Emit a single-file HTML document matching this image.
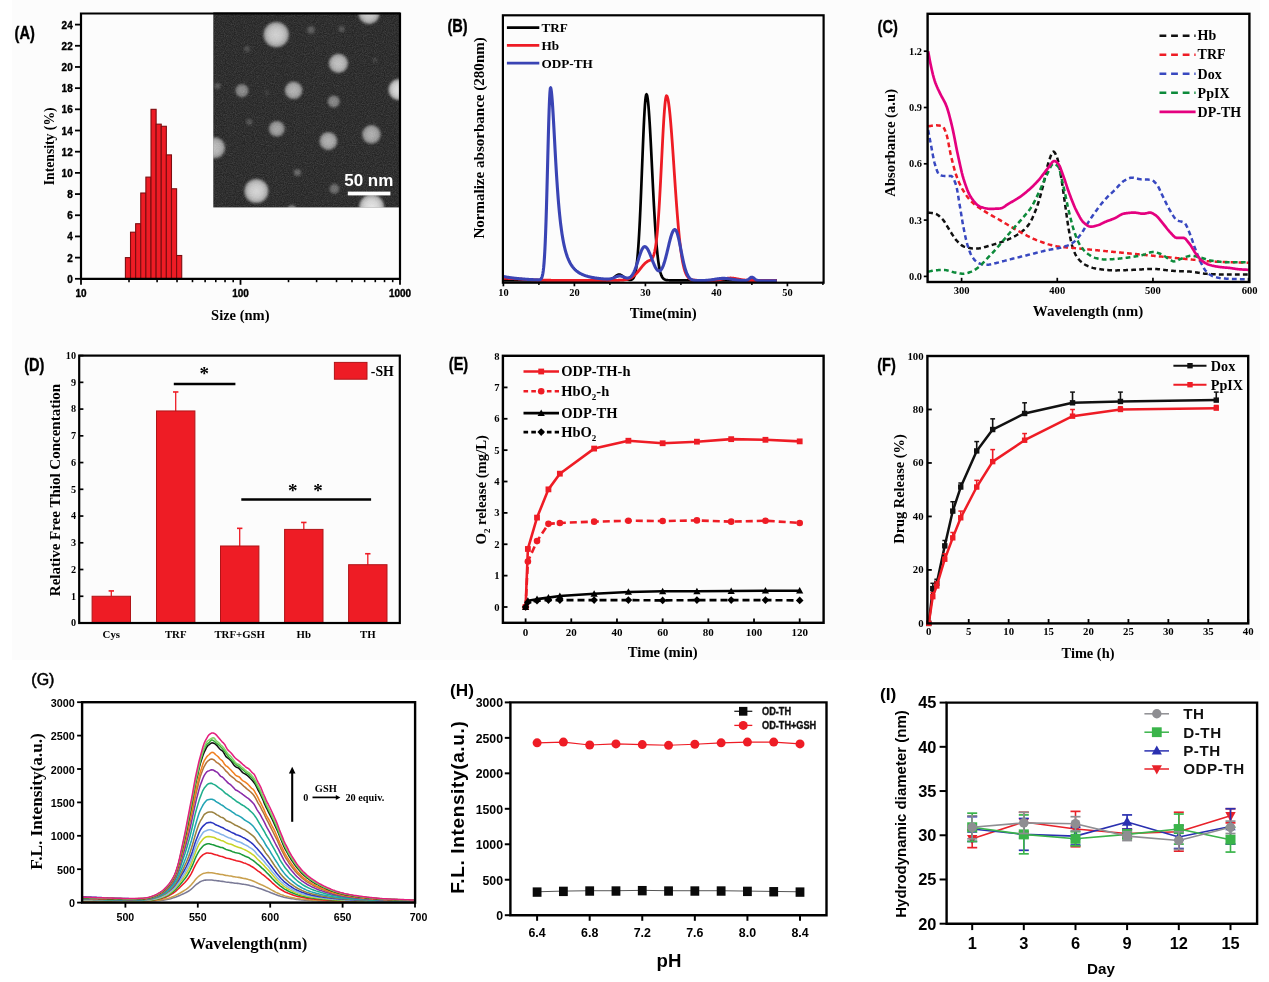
<!DOCTYPE html>
<html lang="en">
<head>
<meta charset="utf-8">
<title>Figure: characterization of ODP-TH nanoparticles</title>
<style>
html,body{margin:0;padding:0;background:#fff;}
body{width:1269px;height:982px;overflow:hidden;}
svg{display:block;}
text.se{font-family:'Liberation Serif', 'DejaVu Serif', serif;}
text.sa{font-family:'Liberation Sans', 'DejaVu Sans', sans-serif;}
</style>
</head>
<body>
<svg width="1269" height="982" viewBox="0 0 1269 982">
<rect x="0" y="0" width="1269" height="982" fill="#ffffff"/>
<rect x="12" y="0" width="1248" height="660" fill="#fcfcfc"/>
<g id="panelA">
<text class="sa" transform="translate(14.6 38.8) scale(0.79 1)" font-size="18.4" font-weight="bold" text-anchor="start" fill="#000" stroke="#000" stroke-width="0.4">(A)</text>
<line x1="75" y1="278.8" x2="81" y2="278.8" stroke="#000" stroke-width="1.8" />
<text class="sa" transform="translate(72.7 282.8) scale(0.89 1)" font-size="11.2" font-weight="bold" text-anchor="end" fill="#000" stroke="#000" stroke-width="0.4">0</text>
<line x1="75" y1="257.62" x2="81" y2="257.62" stroke="#000" stroke-width="1.8" />
<text class="sa" transform="translate(72.7 261.62) scale(0.89 1)" font-size="11.2" font-weight="bold" text-anchor="end" fill="#000" stroke="#000" stroke-width="0.4">2</text>
<line x1="75" y1="236.43" x2="81" y2="236.43" stroke="#000" stroke-width="1.8" />
<text class="sa" transform="translate(72.7 240.43) scale(0.89 1)" font-size="11.2" font-weight="bold" text-anchor="end" fill="#000" stroke="#000" stroke-width="0.4">4</text>
<line x1="75" y1="215.25" x2="81" y2="215.25" stroke="#000" stroke-width="1.8" />
<text class="sa" transform="translate(72.7 219.25) scale(0.89 1)" font-size="11.2" font-weight="bold" text-anchor="end" fill="#000" stroke="#000" stroke-width="0.4">6</text>
<line x1="75" y1="194.07" x2="81" y2="194.07" stroke="#000" stroke-width="1.8" />
<text class="sa" transform="translate(72.7 198.07) scale(0.89 1)" font-size="11.2" font-weight="bold" text-anchor="end" fill="#000" stroke="#000" stroke-width="0.4">8</text>
<line x1="75" y1="172.88" x2="81" y2="172.88" stroke="#000" stroke-width="1.8" />
<text class="sa" transform="translate(72.7 176.88) scale(0.89 1)" font-size="11.2" font-weight="bold" text-anchor="end" fill="#000" stroke="#000" stroke-width="0.4">10</text>
<line x1="75" y1="151.7" x2="81" y2="151.7" stroke="#000" stroke-width="1.8" />
<text class="sa" transform="translate(72.7 155.7) scale(0.89 1)" font-size="11.2" font-weight="bold" text-anchor="end" fill="#000" stroke="#000" stroke-width="0.4">12</text>
<line x1="75" y1="130.52" x2="81" y2="130.52" stroke="#000" stroke-width="1.8" />
<text class="sa" transform="translate(72.7 134.52) scale(0.89 1)" font-size="11.2" font-weight="bold" text-anchor="end" fill="#000" stroke="#000" stroke-width="0.4">14</text>
<line x1="75" y1="109.33" x2="81" y2="109.33" stroke="#000" stroke-width="1.8" />
<text class="sa" transform="translate(72.7 113.33) scale(0.89 1)" font-size="11.2" font-weight="bold" text-anchor="end" fill="#000" stroke="#000" stroke-width="0.4">16</text>
<line x1="75" y1="88.15" x2="81" y2="88.15" stroke="#000" stroke-width="1.8" />
<text class="sa" transform="translate(72.7 92.15) scale(0.89 1)" font-size="11.2" font-weight="bold" text-anchor="end" fill="#000" stroke="#000" stroke-width="0.4">18</text>
<line x1="75" y1="66.97" x2="81" y2="66.97" stroke="#000" stroke-width="1.8" />
<text class="sa" transform="translate(72.7 70.97) scale(0.89 1)" font-size="11.2" font-weight="bold" text-anchor="end" fill="#000" stroke="#000" stroke-width="0.4">20</text>
<line x1="75" y1="45.78" x2="81" y2="45.78" stroke="#000" stroke-width="1.8" />
<text class="sa" transform="translate(72.7 49.78) scale(0.89 1)" font-size="11.2" font-weight="bold" text-anchor="end" fill="#000" stroke="#000" stroke-width="0.4">22</text>
<line x1="75" y1="24.6" x2="81" y2="24.6" stroke="#000" stroke-width="1.8" />
<text class="sa" transform="translate(72.7 28.6) scale(0.89 1)" font-size="11.2" font-weight="bold" text-anchor="end" fill="#000" stroke="#000" stroke-width="0.4">24</text>
<line x1="129.01" y1="278.8" x2="129.01" y2="282.2" stroke="#000" stroke-width="1.6" />
<line x1="157.1" y1="278.8" x2="157.1" y2="282.2" stroke="#000" stroke-width="1.6" />
<line x1="177.03" y1="278.8" x2="177.03" y2="282.2" stroke="#000" stroke-width="1.6" />
<line x1="192.49" y1="278.8" x2="192.49" y2="282.2" stroke="#000" stroke-width="1.6" />
<line x1="205.12" y1="278.8" x2="205.12" y2="282.2" stroke="#000" stroke-width="1.6" />
<line x1="215.79" y1="278.8" x2="215.79" y2="282.2" stroke="#000" stroke-width="1.6" />
<line x1="225.04" y1="278.8" x2="225.04" y2="282.2" stroke="#000" stroke-width="1.6" />
<line x1="233.2" y1="278.8" x2="233.2" y2="282.2" stroke="#000" stroke-width="1.6" />
<line x1="288.51" y1="278.8" x2="288.51" y2="282.2" stroke="#000" stroke-width="1.6" />
<line x1="316.6" y1="278.8" x2="316.6" y2="282.2" stroke="#000" stroke-width="1.6" />
<line x1="336.53" y1="278.8" x2="336.53" y2="282.2" stroke="#000" stroke-width="1.6" />
<line x1="351.99" y1="278.8" x2="351.99" y2="282.2" stroke="#000" stroke-width="1.6" />
<line x1="364.62" y1="278.8" x2="364.62" y2="282.2" stroke="#000" stroke-width="1.6" />
<line x1="375.29" y1="278.8" x2="375.29" y2="282.2" stroke="#000" stroke-width="1.6" />
<line x1="384.54" y1="278.8" x2="384.54" y2="282.2" stroke="#000" stroke-width="1.6" />
<line x1="392.7" y1="278.8" x2="392.7" y2="282.2" stroke="#000" stroke-width="1.6" />
<line x1="81" y1="278.8" x2="81" y2="284.8" stroke="#000" stroke-width="1.8" />
<text class="sa" transform="translate(81 296.9) scale(0.89 1)" font-size="11.2" font-weight="bold" text-anchor="middle" fill="#000" stroke="#000" stroke-width="0.4">10</text>
<line x1="240.5" y1="278.8" x2="240.5" y2="284.8" stroke="#000" stroke-width="1.8" />
<text class="sa" transform="translate(240.5 296.9) scale(0.89 1)" font-size="11.2" font-weight="bold" text-anchor="middle" fill="#000" stroke="#000" stroke-width="0.4">100</text>
<line x1="400" y1="278.8" x2="400" y2="284.8" stroke="#000" stroke-width="1.8" />
<text class="sa" transform="translate(400 296.9) scale(0.89 1)" font-size="11.2" font-weight="bold" text-anchor="middle" fill="#000" stroke="#000" stroke-width="0.4">1000</text>
<rect x="125.4" y="257.62" width="5.12" height="21.18" fill="#ee1c25" stroke="#7d0d10" stroke-width="1.1" />
<rect x="130.52" y="232.2" width="5.12" height="46.6" fill="#ee1c25" stroke="#7d0d10" stroke-width="1.1" />
<rect x="135.64" y="223.72" width="5.12" height="55.08" fill="#ee1c25" stroke="#7d0d10" stroke-width="1.1" />
<rect x="140.76" y="193.01" width="5.12" height="85.79" fill="#ee1c25" stroke="#7d0d10" stroke-width="1.1" />
<rect x="145.88" y="177.12" width="5.12" height="101.68" fill="#ee1c25" stroke="#7d0d10" stroke-width="1.1" />
<rect x="151" y="109.33" width="5.12" height="169.47" fill="#ee1c25" stroke="#7d0d10" stroke-width="1.1" />
<rect x="156.12" y="124.16" width="5.12" height="154.64" fill="#ee1c25" stroke="#7d0d10" stroke-width="1.1" />
<rect x="161.24" y="126.28" width="5.12" height="152.52" fill="#ee1c25" stroke="#7d0d10" stroke-width="1.1" />
<rect x="166.36" y="154.88" width="5.12" height="123.92" fill="#ee1c25" stroke="#7d0d10" stroke-width="1.1" />
<rect x="171.48" y="188.77" width="5.12" height="90.03" fill="#ee1c25" stroke="#7d0d10" stroke-width="1.1" />
<rect x="176.6" y="255.5" width="5.12" height="23.3" fill="#ee1c25" stroke="#7d0d10" stroke-width="1.1" />
<defs><clipPath id="temclip"><rect x="213.3" y="12.4" width="186.7" height="195"/></clipPath></defs>
<defs><filter id="temblur" x="-20%" y="-20%" width="140%" height="140%"><feGaussianBlur stdDeviation="1.0"/></filter><filter id="grain" x="0%" y="0%" width="100%" height="100%"><feTurbulence type="fractalNoise" baseFrequency="0.9" numOctaves="2" seed="4" result="n"/><feColorMatrix type="matrix" values="0 0 0 0 0.5  0 0 0 0 0.5  0 0 0 0 0.5  0.55 0.55 0.55 0 -0.62" result="m"/><feComposite in="m" in2="SourceGraphic" operator="in"/></filter></defs>
<rect x="213.3" y="12.4" width="186.7" height="195" fill="#252525" stroke="none" stroke-width="1" />
<rect x="213.3" y="12.4" width="186.7" height="195" fill="#888" stroke="none" stroke-width="0" filter="url(#grain)" opacity="0.35"/>
<g clip-path="url(#temclip)"><g filter="url(#temblur)">
<defs><radialGradient id="sph"><stop offset="0" stop-color="#fff" stop-opacity="1"/><stop offset="0.55" stop-color="#fff" stop-opacity="0.9"/><stop offset="0.85" stop-color="#fff" stop-opacity="0.72"/><stop offset="1" stop-color="#fff" stop-opacity="0.45"/></radialGradient></defs>
<circle cx="276.2" cy="34.7" r="12.85" fill="url(#sph)" opacity="0.79"/>
<circle cx="369" cy="13.5" r="10.75" fill="url(#sph)" opacity="0.77"/>
<circle cx="311" cy="30" r="4.25" fill="url(#sph)" opacity="0.24"/>
<circle cx="341.6" cy="29" r="3.45" fill="url(#sph)" opacity="0.2"/>
<circle cx="247" cy="49" r="3.25" fill="url(#sph)" opacity="0.17"/>
<circle cx="338.4" cy="63.4" r="9.85" fill="url(#sph)" opacity="0.72"/>
<circle cx="375" cy="60" r="2.45" fill="url(#sph)" opacity="0.14"/>
<circle cx="217.5" cy="86" r="3.45" fill="url(#sph)" opacity="0.22"/>
<circle cx="242" cy="90.7" r="6.85" fill="url(#sph)" opacity="0.47"/>
<circle cx="293.6" cy="90.3" r="9.05" fill="url(#sph)" opacity="0.65"/>
<circle cx="267" cy="92.5" r="2.25" fill="url(#sph)" opacity="0.12"/>
<circle cx="333.7" cy="101.5" r="6.35" fill="url(#sph)" opacity="0.45"/>
<circle cx="399" cy="89.6" r="10.75" fill="url(#sph)" opacity="0.86"/>
<circle cx="249.3" cy="122" r="3.45" fill="url(#sph)" opacity="0.2"/>
<circle cx="276.8" cy="128.8" r="8.15" fill="url(#sph)" opacity="0.58"/>
<circle cx="328.4" cy="141" r="9.15" fill="url(#sph)" opacity="0.64"/>
<circle cx="371.4" cy="134.4" r="9.55" fill="url(#sph)" opacity="0.63"/>
<circle cx="214.5" cy="147.8" r="10.75" fill="url(#sph)" opacity="0.7"/>
<circle cx="297.4" cy="172.5" r="3.85" fill="url(#sph)" opacity="0.3"/>
<circle cx="334.4" cy="188.8" r="5.25" fill="url(#sph)" opacity="0.33"/>
<circle cx="256.4" cy="191" r="12.25" fill="url(#sph)" opacity="0.81"/>
<circle cx="371.6" cy="207" r="12.75" fill="url(#sph)" opacity="0.88"/>
<circle cx="292" cy="209.5" r="4.75" fill="url(#sph)" opacity="0.45"/>
</g></g>
<rect x="347.8" y="191.6" width="42.6" height="3.8" fill="#ffffff" stroke="none" stroke-width="1" />
<text class="sa" x="368.8" y="185.8" font-size="17" font-weight="bold" text-anchor="middle" fill="#ffffff" >50 nm</text>
<path d="M81 13.5 H400 V278.8 H81 Z" fill="none" stroke="#000" stroke-width="2.2"/>
<text class="se" x="54.2" y="146.3" font-size="13.7" font-weight="bold" text-anchor="middle" fill="#000" transform="rotate(-90 54.2 146.3)" >Intensity (%)</text>
<text class="se" x="240.3" y="319.6" font-size="14.5" font-weight="bold" text-anchor="middle" fill="#000" >Size (nm)</text>
</g>
<g id="panelB">
<text class="sa" transform="translate(447.4 31.8) scale(0.79 1)" font-size="18.4" font-weight="bold" text-anchor="start" fill="#000" stroke="#000" stroke-width="0.4">(B)</text>
<line x1="503.4" y1="282.7" x2="503.4" y2="286.3" stroke="#000" stroke-width="1.7" />
<text class="se" x="503.4" y="296" font-size="10.4" font-weight="bold" text-anchor="middle" fill="#000" >10</text>
<line x1="574.4" y1="282.7" x2="574.4" y2="286.3" stroke="#000" stroke-width="1.7" />
<text class="se" x="574.4" y="296" font-size="10.4" font-weight="bold" text-anchor="middle" fill="#000" >20</text>
<line x1="645.4" y1="282.7" x2="645.4" y2="286.3" stroke="#000" stroke-width="1.7" />
<text class="se" x="645.4" y="296" font-size="10.4" font-weight="bold" text-anchor="middle" fill="#000" >30</text>
<line x1="716.4" y1="282.7" x2="716.4" y2="286.3" stroke="#000" stroke-width="1.7" />
<text class="se" x="716.4" y="296" font-size="10.4" font-weight="bold" text-anchor="middle" fill="#000" >40</text>
<line x1="787.4" y1="282.7" x2="787.4" y2="286.3" stroke="#000" stroke-width="1.7" />
<text class="se" x="787.4" y="296" font-size="10.4" font-weight="bold" text-anchor="middle" fill="#000" >50</text>
<line x1="538.9" y1="282.7" x2="538.9" y2="285.1" stroke="#000" stroke-width="1.5" />
<line x1="609.9" y1="282.7" x2="609.9" y2="285.1" stroke="#000" stroke-width="1.5" />
<line x1="680.9" y1="282.7" x2="680.9" y2="285.1" stroke="#000" stroke-width="1.5" />
<line x1="751.9" y1="282.7" x2="751.9" y2="285.1" stroke="#000" stroke-width="1.5" />
<line x1="822.9" y1="282.7" x2="822.9" y2="285.1" stroke="#000" stroke-width="1.5" />
<polyline points="503.4,280.33 503.79,280.33 504.18,280.33 504.57,280.33 504.96,280.33 505.36,280.33 505.75,280.33 506.14,280.33 506.53,280.33 506.92,280.33 507.31,280.33 507.7,280.33 508.09,280.33 508.48,280.33 508.87,280.33 509.27,280.33 509.66,280.33 510.05,280.33 510.44,280.33 510.83,280.33 511.22,280.33 511.61,280.33 512,280.33 512.39,280.33 512.79,280.33 513.18,280.33 513.57,280.33 513.96,280.33 514.35,280.33 514.74,280.33 515.13,280.33 515.52,280.33 515.91,280.33 516.3,280.33 516.7,280.33 517.09,280.33 517.48,280.33 517.87,280.33 518.26,280.33 518.65,280.33 519.04,280.33 519.43,280.33 519.82,280.33 520.22,280.33 520.61,280.33 521,280.33 521.39,280.33 521.78,280.33 522.17,280.33 522.56,280.33 522.95,280.33 523.34,280.33 523.74,280.33 524.13,280.33 524.52,280.33 524.91,280.33 525.3,280.33 525.69,280.33 526.08,280.33 526.47,280.33 526.86,280.33 527.25,280.33 527.65,280.33 528.04,280.33 528.43,280.33 528.82,280.33 529.21,280.33 529.6,280.33 529.99,280.33 530.38,280.33 530.77,280.33 531.17,280.33 531.56,280.33 531.95,280.33 532.34,280.33 532.73,280.33 533.12,280.33 533.51,280.33 533.9,280.33 534.29,280.33 534.68,280.33 535.08,280.33 535.47,280.33 535.86,280.33 536.25,280.33 536.64,280.33 537.03,280.33 537.42,280.33 537.81,280.33 538.2,280.33 538.6,280.33 538.99,280.33 539.38,280.33 539.77,280.33 540.16,280.33 540.55,280.33 540.94,280.33 541.33,280.33 541.72,280.33 542.11,280.33 542.51,280.33 542.9,280.33 543.29,280.33 543.68,280.33 544.07,280.33 544.46,280.33 544.85,280.33 545.24,280.33 545.63,280.33 546.03,280.33 546.42,280.33 546.81,280.33 547.2,280.33 547.59,280.33 547.98,280.33 548.37,280.33 548.76,280.33 549.15,280.33 549.54,280.33 549.94,280.33 550.33,280.33 550.72,280.33 551.11,280.33 551.5,280.33 551.89,280.33 552.28,280.33 552.67,280.33 553.06,280.33 553.46,280.33 553.85,280.33 554.24,280.33 554.63,280.33 555.02,280.33 555.41,280.33 555.8,280.33 556.19,280.33 556.58,280.33 556.98,280.33 557.37,280.33 557.76,280.33 558.15,280.33 558.54,280.33 558.93,280.33 559.32,280.33 559.71,280.33 560.1,280.33 560.49,280.33 560.89,280.33 561.28,280.33 561.67,280.33 562.06,280.33 562.45,280.33 562.84,280.33 563.23,280.33 563.62,280.33 564.01,280.33 564.41,280.33 564.8,280.33 565.19,280.33 565.58,280.33 565.97,280.33 566.36,280.33 566.75,280.33 567.14,280.33 567.53,280.33 567.92,280.33 568.32,280.33 568.71,280.33 569.1,280.33 569.49,280.33 569.88,280.33 570.27,280.33 570.66,280.33 571.05,280.33 571.44,280.33 571.84,280.33 572.23,280.33 572.62,280.33 573.01,280.33 573.4,280.33 573.79,280.33 574.18,280.33 574.57,280.33 574.96,280.33 575.35,280.33 575.75,280.33 576.14,280.33 576.53,280.33 576.92,280.33 577.31,280.33 577.7,280.33 578.09,280.33 578.48,280.33 578.87,280.33 579.27,280.33 579.66,280.33 580.05,280.33 580.44,280.33 580.83,280.33 581.22,280.33 581.61,280.33 582,280.33 582.39,280.33 582.78,280.33 583.18,280.33 583.57,280.33 583.96,280.33 584.35,280.33 584.74,280.33 585.13,280.33 585.52,280.33 585.91,280.33 586.3,280.33 586.7,280.33 587.09,280.33 587.48,280.33 587.87,280.33 588.26,280.33 588.65,280.33 589.04,280.33 589.43,280.33 589.82,280.33 590.22,280.33 590.61,280.33 591,280.33 591.39,280.33 591.78,280.33 592.17,280.33 592.56,280.33 592.95,280.33 593.34,280.33 593.73,280.33 594.13,280.33 594.52,280.33 594.91,280.33 595.3,280.33 595.69,280.33 596.08,280.33 596.47,280.33 596.86,280.33 597.25,280.33 597.65,280.33 598.04,280.33 598.43,280.33 598.82,280.33 599.21,280.33 599.6,280.33 599.99,280.33 600.38,280.33 600.77,280.33 601.16,280.33 601.56,280.33 601.95,280.33 602.34,280.33 602.73,280.33 603.12,280.32 603.51,280.32 603.9,280.32 604.29,280.32 604.68,280.31 605.08,280.3 605.47,280.3 605.86,280.28 606.25,280.27 606.64,280.25 607.03,280.23 607.42,280.2 607.81,280.16 608.2,280.11 608.59,280.06 608.99,279.99 609.38,279.91 609.77,279.81 610.16,279.7 610.55,279.57 610.94,279.42 611.33,279.25 611.72,279.05 612.11,278.84 612.51,278.6 612.9,278.35 613.29,278.07 613.68,277.78 614.07,277.47 614.46,277.16 614.85,276.84 615.24,276.51 615.63,276.2 616.02,275.89 616.42,275.61 616.81,275.34 617.2,275.11 617.59,274.91 617.98,274.75 618.37,274.64 618.76,274.57 619.15,274.54 619.54,274.57 619.94,274.65 620.33,274.77 620.72,274.93 621.11,275.14 621.5,275.37 621.89,275.64 622.28,275.93 622.67,276.24 623.06,276.55 623.46,276.87 623.85,277.19 624.24,277.51 624.63,277.81 625.02,278.1 625.41,278.38 625.8,278.63 626.19,278.86 626.58,279.07 626.97,279.26 627.37,279.42 627.76,279.56 628.15,279.68 628.54,279.78 628.93,279.85 629.32,279.9 629.71,279.93 630.1,279.93 630.49,279.91 630.89,279.85 631.28,279.75 631.67,279.6 632.06,279.39 632.45,279.11 632.84,278.75 633.23,278.28 633.62,277.67 634.01,276.91 634.4,275.96 634.8,274.78 635.19,273.34 635.58,271.59 635.97,269.49 636.36,266.98 636.75,264.03 637.14,260.58 637.53,256.58 637.92,252 638.32,246.81 638.71,240.97 639.1,234.48 639.49,227.34 639.88,219.57 640.27,211.2 640.66,202.31 641.05,192.96 641.44,183.26 641.83,173.33 642.23,163.31 642.62,153.36 643.01,143.65 643.4,134.35 643.79,125.64 644.18,117.71 644.57,110.71 644.96,104.79 645.35,100.11 645.75,96.75 646.14,94.79 646.53,94.29 646.92,94.9 647.31,96.43 647.7,98.85 648.09,102.13 648.48,106.23 648.87,111.07 649.26,116.6 649.66,122.73 650.05,129.39 650.44,136.49 650.83,143.94 651.22,151.64 651.61,159.51 652,167.47 652.39,175.42 652.78,183.3 653.18,191.04 653.57,198.56 653.96,205.83 654.35,212.79 654.74,219.4 655.13,225.63 655.52,231.48 655.91,236.91 656.3,241.94 656.69,246.55 657.09,250.75 657.48,254.56 657.87,257.99 658.26,261.06 658.65,263.8 659.04,266.21 659.43,268.33 659.82,270.19 660.21,271.8 660.61,273.19 661,274.38 661.39,275.4 661.78,276.26 662.17,276.99 662.56,277.6 662.95,278.12 663.34,278.54 663.73,278.89 664.13,279.18 664.52,279.41 664.91,279.6 665.3,279.76 665.69,279.88 666.08,279.98 666.47,280.06 666.86,280.12 667.25,280.17 667.64,280.2 668.04,280.23 668.43,280.26 668.82,280.27 669.21,280.29 669.6,280.3 669.99,280.31 670.38,280.31 670.77,280.32 671.16,280.32 671.56,280.32 671.95,280.32 672.34,280.33 672.73,280.33 673.12,280.33 673.51,280.33 673.9,280.33 674.29,280.33 674.68,280.33 675.07,280.33 675.47,280.33 675.86,280.33 676.25,280.33 676.64,280.33 677.03,280.33 677.42,280.33 677.81,280.33 678.2,280.33 678.59,280.33 678.99,280.33 679.38,280.33 679.77,280.33 680.16,280.33 680.55,280.33 680.94,280.33 681.33,280.33 681.72,280.33 682.11,280.33 682.5,280.33 682.9,280.33 683.29,280.33 683.68,280.33 684.07,280.33 684.46,280.33 684.85,280.33 685.24,280.33 685.63,280.33 686.02,280.33 686.42,280.33 686.81,280.33 687.2,280.33 687.59,280.33 687.98,280.33 688.37,280.33 688.76,280.33 689.15,280.33 689.54,280.33 689.93,280.33 690.33,280.33 690.72,280.33 691.11,280.33 691.5,280.33 691.89,280.33 692.28,280.33 692.67,280.33 693.06,280.33 693.45,280.33 693.85,280.33 694.24,280.33 694.63,280.33 695.02,280.33 695.41,280.33 695.8,280.33 696.19,280.33 696.58,280.33 696.97,280.33 697.37,280.33 697.76,280.33 698.15,280.33 698.54,280.33 698.93,280.33 699.32,280.33 699.71,280.33 700.1,280.33 700.49,280.33 700.88,280.33 701.28,280.33 701.67,280.33 702.06,280.33 702.45,280.33 702.84,280.33 703.23,280.33 703.62,280.33 704.01,280.33 704.4,280.33 704.8,280.33 705.19,280.33 705.58,280.33 705.97,280.33 706.36,280.33 706.75,280.33 707.14,280.33 707.53,280.33 707.92,280.33 708.31,280.33 708.71,280.33 709.1,280.33 709.49,280.33 709.88,280.33 710.27,280.33 710.66,280.33 711.05,280.33 711.44,280.33 711.83,280.33 712.23,280.33 712.62,280.33 713.01,280.33 713.4,280.33 713.79,280.33 714.18,280.33 714.57,280.33 714.96,280.33 715.35,280.33 715.74,280.33 716.14,280.33 716.53,280.33 716.92,280.33 717.31,280.33 717.7,280.33 718.09,280.33 718.48,280.33 718.87,280.33 719.26,280.33 719.66,280.33 720.05,280.33 720.44,280.33 720.83,280.33 721.22,280.33 721.61,280.33 722,280.33 722.39,280.33 722.78,280.33 723.17,280.33 723.57,280.33 723.96,280.33 724.35,280.33 724.74,280.33 725.13,280.33 725.52,280.33 725.91,280.33 726.3,280.33 726.69,280.33 727.09,280.33 727.48,280.33 727.87,280.33 728.26,280.33 728.65,280.33 729.04,280.33 729.43,280.33 729.82,280.33 730.21,280.33 730.61,280.33 731,280.33 731.39,280.33 731.78,280.33 732.17,280.33 732.56,280.33 732.95,280.33 733.34,280.33 733.73,280.33 734.12,280.33 734.52,280.33 734.91,280.33 735.3,280.33 735.69,280.33 736.08,280.33 736.47,280.33 736.86,280.33 737.25,280.33 737.64,280.33 738.04,280.33 738.43,280.33 738.82,280.33 739.21,280.33 739.6,280.33 739.99,280.33 740.38,280.33 740.77,280.33 741.16,280.33 741.55,280.33 741.95,280.33 742.34,280.33 742.73,280.33 743.12,280.33 743.51,280.33 743.9,280.33 744.29,280.33 744.68,280.33 745.07,280.33 745.47,280.33 745.86,280.33 746.25,280.33 746.64,280.33 747.03,280.33 747.42,280.33 747.81,280.33 748.2,280.33 748.59,280.33 748.98,280.33 749.38,280.33 749.77,280.33 750.16,280.33 750.55,280.33 750.94,280.33 751.33,280.33 751.72,280.33 752.11,280.33 752.5,280.33 752.9,280.33 753.29,280.33 753.68,280.33 754.07,280.33 754.46,280.33 754.85,280.33 755.24,280.33 755.63,280.33 756.02,280.33 756.41,280.33 756.81,280.33 757.2,280.33 757.59,280.33 757.98,280.33 758.37,280.33 758.76,280.33 759.15,280.33 759.54,280.33 759.93,280.33 760.33,280.33 760.72,280.33 761.11,280.33 761.5,280.33 761.89,280.33 762.28,280.33 762.67,280.33 763.06,280.33 763.45,280.33 763.85,280.33 764.24,280.33 764.63,280.33 765.02,280.33 765.41,280.33 765.8,280.33 766.19,280.33 766.58,280.33 766.97,280.33 767.36,280.33 767.76,280.33 768.15,280.33 768.54,280.33 768.93,280.33 769.32,280.33 769.71,280.33 770.1,280.33 770.49,280.33 770.88,280.33 771.28,280.33 771.67,280.33 772.06,280.33 772.45,280.33 772.84,280.33 773.23,280.33 773.62,280.33 774.01,280.33 774.4,280.33 774.79,280.33 775.19,280.33 775.58,280.33 775.97,280.33 776.36,280.33 776.75,280.33" fill="none" stroke="#000000" stroke-width="2.7" stroke-linejoin="round" stroke-linecap="butt" />
<polyline points="503.4,278.4 503.79,278.4 504.18,278.4 504.57,278.41 504.96,278.41 505.36,278.41 505.75,278.42 506.14,278.42 506.53,278.43 506.92,278.44 507.31,278.45 507.7,278.46 508.09,278.47 508.48,278.48 508.87,278.49 509.27,278.5 509.66,278.52 510.05,278.53 510.44,278.55 510.83,278.56 511.22,278.58 511.61,278.6 512,278.61 512.39,278.63 512.79,278.65 513.18,278.67 513.57,278.69 513.96,278.71 514.35,278.73 514.74,278.76 515.13,278.78 515.52,278.8 515.91,278.83 516.3,278.85 516.7,278.87 517.09,278.9 517.48,278.92 517.87,278.95 518.26,278.97 518.65,279 519.04,279.02 519.43,279.05 519.82,279.07 520.22,279.1 520.61,279.12 521,279.15 521.39,279.18 521.78,279.2 522.17,279.23 522.56,279.25 522.95,279.28 523.34,279.3 523.74,279.33 524.13,279.35 524.52,279.38 524.91,279.4 525.3,279.43 525.69,279.45 526.08,279.48 526.47,279.5 526.86,279.52 527.25,279.55 527.65,279.57 528.04,279.59 528.43,279.62 528.82,279.64 529.21,279.66 529.6,279.68 529.99,279.7 530.38,279.72 530.77,279.74 531.17,279.76 531.56,279.78 531.95,279.8 532.34,279.82 532.73,279.84 533.12,279.85 533.51,279.87 533.9,279.89 534.29,279.9 534.68,279.92 535.08,279.94 535.47,279.95 535.86,279.97 536.25,279.98 536.64,279.99 537.03,280.01 537.42,280.02 537.81,280.03 538.2,280.05 538.6,280.06 538.99,280.07 539.38,280.08 539.77,280.09 540.16,280.1 540.55,280.11 540.94,280.12 541.33,280.13 541.72,280.14 542.11,280.15 542.51,280.16 542.9,280.17 543.29,280.17 543.68,280.18 544.07,280.19 544.46,280.2 544.85,280.2 545.24,280.21 545.63,280.22 546.03,280.22 546.42,280.23 546.81,280.23 547.2,280.24 547.59,280.24 547.98,280.25 548.37,280.25 548.76,280.26 549.15,280.26 549.54,280.26 549.94,280.27 550.33,280.27 550.72,280.27 551.11,280.28 551.5,280.28 551.89,280.28 552.28,280.29 552.67,280.29 553.06,280.29 553.46,280.29 553.85,280.29 554.24,280.3 554.63,280.3 555.02,280.3 555.41,280.3 555.8,280.3 556.19,280.31 556.58,280.31 556.98,280.31 557.37,280.31 557.76,280.31 558.15,280.31 558.54,280.31 558.93,280.31 559.32,280.32 559.71,280.32 560.1,280.32 560.49,280.32 560.89,280.32 561.28,280.32 561.67,280.32 562.06,280.32 562.45,280.32 562.84,280.32 563.23,280.32 563.62,280.32 564.01,280.32 564.41,280.32 564.8,280.32 565.19,280.32 565.58,280.32 565.97,280.32 566.36,280.33 566.75,280.33 567.14,280.33 567.53,280.33 567.92,280.33 568.32,280.33 568.71,280.33 569.1,280.33 569.49,280.33 569.88,280.33 570.27,280.33 570.66,280.33 571.05,280.33 571.44,280.33 571.84,280.33 572.23,280.33 572.62,280.33 573.01,280.33 573.4,280.33 573.79,280.33 574.18,280.33 574.57,280.33 574.96,280.33 575.35,280.33 575.75,280.33 576.14,280.33 576.53,280.33 576.92,280.33 577.31,280.33 577.7,280.33 578.09,280.33 578.48,280.33 578.87,280.33 579.27,280.33 579.66,280.33 580.05,280.33 580.44,280.33 580.83,280.33 581.22,280.33 581.61,280.33 582,280.33 582.39,280.33 582.78,280.33 583.18,280.33 583.57,280.33 583.96,280.33 584.35,280.33 584.74,280.33 585.13,280.33 585.52,280.33 585.91,280.33 586.3,280.33 586.7,280.33 587.09,280.33 587.48,280.33 587.87,280.33 588.26,280.33 588.65,280.33 589.04,280.33 589.43,280.33 589.82,280.33 590.22,280.33 590.61,280.33 591,280.33 591.39,280.33 591.78,280.33 592.17,280.33 592.56,280.33 592.95,280.33 593.34,280.33 593.73,280.33 594.13,280.33 594.52,280.33 594.91,280.33 595.3,280.33 595.69,280.33 596.08,280.33 596.47,280.33 596.86,280.33 597.25,280.33 597.65,280.33 598.04,280.33 598.43,280.33 598.82,280.33 599.21,280.33 599.6,280.33 599.99,280.33 600.38,280.33 600.77,280.33 601.16,280.33 601.56,280.33 601.95,280.33 602.34,280.33 602.73,280.33 603.12,280.33 603.51,280.33 603.9,280.33 604.29,280.33 604.68,280.33 605.08,280.33 605.47,280.33 605.86,280.33 606.25,280.33 606.64,280.33 607.03,280.33 607.42,280.33 607.81,280.33 608.2,280.33 608.59,280.33 608.99,280.33 609.38,280.33 609.77,280.33 610.16,280.33 610.55,280.33 610.94,280.33 611.33,280.33 611.72,280.32 612.11,280.32 612.51,280.32 612.9,280.32 613.29,280.32 613.68,280.32 614.07,280.32 614.46,280.32 614.85,280.31 615.24,280.31 615.63,280.31 616.02,280.3 616.42,280.3 616.81,280.29 617.2,280.29 617.59,280.28 617.98,280.28 618.37,280.27 618.76,280.26 619.15,280.25 619.54,280.23 619.94,280.22 620.33,280.21 620.72,280.19 621.11,280.17 621.5,280.15 621.89,280.12 622.28,280.09 622.67,280.06 623.06,280.03 623.46,279.99 623.85,279.94 624.24,279.89 624.63,279.84 625.02,279.78 625.41,279.72 625.8,279.65 626.19,279.57 626.58,279.48 626.97,279.39 627.37,279.29 627.76,279.17 628.15,279.05 628.54,278.92 628.93,278.78 629.32,278.63 629.71,278.46 630.1,278.29 630.49,278.1 630.89,277.89 631.28,277.68 631.67,277.45 632.06,277.2 632.45,276.94 632.84,276.66 633.23,276.37 633.62,276.07 634.01,275.75 634.4,275.41 634.8,275.06 635.19,274.69 635.58,274.31 635.97,273.91 636.36,273.5 636.75,273.08 637.14,272.64 637.53,272.2 637.92,271.74 638.32,271.27 638.71,270.79 639.1,270.31 639.49,269.82 639.88,269.33 640.27,268.84 640.66,268.34 641.05,267.85 641.44,267.35 641.83,266.87 642.23,266.39 642.62,265.92 643.01,265.45 643.4,265.01 643.79,264.57 644.18,264.15 644.57,263.75 644.96,263.37 645.35,263.01 645.75,262.67 646.14,262.35 646.53,262.05 646.92,261.78 647.31,261.53 647.7,261.3 648.09,261.09 648.48,260.89 648.87,260.71 649.26,260.54 649.66,260.36 650.05,260.18 650.44,259.96 650.83,259.71 651.22,259.41 651.61,259.04 652,258.6 652.39,258.05 652.78,257.38 653.18,256.56 653.57,255.58 653.96,254.4 654.35,252.99 654.74,251.33 655.13,249.39 655.52,247.12 655.91,244.51 656.3,241.53 656.69,238.14 657.09,234.33 657.48,230.08 657.87,225.38 658.26,220.22 658.65,214.61 659.04,208.56 659.43,202.09 659.82,195.24 660.21,188.06 660.61,180.59 661,172.9 661.39,165.08 661.78,157.21 662.17,149.39 662.56,141.72 662.95,134.3 663.34,127.25 663.73,120.67 664.13,114.67 664.52,109.34 664.91,104.79 665.3,101.09 665.69,98.32 666.08,96.51 666.47,95.72 666.86,95.91 667.25,96.67 667.64,97.91 668.04,99.62 668.43,101.78 668.82,104.39 669.21,107.42 669.6,110.85 669.99,114.66 670.38,118.81 670.77,123.29 671.16,128.05 671.56,133.06 671.95,138.29 672.34,143.71 672.73,149.27 673.12,154.95 673.51,160.7 673.9,166.51 674.29,172.32 674.68,178.11 675.07,183.86 675.47,189.53 675.86,195.1 676.25,200.55 676.64,205.85 677.03,210.99 677.42,215.95 677.81,220.71 678.2,225.28 678.59,229.63 678.99,233.77 679.38,237.68 679.77,241.38 680.16,244.85 680.55,248.1 680.94,251.13 681.33,253.94 681.72,256.56 682.11,258.97 682.5,261.19 682.9,263.22 683.29,265.08 683.68,266.78 684.07,268.32 684.46,269.71 684.85,270.97 685.24,272.1 685.63,273.11 686.02,274.02 686.42,274.82 686.81,275.54 687.2,276.18 687.59,276.74 687.98,277.23 688.37,277.66 688.76,278.04 689.15,278.37 689.54,278.66 689.93,278.91 690.33,279.12 690.72,279.31 691.11,279.47 691.5,279.6 691.89,279.72 692.28,279.82 692.67,279.9 693.06,279.97 693.45,280.03 693.85,280.08 694.24,280.13 694.63,280.16 695.02,280.19 695.41,280.22 695.8,280.24 696.19,280.25 696.58,280.27 696.97,280.28 697.37,280.29 697.76,280.3 698.15,280.3 698.54,280.31 698.93,280.31 699.32,280.31 699.71,280.32 700.1,280.32 700.49,280.32 700.88,280.32 701.28,280.32 701.67,280.32 702.06,280.33 702.45,280.33 702.84,280.33 703.23,280.33 703.62,280.33 704.01,280.33 704.4,280.33 704.8,280.33 705.19,280.32 705.58,280.32 705.97,280.32 706.36,280.32 706.75,280.32 707.14,280.32 707.53,280.32 707.92,280.31 708.31,280.31 708.71,280.31 709.1,280.31 709.49,280.3 709.88,280.3 710.27,280.29 710.66,280.28 711.05,280.28 711.44,280.27 711.83,280.26 712.23,280.25 712.62,280.24 713.01,280.22 713.4,280.21 713.79,280.19 714.18,280.17 714.57,280.15 714.96,280.12 715.35,280.1 715.74,280.07 716.14,280.04 716.53,280 716.92,279.97 717.31,279.93 717.7,279.88 718.09,279.84 718.48,279.79 718.87,279.74 719.26,279.68 719.66,279.62 720.05,279.56 720.44,279.5 720.83,279.43 721.22,279.36 721.61,279.29 722,279.22 722.39,279.14 722.78,279.07 723.17,278.99 723.57,278.91 723.96,278.84 724.35,278.76 724.74,278.68 725.13,278.61 725.52,278.54 725.91,278.47 726.3,278.4 726.69,278.34 727.09,278.28 727.48,278.23 727.87,278.18 728.26,278.14 728.65,278.1 729.04,278.07 729.43,278.05 729.82,278.03 730.21,278.02 730.61,278.02 731,278.02 731.39,278.03 731.78,278.05 732.17,278.07 732.56,278.1 732.95,278.14 733.34,278.18 733.73,278.23 734.12,278.28 734.52,278.34 734.91,278.4 735.3,278.47 735.69,278.54 736.08,278.61 736.47,278.69 736.86,278.76 737.25,278.84 737.64,278.91 738.04,278.99 738.43,279.07 738.82,279.14 739.21,279.22 739.6,279.29 739.99,279.36 740.38,279.43 740.77,279.5 741.16,279.56 741.55,279.63 741.95,279.68 742.34,279.74 742.73,279.79 743.12,279.84 743.51,279.89 743.9,279.93 744.29,279.97 744.68,280.01 745.07,280.04 745.47,280.07 745.86,280.1 746.25,280.12 746.64,280.15 747.03,280.17 747.42,280.19 747.81,280.21 748.2,280.22 748.59,280.24 748.98,280.25 749.38,280.26 749.77,280.27 750.16,280.28 750.55,280.28 750.94,280.29 751.33,280.3 751.72,280.3 752.11,280.31 752.5,280.31 752.9,280.31 753.29,280.31 753.68,280.32 754.07,280.32 754.46,280.32 754.85,280.32 755.24,280.32 755.63,280.32 756.02,280.32 756.41,280.33 756.81,280.33 757.2,280.33 757.59,280.33 757.98,280.33 758.37,280.33 758.76,280.33 759.15,280.33 759.54,280.33 759.93,280.33 760.33,280.33 760.72,280.33 761.11,280.33 761.5,280.33 761.89,280.33 762.28,280.33 762.67,280.33 763.06,280.33 763.45,280.33 763.85,280.33 764.24,280.33 764.63,280.33 765.02,280.33 765.41,280.33 765.8,280.33 766.19,280.33 766.58,280.33 766.97,280.33 767.36,280.33 767.76,280.33 768.15,280.33 768.54,280.33 768.93,280.33 769.32,280.33 769.71,280.33 770.1,280.33 770.49,280.33 770.88,280.33 771.28,280.33 771.67,280.33 772.06,280.33 772.45,280.33 772.84,280.33 773.23,280.33 773.62,280.33 774.01,280.33 774.4,280.33 774.79,280.33 775.19,280.33 775.58,280.33 775.97,280.33 776.36,280.33 776.75,280.33" fill="none" stroke="#ee1c25" stroke-width="2.8" stroke-linejoin="round" stroke-linecap="butt" />
<polyline points="503.4,276.47 503.79,276.55 504.18,276.63 504.57,276.7 504.96,276.77 505.36,276.84 505.75,276.92 506.14,276.98 506.53,277.05 506.92,277.12 507.31,277.18 507.7,277.25 508.09,277.31 508.48,277.37 508.87,277.43 509.27,277.49 509.66,277.55 510.05,277.61 510.44,277.67 510.83,277.72 511.22,277.78 511.61,277.83 512,277.88 512.39,277.93 512.79,277.98 513.18,278.03 513.57,278.08 513.96,278.13 514.35,278.18 514.74,278.22 515.13,278.27 515.52,278.31 515.91,278.36 516.3,278.4 516.7,278.44 517.09,278.48 517.48,278.52 517.87,278.56 518.26,278.6 518.65,278.64 519.04,278.68 519.43,278.72 519.82,278.75 520.22,278.79 520.61,278.82 521,278.86 521.39,278.89 521.78,278.92 522.17,278.96 522.56,278.99 522.95,279.02 523.34,279.05 523.74,279.08 524.13,279.11 524.52,279.14 524.91,279.17 525.3,279.2 525.69,279.22 526.08,279.25 526.47,279.28 526.86,279.3 527.25,279.33 527.65,279.36 528.04,279.38 528.43,279.4 528.82,279.43 529.21,279.45 529.6,279.47 529.99,279.5 530.38,279.52 530.77,279.54 531.17,279.56 531.56,279.58 531.95,279.6 532.34,279.62 532.73,279.64 533.12,279.66 533.51,279.68 533.9,279.7 534.29,279.72 534.68,279.74 535.08,279.76 535.47,279.77 535.86,279.79 536.25,279.81 536.64,279.82 537.03,279.83 537.42,279.84 537.81,279.85 538.2,279.85 538.6,279.84 538.99,279.82 539.38,279.77 539.77,279.69 540.16,279.55 540.55,279.32 540.94,278.99 541.33,278.48 541.72,277.75 542.11,276.71 542.51,275.26 542.9,273.28 543.29,270.64 543.68,267.18 544.07,262.74 544.46,257.17 544.85,250.31 545.24,242.06 545.63,232.34 546.03,221.16 546.42,208.6 546.81,194.83 547.2,180.15 547.59,164.94 547.98,149.68 548.37,134.92 548.76,121.23 549.15,109.23 549.54,99.45 549.94,92.37 550.33,88.34 550.72,87.75 551.11,89.6 551.5,92.56 551.89,96.54 552.28,101.42 552.67,107.07 553.06,113.33 553.46,120.05 553.85,127.08 554.24,134.28 554.63,141.54 555.02,148.76 555.41,155.84 555.8,162.72 556.19,169.36 556.58,175.72 556.98,181.77 557.37,187.51 557.76,192.93 558.15,198.03 558.54,202.83 558.93,207.32 559.32,211.52 559.71,215.46 560.1,219.13 560.49,222.56 560.89,225.77 561.28,228.76 561.67,231.55 562.06,234.16 562.45,236.6 562.84,238.88 563.23,241.01 563.62,243 564.01,244.86 564.41,246.61 564.8,248.25 565.19,249.79 565.58,251.23 565.97,252.59 566.36,253.86 566.75,255.06 567.14,256.19 567.53,257.26 567.92,258.26 568.32,259.21 568.71,260.11 569.1,260.95 569.49,261.75 569.88,262.51 570.27,263.23 570.66,263.91 571.05,264.56 571.44,265.17 571.84,265.75 572.23,266.3 572.62,266.83 573.01,267.33 573.4,267.81 573.79,268.26 574.18,268.7 574.57,269.11 574.96,269.51 575.35,269.88 575.75,270.24 576.14,270.59 576.53,270.92 576.92,271.23 577.31,271.53 577.7,271.82 578.09,272.1 578.48,272.36 578.87,272.62 579.27,272.86 579.66,273.1 580.05,273.32 580.44,273.54 580.83,273.75 581.22,273.95 581.61,274.14 582,274.33 582.39,274.51 582.78,274.68 583.18,274.85 583.57,275.01 583.96,275.16 584.35,275.31 584.74,275.45 585.13,275.59 585.52,275.73 585.91,275.86 586.3,275.98 586.7,276.1 587.09,276.22 587.48,276.33 587.87,276.44 588.26,276.55 588.65,276.65 589.04,276.75 589.43,276.84 589.82,276.94 590.22,277.03 590.61,277.11 591,277.2 591.39,277.28 591.78,277.36 592.17,277.44 592.56,277.51 592.95,277.58 593.34,277.65 593.73,277.72 594.13,277.79 594.52,277.85 594.91,277.92 595.3,277.98 595.69,278.04 596.08,278.1 596.47,278.15 596.86,278.21 597.25,278.26 597.65,278.31 598.04,278.36 598.43,278.41 598.82,278.46 599.21,278.5 599.6,278.55 599.99,278.59 600.38,278.63 600.77,278.68 601.16,278.72 601.56,278.75 601.95,278.79 602.34,278.83 602.73,278.86 603.12,278.89 603.51,278.93 603.9,278.95 604.29,278.98 604.68,279.01 605.08,279.03 605.47,279.05 605.86,279.06 606.25,279.07 606.64,279.08 607.03,279.08 607.42,279.08 607.81,279.07 608.2,279.05 608.59,279.03 608.99,279 609.38,278.96 609.77,278.91 610.16,278.85 610.55,278.78 610.94,278.69 611.33,278.6 611.72,278.5 612.11,278.38 612.51,278.26 612.9,278.12 613.29,277.98 613.68,277.83 614.07,277.67 614.46,277.5 614.85,277.34 615.24,277.17 615.63,277.01 616.02,276.85 616.42,276.69 616.81,276.55 617.2,276.42 617.59,276.3 617.98,276.2 618.37,276.12 618.76,276.06 619.15,276.01 619.54,276 619.94,276 620.33,276.03 620.72,276.07 621.11,276.14 621.5,276.23 621.89,276.34 622.28,276.46 622.67,276.59 623.06,276.74 623.46,276.89 623.85,277.05 624.24,277.2 624.63,277.35 625.02,277.49 625.41,277.63 625.8,277.74 626.19,277.85 626.58,277.93 626.97,277.98 627.37,278.01 627.76,278.01 628.15,277.97 628.54,277.9 628.93,277.79 629.32,277.64 629.71,277.44 630.1,277.2 630.49,276.91 630.89,276.57 631.28,276.18 631.67,275.73 632.06,275.22 632.45,274.66 632.84,274.04 633.23,273.35 633.62,272.61 634.01,271.81 634.4,270.95 634.8,270.03 635.19,269.05 635.58,268.02 635.97,266.95 636.36,265.83 636.75,264.67 637.14,263.48 637.53,262.26 637.92,261.03 638.32,259.78 638.71,258.54 639.1,257.3 639.49,256.09 639.88,254.91 640.27,253.76 640.66,252.67 641.05,251.64 641.44,250.69 641.83,249.81 642.23,249.03 642.62,248.34 643.01,247.77 643.4,247.31 643.79,246.96 644.18,246.74 644.57,246.64 644.96,246.66 645.35,246.77 645.75,246.98 646.14,247.27 646.53,247.65 646.92,248.12 647.31,248.66 647.7,249.28 648.09,249.97 648.48,250.73 648.87,251.54 649.26,252.4 649.66,253.31 650.05,254.26 650.44,255.24 650.83,256.24 651.22,257.26 651.61,258.28 652,259.31 652.39,260.33 652.78,261.34 653.18,262.33 653.57,263.29 653.96,264.22 654.35,265.11 654.74,265.96 655.13,266.75 655.52,267.49 655.91,268.17 656.3,268.78 656.69,269.33 657.09,269.8 657.48,270.2 657.87,270.52 658.26,270.75 658.65,270.89 659.04,270.95 659.43,270.92 659.82,270.8 660.21,270.58 660.61,270.26 661,269.85 661.39,269.34 661.78,268.74 662.17,268.04 662.56,267.24 662.95,266.35 663.34,265.36 663.73,264.29 664.13,263.13 664.52,261.9 664.91,260.58 665.3,259.19 665.69,257.74 666.08,256.23 666.47,254.67 666.86,253.08 667.25,251.45 667.64,249.8 668.04,248.14 668.43,246.48 668.82,244.83 669.21,243.21 669.6,241.63 669.99,240.09 670.38,238.62 670.77,237.22 671.16,235.91 671.56,234.69 671.95,233.58 672.34,232.59 672.73,231.72 673.12,230.98 673.51,230.39 673.9,229.94 674.29,229.64 674.68,229.5 675.07,229.52 675.47,229.74 675.86,230.18 676.25,230.82 676.64,231.66 677.03,232.68 677.42,233.88 677.81,235.25 678.2,236.75 678.59,238.39 678.99,240.13 679.38,241.96 679.77,243.87 680.16,245.83 680.55,247.82 680.94,249.83 681.33,251.83 681.72,253.82 682.11,255.77 682.5,257.68 682.9,259.53 683.29,261.32 683.68,263.02 684.07,264.65 684.46,266.18 684.85,267.62 685.24,268.97 685.63,270.22 686.02,271.38 686.42,272.44 686.81,273.41 687.2,274.29 687.59,275.09 687.98,275.81 688.37,276.45 688.76,277.02 689.15,277.53 689.54,277.98 689.93,278.37 690.33,278.71 690.72,279.01 691.11,279.27 691.5,279.49 691.89,279.68 692.28,279.84 692.67,279.98 693.06,280.09 693.45,280.19 693.85,280.27 694.24,280.34 694.63,280.39 695.02,280.44 695.41,280.48 695.8,280.51 696.19,280.53 696.58,280.55 696.97,280.56 697.37,280.58 697.76,280.58 698.15,280.59 698.54,280.59 698.93,280.59 699.32,280.59 699.71,280.59 700.1,280.59 700.49,280.58 700.88,280.58 701.28,280.57 701.67,280.56 702.06,280.55 702.45,280.54 702.84,280.53 703.23,280.52 703.62,280.5 704.01,280.49 704.4,280.47 704.8,280.45 705.19,280.43 705.58,280.41 705.97,280.38 706.36,280.35 706.75,280.33 707.14,280.29 707.53,280.26 707.92,280.23 708.31,280.19 708.71,280.15 709.1,280.11 709.49,280.07 709.88,280.02 710.27,279.97 710.66,279.92 711.05,279.87 711.44,279.82 711.83,279.76 712.23,279.7 712.62,279.64 713.01,279.58 713.4,279.52 713.79,279.46 714.18,279.4 714.57,279.33 714.96,279.27 715.35,279.21 715.74,279.14 716.14,279.08 716.53,279.02 716.92,278.96 717.31,278.9 717.7,278.84 718.09,278.78 718.48,278.73 718.87,278.68 719.26,278.63 719.66,278.59 720.05,278.54 720.44,278.51 720.83,278.47 721.22,278.44 721.61,278.42 722,278.4 722.39,278.38 722.78,278.37 723.17,278.37 723.57,278.37 723.96,278.37 724.35,278.38 724.74,278.39 725.13,278.41 725.52,278.43 725.91,278.46 726.3,278.49 726.69,278.52 727.09,278.56 727.48,278.61 727.87,278.65 728.26,278.7 728.65,278.76 729.04,278.81 729.43,278.87 729.82,278.93 730.21,278.99 730.61,279.05 731,279.11 731.39,279.18 731.78,279.24 732.17,279.31 732.56,279.37 732.95,279.44 733.34,279.5 733.73,279.56 734.12,279.62 734.52,279.68 734.91,279.74 735.3,279.8 735.69,279.86 736.08,279.91 736.47,279.96 736.86,280.01 737.25,280.06 737.64,280.11 738.04,280.15 738.43,280.19 738.82,280.23 739.21,280.27 739.6,280.3 739.99,280.33 740.38,280.37 740.77,280.39 741.16,280.42 741.55,280.45 741.95,280.47 742.34,280.49 742.73,280.51 743.12,280.52 743.51,280.53 743.9,280.54 744.29,280.54 744.68,280.54 745.07,280.52 745.47,280.49 745.86,280.44 746.25,280.37 746.64,280.27 747.03,280.13 747.42,279.97 747.81,279.76 748.2,279.51 748.59,279.23 748.98,278.92 749.38,278.6 749.77,278.27 750.16,277.96 750.55,277.69 750.94,277.46 751.33,277.3 751.72,277.22 752.11,277.23 752.5,277.32 752.9,277.49 753.29,277.72 753.68,278.01 754.07,278.32 754.46,278.65 754.85,278.98 755.24,279.29 755.63,279.57 756.02,279.82 756.41,280.03 756.81,280.2 757.2,280.34 757.59,280.44 757.98,280.52 758.37,280.58 758.76,280.62 759.15,280.65 759.54,280.67 759.93,280.68 760.33,280.69 760.72,280.69 761.11,280.7 761.5,280.7 761.89,280.7 762.28,280.7 762.67,280.7 763.06,280.7 763.45,280.7 763.85,280.7 764.24,280.7 764.63,280.7 765.02,280.7 765.41,280.7 765.8,280.7 766.19,280.7 766.58,280.7 766.97,280.7 767.36,280.7 767.76,280.7 768.15,280.7 768.54,280.7 768.93,280.7 769.32,280.7 769.71,280.7 770.1,280.7 770.49,280.7 770.88,280.7 771.28,280.7 771.67,280.7 772.06,280.7 772.45,280.7 772.84,280.7 773.23,280.7 773.62,280.7 774.01,280.7 774.4,280.7 774.79,280.7 775.19,280.7 775.58,280.7 775.97,280.7 776.36,280.7 776.75,280.7" fill="none" stroke="#3a44b4" stroke-width="3.1" stroke-linejoin="round" stroke-linecap="butt" />
<line x1="506.9" y1="27.7" x2="539.3" y2="27.7" stroke="#000000" stroke-width="2.8" />
<text class="se" x="541.5" y="32.2" font-size="13.2" font-weight="bold" text-anchor="start" fill="#000" >TRF</text>
<line x1="506.9" y1="45.4" x2="539.3" y2="45.4" stroke="#ee1c25" stroke-width="2.8" />
<text class="se" x="541.5" y="49.9" font-size="13.2" font-weight="bold" text-anchor="start" fill="#000" >Hb</text>
<line x1="506.9" y1="63.1" x2="539.3" y2="63.1" stroke="#3a44b4" stroke-width="2.8" />
<text class="se" x="541.5" y="67.6" font-size="13.2" font-weight="bold" text-anchor="start" fill="#000" >ODP-TH</text>
<rect x="502.9" y="15.3" width="320.7" height="267.4" fill="none" stroke="#000" stroke-width="2.2"/>
<text class="se" x="483.8" y="137.9" font-size="15.06" font-weight="bold" text-anchor="middle" fill="#000" transform="rotate(-90 483.8 137.9)" >Normalize absorbance (280nm)</text>
<text class="se" x="663.2" y="318" font-size="14.8" font-weight="bold" text-anchor="middle" fill="#000" >Time(min)</text>
</g>
<g id="panelC">
<text class="sa" transform="translate(877.6 32.6) scale(0.79 1)" font-size="18.4" font-weight="bold" text-anchor="start" fill="#000" stroke="#000" stroke-width="0.4">(C)</text>
<line x1="923.8" y1="276.4" x2="927.6" y2="276.4" stroke="#000" stroke-width="1.7" />
<text class="se" x="922" y="280" font-size="10.4" font-weight="bold" text-anchor="end" fill="#000" >0.0</text>
<line x1="923.8" y1="220.1" x2="927.6" y2="220.1" stroke="#000" stroke-width="1.7" />
<text class="se" x="922" y="223.7" font-size="10.4" font-weight="bold" text-anchor="end" fill="#000" >0.3</text>
<line x1="923.8" y1="163.8" x2="927.6" y2="163.8" stroke="#000" stroke-width="1.7" />
<text class="se" x="922" y="167.4" font-size="10.4" font-weight="bold" text-anchor="end" fill="#000" >0.6</text>
<line x1="923.8" y1="107.5" x2="927.6" y2="107.5" stroke="#000" stroke-width="1.7" />
<text class="se" x="922" y="111.1" font-size="10.4" font-weight="bold" text-anchor="end" fill="#000" >0.9</text>
<line x1="923.8" y1="51.2" x2="927.6" y2="51.2" stroke="#000" stroke-width="1.7" />
<text class="se" x="922" y="54.8" font-size="10.4" font-weight="bold" text-anchor="end" fill="#000" >1.2</text>
<line x1="961.6" y1="282" x2="961.6" y2="277.8" stroke="#000" stroke-width="1.7" />
<text class="se" x="961.6" y="294.2" font-size="10.6" font-weight="bold" text-anchor="middle" fill="#000" >300</text>
<line x1="1057.27" y1="282" x2="1057.27" y2="277.8" stroke="#000" stroke-width="1.7" />
<text class="se" x="1057.27" y="294.2" font-size="10.6" font-weight="bold" text-anchor="middle" fill="#000" >400</text>
<line x1="1152.94" y1="282" x2="1152.94" y2="277.8" stroke="#000" stroke-width="1.7" />
<text class="se" x="1152.94" y="294.2" font-size="10.6" font-weight="bold" text-anchor="middle" fill="#000" >500</text>
<line x1="1248.61" y1="282" x2="1248.61" y2="277.8" stroke="#000" stroke-width="1.7" />
<text class="se" x="1249.61" y="294.2" font-size="10.6" font-weight="bold" text-anchor="middle" fill="#000" >600</text>
<clipPath id="clipC"><rect x="927.6" y="13.8" width="321.8" height="268.2"/></clipPath><g clip-path="url(#clipC)">
<polyline points="928.12,212.59 928.92,212.7 929.72,212.79 930.53,212.88 931.33,212.97 932.13,213.07 932.93,213.18 933.74,213.31 934.54,213.47 935.34,213.68 936.15,214 936.95,214.43 937.75,214.95 938.56,215.54 939.36,216.21 940.16,216.92 940.97,217.68 941.77,218.47 942.57,219.27 943.38,220.2 944.18,221.31 944.98,222.54 945.79,223.86 946.59,225.23 947.39,226.6 948.2,227.95 949,229.24 949.8,230.47 950.61,231.74 951.41,233.04 952.21,234.34 953.02,235.62 953.82,236.86 954.62,238.03 955.43,239.12 956.23,240.1 957.03,240.96 957.84,241.78 958.64,242.59 959.44,243.37 960.25,244.11 961.05,244.79 961.85,245.4 962.66,245.93 963.46,246.36 964.26,246.69 965.06,246.91 965.87,247.13 966.67,247.34 967.47,247.53 968.28,247.71 969.08,247.88 969.88,248.03 970.69,248.17 971.49,248.3 972.29,248.4 973.1,248.49 973.9,248.55 974.7,248.6 975.51,248.62 976.31,248.62 977.11,248.59 977.92,248.52 978.72,248.43 979.52,248.31 980.33,248.16 981.13,248 981.93,247.81 982.74,247.61 983.54,247.4 984.34,247.17 985.15,246.94 985.95,246.7 986.75,246.46 987.56,246.22 988.36,245.98 989.16,245.75 989.97,245.53 990.77,245.31 991.57,245.09 992.38,244.87 993.18,244.64 993.98,244.41 994.78,244.17 995.59,243.93 996.39,243.69 997.19,243.43 998,243.18 998.8,242.92 999.6,242.65 1000.41,242.38 1001.21,242.1 1002.01,241.81 1002.82,241.52 1003.62,241.22 1004.42,240.92 1005.23,240.61 1006.03,240.29 1006.83,239.97 1007.64,239.64 1008.44,239.3 1009.24,238.95 1010.05,238.6 1010.85,238.23 1011.65,237.85 1012.46,237.45 1013.26,237.05 1014.06,236.62 1014.87,236.18 1015.67,235.73 1016.47,235.25 1017.28,234.76 1018.08,234.25 1018.88,233.73 1019.69,233.18 1020.49,232.61 1021.29,232.02 1022.1,231.4 1022.9,230.75 1023.7,230.07 1024.5,229.34 1025.31,228.56 1026.11,227.73 1026.91,226.84 1027.72,225.88 1028.52,224.86 1029.32,223.71 1030.13,222.41 1030.93,220.97 1031.73,219.4 1032.54,217.71 1033.34,215.92 1034.14,214.04 1034.95,212.08 1035.75,210.05 1036.55,207.97 1037.36,205.7 1038.16,203.24 1038.96,200.63 1039.77,197.89 1040.57,195.04 1041.37,192.1 1042.18,189.11 1042.98,186.09 1043.78,182.8 1044.59,179.16 1045.39,175.35 1046.19,171.57 1047,167.97 1047.8,164.75 1048.6,162.09 1049.41,159.74 1050.21,157.37 1051.01,155.17 1051.82,153.34 1052.62,152.08 1053.42,151.6 1054.22,151.99 1055.03,153.07 1055.83,154.66 1056.63,156.56 1057.44,158.63 1058.24,161.51 1059.04,165.31 1059.85,169.7 1060.65,174.36 1061.45,179.05 1062.26,184.26 1063.06,189.89 1063.86,195.69 1064.67,201.43 1065.47,207.05 1066.27,212.88 1067.08,218.69 1067.88,224.19 1068.68,229.11 1069.49,233.53 1070.29,237.76 1071.09,241.64 1071.9,245 1072.7,247.67 1073.5,249.93 1074.31,251.97 1075.11,253.79 1075.91,255.37 1076.72,256.72 1077.52,257.84 1078.32,258.83 1079.13,259.75 1079.93,260.6 1080.73,261.39 1081.54,262.12 1082.34,262.79 1083.14,263.4 1083.94,263.96 1084.75,264.47 1085.55,264.92 1086.35,265.33 1087.16,265.72 1087.96,266.1 1088.76,266.45 1089.57,266.78 1090.37,267.1 1091.17,267.39 1091.98,267.65 1092.78,267.9 1093.58,268.11 1094.39,268.3 1095.19,268.46 1095.99,268.59 1096.8,268.72 1097.6,268.85 1098.4,268.97 1099.21,269.09 1100.01,269.21 1100.81,269.32 1101.62,269.43 1102.42,269.53 1103.22,269.63 1104.03,269.73 1104.83,269.82 1105.63,269.9 1106.44,269.98 1107.24,270.05 1108.04,270.12 1108.85,270.18 1109.65,270.23 1110.45,270.28 1111.26,270.32 1112.06,270.35 1112.86,270.37 1113.66,270.39 1114.47,270.39 1115.27,270.39 1116.07,270.39 1116.88,270.38 1117.68,270.37 1118.48,270.36 1119.29,270.34 1120.09,270.33 1120.89,270.3 1121.7,270.28 1122.5,270.26 1123.3,270.23 1124.11,270.21 1124.91,270.18 1125.71,270.15 1126.52,270.12 1127.32,270.09 1128.12,270.05 1128.93,270.02 1129.73,269.99 1130.53,269.96 1131.34,269.93 1132.14,269.89 1132.94,269.86 1133.75,269.83 1134.55,269.8 1135.35,269.77 1136.16,269.73 1136.96,269.68 1137.76,269.64 1138.57,269.59 1139.37,269.54 1140.17,269.48 1140.98,269.43 1141.78,269.38 1142.58,269.33 1143.38,269.27 1144.19,269.22 1144.99,269.17 1145.79,269.13 1146.6,269.08 1147.4,269.04 1148.2,269 1149.01,268.97 1149.81,268.94 1150.61,268.92 1151.42,268.91 1152.22,268.9 1153.02,268.89 1153.83,268.9 1154.63,268.93 1155.43,268.96 1156.24,269.01 1157.04,269.07 1157.84,269.14 1158.65,269.22 1159.45,269.3 1160.25,269.39 1161.06,269.49 1161.86,269.59 1162.66,269.7 1163.47,269.8 1164.27,269.91 1165.07,270.02 1165.88,270.12 1166.68,270.22 1167.48,270.32 1168.29,270.42 1169.09,270.51 1169.89,270.59 1170.7,270.66 1171.5,270.73 1172.3,270.78 1173.11,270.83 1173.91,270.88 1174.71,270.92 1175.51,270.96 1176.32,271 1177.12,271.04 1177.92,271.07 1178.73,271.1 1179.53,271.14 1180.33,271.17 1181.14,271.2 1181.94,271.23 1182.74,271.26 1183.55,271.29 1184.35,271.32 1185.15,271.36 1185.96,271.4 1186.76,271.44 1187.56,271.48 1188.37,271.52 1189.17,271.57 1189.97,271.62 1190.78,271.68 1191.58,271.74 1192.38,271.82 1193.19,271.91 1193.99,272.02 1194.79,272.14 1195.6,272.27 1196.4,272.41 1197.2,272.55 1198.01,272.69 1198.81,272.84 1199.61,272.98 1200.42,273.12 1201.22,273.26 1202.02,273.38 1202.83,273.49 1203.63,273.6 1204.43,273.68 1205.23,273.75 1206.04,273.8 1206.84,273.85 1207.64,273.9 1208.45,273.95 1209.25,274 1210.05,274.04 1210.86,274.09 1211.66,274.13 1212.46,274.17 1213.27,274.21 1214.07,274.25 1214.87,274.29 1215.68,274.32 1216.48,274.35 1217.28,274.38 1218.09,274.41 1218.89,274.44 1219.69,274.46 1220.5,274.48 1221.3,274.49 1222.1,274.51 1222.91,274.51 1223.71,274.52 1224.51,274.52 1225.32,274.52 1226.12,274.52 1226.92,274.52 1227.73,274.52 1228.53,274.52 1229.33,274.52 1230.14,274.52 1230.94,274.52 1231.74,274.52 1232.55,274.52 1233.35,274.52 1234.15,274.52 1234.95,274.52 1235.76,274.52 1236.56,274.52 1237.36,274.52 1238.17,274.52 1238.97,274.52 1239.77,274.52 1240.58,274.52 1241.38,274.52 1242.18,274.52 1242.99,274.52 1243.79,274.52 1244.59,274.52 1245.4,274.52 1246.2,274.52 1247,274.52 1247.81,274.52 1248.61,274.52" fill="none" stroke="#111111" stroke-width="2.5" stroke-linejoin="round" stroke-linecap="butt" stroke-dasharray="4.8 3.2" />
<polyline points="928.12,126.27 928.92,126.16 929.72,126.04 930.53,125.91 931.33,125.78 932.13,125.65 932.93,125.54 933.74,125.44 934.54,125.37 935.34,125.33 936.15,125.33 936.95,125.36 937.75,125.41 938.56,125.49 939.36,125.59 940.16,125.73 940.97,125.89 941.77,126.08 942.57,126.31 943.38,127.04 944.18,128.43 944.98,130.28 945.79,132.39 946.59,134.67 947.39,137.78 948.2,141.65 949,145.92 949.8,150.23 950.61,154.23 951.41,157.66 952.21,160.91 953.02,164.09 953.82,167.16 954.62,170.08 955.43,172.8 956.23,175.29 957.03,177.51 957.84,179.55 958.64,181.48 959.44,183.29 960.25,184.99 961.05,186.6 961.85,188.12 962.66,189.56 963.46,190.92 964.26,192.23 965.06,193.49 965.87,194.7 966.67,195.87 967.47,196.98 968.28,198.03 969.08,199.03 969.88,199.97 970.69,200.84 971.49,201.65 972.29,202.42 973.1,203.15 973.9,203.84 974.7,204.5 975.51,205.13 976.31,205.74 977.11,206.33 977.92,206.9 978.72,207.46 979.52,208.01 980.33,208.56 981.13,209.11 981.93,209.65 982.74,210.17 983.54,210.68 984.34,211.19 985.15,211.68 985.95,212.17 986.75,212.65 987.56,213.12 988.36,213.59 989.16,214.05 989.97,214.51 990.77,214.96 991.57,215.41 992.38,215.86 993.18,216.31 993.98,216.75 994.78,217.2 995.59,217.65 996.39,218.1 997.19,218.56 998,219.02 998.8,219.48 999.6,219.95 1000.41,220.42 1001.21,220.89 1002.01,221.37 1002.82,221.86 1003.62,222.34 1004.42,222.83 1005.23,223.31 1006.03,223.8 1006.83,224.29 1007.64,224.77 1008.44,225.26 1009.24,225.74 1010.05,226.23 1010.85,226.71 1011.65,227.18 1012.46,227.66 1013.26,228.13 1014.06,228.6 1014.87,229.06 1015.67,229.52 1016.47,229.97 1017.28,230.42 1018.08,230.86 1018.88,231.3 1019.69,231.73 1020.49,232.16 1021.29,232.59 1022.1,233.03 1022.9,233.46 1023.7,233.89 1024.5,234.32 1025.31,234.75 1026.11,235.18 1026.91,235.6 1027.72,236.01 1028.52,236.43 1029.32,236.83 1030.13,237.23 1030.93,237.63 1031.73,238.01 1032.54,238.39 1033.34,238.76 1034.14,239.12 1034.95,239.47 1035.75,239.81 1036.55,240.14 1037.36,240.45 1038.16,240.75 1038.96,241.05 1039.77,241.34 1040.57,241.64 1041.37,241.93 1042.18,242.22 1042.98,242.5 1043.78,242.78 1044.59,243.06 1045.39,243.33 1046.19,243.6 1047,243.86 1047.8,244.12 1048.6,244.36 1049.41,244.6 1050.21,244.83 1051.01,245.05 1051.82,245.26 1052.62,245.46 1053.42,245.65 1054.22,245.82 1055.03,245.99 1055.83,246.14 1056.63,246.28 1057.44,246.4 1058.24,246.51 1059.04,246.62 1059.85,246.72 1060.65,246.82 1061.45,246.91 1062.26,247 1063.06,247.08 1063.86,247.16 1064.67,247.24 1065.47,247.31 1066.27,247.38 1067.08,247.45 1067.88,247.52 1068.68,247.58 1069.49,247.65 1070.29,247.72 1071.09,247.78 1071.9,247.85 1072.7,247.92 1073.5,247.98 1074.31,248.05 1075.11,248.13 1075.91,248.2 1076.72,248.28 1077.52,248.36 1078.32,248.44 1079.13,248.52 1079.93,248.6 1080.73,248.67 1081.54,248.75 1082.34,248.83 1083.14,248.91 1083.94,248.99 1084.75,249.07 1085.55,249.15 1086.35,249.23 1087.16,249.3 1087.96,249.38 1088.76,249.46 1089.57,249.54 1090.37,249.62 1091.17,249.7 1091.98,249.78 1092.78,249.86 1093.58,249.94 1094.39,250.01 1095.19,250.09 1095.99,250.17 1096.8,250.25 1097.6,250.33 1098.4,250.41 1099.21,250.49 1100.01,250.57 1100.81,250.64 1101.62,250.72 1102.42,250.8 1103.22,250.88 1104.03,250.96 1104.83,251.04 1105.63,251.12 1106.44,251.2 1107.24,251.27 1108.04,251.35 1108.85,251.43 1109.65,251.51 1110.45,251.59 1111.26,251.67 1112.06,251.75 1112.86,251.83 1113.66,251.9 1114.47,251.98 1115.27,252.06 1116.07,252.14 1116.88,252.22 1117.68,252.3 1118.48,252.38 1119.29,252.46 1120.09,252.53 1120.89,252.61 1121.7,252.69 1122.5,252.77 1123.3,252.85 1124.11,252.93 1124.91,253.01 1125.71,253.09 1126.52,253.17 1127.32,253.24 1128.12,253.32 1128.93,253.4 1129.73,253.48 1130.53,253.56 1131.34,253.64 1132.14,253.72 1132.94,253.8 1133.75,253.87 1134.55,253.95 1135.35,254.03 1136.16,254.11 1136.96,254.19 1137.76,254.27 1138.57,254.35 1139.37,254.43 1140.17,254.5 1140.98,254.58 1141.78,254.66 1142.58,254.74 1143.38,254.82 1144.19,254.9 1144.99,254.98 1145.79,255.06 1146.6,255.13 1147.4,255.21 1148.2,255.29 1149.01,255.37 1149.81,255.45 1150.61,255.53 1151.42,255.61 1152.22,255.69 1153.02,255.76 1153.83,255.84 1154.63,255.92 1155.43,256 1156.24,256.08 1157.04,256.16 1157.84,256.24 1158.65,256.32 1159.45,256.4 1160.25,256.47 1161.06,256.55 1161.86,256.63 1162.66,256.71 1163.47,256.79 1164.27,256.87 1165.07,256.95 1165.88,257.03 1166.68,257.1 1167.48,257.18 1168.29,257.26 1169.09,257.34 1169.89,257.42 1170.7,257.5 1171.5,257.58 1172.3,257.66 1173.11,257.73 1173.91,257.81 1174.71,257.89 1175.51,257.97 1176.32,258.05 1177.12,258.13 1177.92,258.21 1178.73,258.29 1179.53,258.36 1180.33,258.44 1181.14,258.52 1181.94,258.6 1182.74,258.68 1183.55,258.76 1184.35,258.84 1185.15,258.92 1185.96,258.99 1186.76,259.07 1187.56,259.15 1188.37,259.23 1189.17,259.31 1189.97,259.39 1190.78,259.47 1191.58,259.55 1192.38,259.63 1193.19,259.71 1193.99,259.8 1194.79,259.88 1195.6,259.97 1196.4,260.06 1197.2,260.15 1198.01,260.24 1198.81,260.33 1199.61,260.42 1200.42,260.51 1201.22,260.6 1202.02,260.68 1202.83,260.77 1203.63,260.85 1204.43,260.93 1205.23,261 1206.04,261.07 1206.84,261.14 1207.64,261.21 1208.45,261.27 1209.25,261.32 1210.05,261.37 1210.86,261.42 1211.66,261.46 1212.46,261.5 1213.27,261.54 1214.07,261.58 1214.87,261.61 1215.68,261.65 1216.48,261.68 1217.28,261.72 1218.09,261.75 1218.89,261.78 1219.69,261.81 1220.5,261.84 1221.3,261.87 1222.1,261.89 1222.91,261.92 1223.71,261.95 1224.51,261.97 1225.32,262 1226.12,262.03 1226.92,262.05 1227.73,262.08 1228.53,262.11 1229.33,262.13 1230.14,262.16 1230.94,262.19 1231.74,262.21 1232.55,262.24 1233.35,262.26 1234.15,262.29 1234.95,262.31 1235.76,262.33 1236.56,262.36 1237.36,262.38 1238.17,262.4 1238.97,262.43 1239.77,262.45 1240.58,262.47 1241.38,262.49 1242.18,262.52 1242.99,262.54 1243.79,262.56 1244.59,262.58 1245.4,262.61 1246.2,262.63 1247,262.65 1247.81,262.68 1248.61,262.7" fill="none" stroke="#ee1c25" stroke-width="2.5" stroke-linejoin="round" stroke-linecap="butt" stroke-dasharray="4.8 3.2" />
<polyline points="928.12,130.02 928.92,134.25 929.72,138.49 930.53,142.68 931.33,146.81 932.13,151.15 932.93,155.49 933.74,159.5 934.54,162.87 935.34,165.53 936.15,168.1 936.95,170.48 937.75,172.53 938.56,174.07 939.36,174.95 940.16,175.23 940.97,175.44 941.77,175.63 942.57,175.77 943.38,175.88 944.18,175.96 944.98,175.99 945.79,176 946.59,176 947.39,176 948.2,176 949,176 949.8,176 950.61,176 951.41,176.06 952.21,176.64 953.02,177.77 953.82,179.33 954.62,181.2 955.43,183.27 956.23,185.62 957.03,189.2 957.84,193.75 958.64,198.75 959.44,203.68 960.25,208.33 961.05,213.22 961.85,218.17 962.66,222.95 963.46,227.33 964.26,231.35 965.06,235.23 965.87,238.86 966.67,242.13 967.47,244.93 968.28,247.48 969.08,249.88 969.88,252.08 970.69,254.02 971.49,255.66 972.29,256.94 973.1,258.06 973.9,259.11 974.7,260.08 975.51,260.95 976.31,261.72 977.11,262.36 977.92,262.87 978.72,263.23 979.52,263.49 980.33,263.74 981.13,263.96 981.93,264.17 982.74,264.35 983.54,264.5 984.34,264.62 985.15,264.71 985.95,264.76 986.75,264.76 987.56,264.72 988.36,264.65 989.16,264.54 989.97,264.4 990.77,264.24 991.57,264.06 992.38,263.88 993.18,263.69 993.98,263.5 994.78,263.33 995.59,263.16 996.39,262.98 997.19,262.79 998,262.6 998.8,262.4 999.6,262.19 1000.41,261.98 1001.21,261.76 1002.01,261.54 1002.82,261.32 1003.62,261.09 1004.42,260.87 1005.23,260.64 1006.03,260.42 1006.83,260.2 1007.64,259.98 1008.44,259.77 1009.24,259.56 1010.05,259.36 1010.85,259.15 1011.65,258.95 1012.46,258.75 1013.26,258.55 1014.06,258.35 1014.87,258.16 1015.67,257.96 1016.47,257.76 1017.28,257.56 1018.08,257.37 1018.88,257.17 1019.69,256.98 1020.49,256.78 1021.29,256.59 1022.1,256.39 1022.9,256.2 1023.7,256 1024.5,255.81 1025.31,255.61 1026.11,255.42 1026.91,255.22 1027.72,255.03 1028.52,254.83 1029.32,254.63 1030.13,254.43 1030.93,254.23 1031.73,254.03 1032.54,253.83 1033.34,253.62 1034.14,253.42 1034.95,253.21 1035.75,253.01 1036.55,252.81 1037.36,252.6 1038.16,252.4 1038.96,252.2 1039.77,252 1040.57,251.8 1041.37,251.6 1042.18,251.4 1042.98,251.21 1043.78,251.02 1044.59,250.83 1045.39,250.64 1046.19,250.46 1047,250.28 1047.8,250.11 1048.6,249.94 1049.41,249.78 1050.21,249.63 1051.01,249.48 1051.82,249.34 1052.62,249.2 1053.42,249.06 1054.22,248.92 1055.03,248.78 1055.83,248.64 1056.63,248.5 1057.44,248.35 1058.24,248.19 1059.04,248.03 1059.85,247.85 1060.65,247.67 1061.45,247.47 1062.26,247.26 1063.06,247.03 1063.86,246.8 1064.67,246.55 1065.47,246.28 1066.27,246 1067.08,245.7 1067.88,245.38 1068.68,245.03 1069.49,244.66 1070.29,244.27 1071.09,243.85 1071.9,243.4 1072.7,242.87 1073.5,242.27 1074.31,241.59 1075.11,240.85 1075.91,240.05 1076.72,239.21 1077.52,238.32 1078.32,237.4 1079.13,236.45 1079.93,235.48 1080.73,234.48 1081.54,233.36 1082.34,232.14 1083.14,230.85 1083.94,229.5 1084.75,228.13 1085.55,226.75 1086.35,225.38 1087.16,224.06 1087.96,222.8 1088.76,221.57 1089.57,220.35 1090.37,219.13 1091.17,217.93 1091.98,216.74 1092.78,215.56 1093.58,214.4 1094.39,213.26 1095.19,212.13 1095.99,211.03 1096.8,209.94 1097.6,208.85 1098.4,207.77 1099.21,206.7 1100.01,205.65 1100.81,204.61 1101.62,203.59 1102.42,202.6 1103.22,201.63 1104.03,200.68 1104.83,199.76 1105.63,198.88 1106.44,198.03 1107.24,197.2 1108.04,196.4 1108.85,195.61 1109.65,194.84 1110.45,194.08 1111.26,193.32 1112.06,192.57 1112.86,191.81 1113.66,191.05 1114.47,190.27 1115.27,189.47 1116.07,188.62 1116.88,187.74 1117.68,186.84 1118.48,185.94 1119.29,185.05 1120.09,184.19 1120.89,183.36 1121.7,182.59 1122.5,181.9 1123.3,181.28 1124.11,180.76 1124.91,180.32 1125.71,179.87 1126.52,179.43 1127.32,179.02 1128.12,178.64 1128.93,178.3 1129.73,178.03 1130.53,177.83 1131.34,177.71 1132.14,177.69 1132.94,177.74 1133.75,177.83 1134.55,177.97 1135.35,178.14 1136.16,178.33 1136.96,178.53 1137.76,178.73 1138.57,178.92 1139.37,179.09 1140.17,179.23 1140.98,179.34 1141.78,179.4 1142.58,179.44 1143.38,179.47 1144.19,179.49 1144.99,179.52 1145.79,179.53 1146.6,179.55 1147.4,179.57 1148.2,179.6 1149.01,179.63 1149.81,179.67 1150.61,179.72 1151.42,179.81 1152.22,180.11 1153.02,180.61 1153.83,181.26 1154.63,182.05 1155.43,182.91 1156.24,183.83 1157.04,184.78 1157.84,185.98 1158.65,187.44 1159.45,189.09 1160.25,190.85 1161.06,192.64 1161.86,194.38 1162.66,196.01 1163.47,197.62 1164.27,199.26 1165.07,200.93 1165.88,202.59 1166.68,204.23 1167.48,205.84 1168.29,207.39 1169.09,208.88 1169.89,210.27 1170.7,211.6 1171.5,212.96 1172.3,214.32 1173.11,215.64 1173.91,216.88 1174.71,218 1175.51,218.96 1176.32,219.72 1177.12,220.25 1177.92,220.63 1178.73,220.93 1179.53,221.16 1180.33,221.36 1181.14,221.56 1181.94,221.77 1182.74,222.04 1183.55,222.37 1184.35,222.81 1185.15,223.52 1185.96,224.73 1186.76,226.32 1187.56,228.15 1188.37,230.09 1189.17,232.01 1189.97,233.94 1190.78,236.06 1191.58,238.34 1192.38,240.69 1193.19,243.06 1193.99,245.39 1194.79,247.61 1195.6,249.72 1196.4,251.84 1197.2,253.94 1198.01,256 1198.81,257.99 1199.61,259.86 1200.42,261.6 1201.22,263.19 1202.02,264.75 1202.83,266.26 1203.63,267.68 1204.43,269 1205.23,270.19 1206.04,271.2 1206.84,272.03 1207.64,272.78 1208.45,273.49 1209.25,274.14 1210.05,274.73 1210.86,275.26 1211.66,275.72 1212.46,276.11 1213.27,276.42 1214.07,276.68 1214.87,276.93 1215.68,277.15 1216.48,277.36 1217.28,277.55 1218.09,277.72 1218.89,277.87 1219.69,278.01 1220.5,278.12 1221.3,278.22 1222.1,278.3 1222.91,278.38 1223.71,278.45 1224.51,278.52 1225.32,278.58 1226.12,278.64 1226.92,278.7 1227.73,278.75 1228.53,278.8 1229.33,278.84 1230.14,278.88 1230.94,278.92 1231.74,278.95 1232.55,278.98 1233.35,279 1234.15,279.02 1234.95,279.04 1235.76,279.06 1236.56,279.07 1237.36,279.08 1238.17,279.1 1238.97,279.11 1239.77,279.12 1240.58,279.13 1241.38,279.14 1242.18,279.14 1242.99,279.15 1243.79,279.16 1244.59,279.17 1245.4,279.18 1246.2,279.19 1247,279.2 1247.81,279.2 1248.61,279.21" fill="none" stroke="#3848c0" stroke-width="2.5" stroke-linejoin="round" stroke-linecap="butt" stroke-dasharray="4.8 3.2" />
<polyline points="928.12,271.71 928.92,271.54 929.72,271.35 930.53,271.15 931.33,270.96 932.13,270.76 932.93,270.59 933.74,270.43 934.54,270.31 935.34,270.23 936.15,270.19 936.95,270.16 937.75,270.13 938.56,270.11 939.36,270.09 940.16,270.07 940.97,270.05 941.77,270.04 942.57,270.03 943.38,270.02 944.18,270.02 944.98,270.04 945.79,270.12 946.59,270.25 947.39,270.43 948.2,270.64 949,270.87 949.8,271.12 950.61,271.37 951.41,271.62 952.21,271.86 953.02,272.07 953.82,272.25 954.62,272.4 955.43,272.57 956.23,272.74 957.03,272.91 957.84,273.07 958.64,273.23 959.44,273.38 960.25,273.51 961.05,273.61 961.85,273.7 962.66,273.75 963.46,273.77 964.26,273.74 965.06,273.65 965.87,273.49 966.67,273.3 967.47,273.06 968.28,272.79 969.08,272.5 969.88,272.2 970.69,271.89 971.49,271.58 972.29,271.23 973.1,270.84 973.9,270.4 974.7,269.92 975.51,269.41 976.31,268.86 977.11,268.29 977.92,267.7 978.72,267.09 979.52,266.45 980.33,265.72 981.13,264.94 981.93,264.1 982.74,263.24 983.54,262.35 984.34,261.45 985.15,260.56 985.95,259.69 986.75,258.85 987.56,258.02 988.36,257.19 989.16,256.37 989.97,255.54 990.77,254.72 991.57,253.88 992.38,253.04 993.18,252.19 993.98,251.33 994.78,250.46 995.59,249.57 996.39,248.66 997.19,247.73 998,246.8 998.8,245.85 999.6,244.9 1000.41,243.94 1001.21,242.97 1002.01,242.01 1002.82,241.05 1003.62,240.09 1004.42,239.14 1005.23,238.19 1006.03,237.24 1006.83,236.29 1007.64,235.34 1008.44,234.39 1009.24,233.44 1010.05,232.49 1010.85,231.54 1011.65,230.6 1012.46,229.66 1013.26,228.72 1014.06,227.79 1014.87,226.86 1015.67,225.95 1016.47,225.04 1017.28,224.15 1018.08,223.25 1018.88,222.36 1019.69,221.46 1020.49,220.55 1021.29,219.64 1022.1,218.72 1022.9,217.78 1023.7,216.82 1024.5,215.86 1025.31,214.91 1026.11,213.97 1026.91,213.01 1027.72,212.04 1028.52,211.03 1029.32,209.99 1030.13,208.89 1030.93,207.73 1031.73,206.5 1032.54,205.16 1033.34,203.72 1034.14,202.2 1034.95,200.61 1035.75,198.97 1036.55,197.3 1037.36,195.6 1038.16,193.9 1038.96,192.22 1039.77,190.52 1040.57,188.75 1041.37,186.92 1042.18,185.06 1042.98,183.2 1043.78,181.35 1044.59,179.55 1045.39,177.8 1046.19,176.14 1047,174.57 1047.8,172.89 1048.6,171.1 1049.41,169.3 1050.21,167.61 1051.01,166.1 1051.82,164.9 1052.62,164.1 1053.42,163.8 1054.22,163.89 1055.03,164.17 1055.83,164.6 1056.63,165.17 1057.44,165.85 1058.24,166.63 1059.04,168.1 1059.85,170.6 1060.65,173.83 1061.45,177.46 1062.26,181.17 1063.06,184.65 1063.86,188.1 1064.67,191.78 1065.47,195.59 1066.27,199.45 1067.08,203.27 1067.88,206.96 1068.68,210.44 1069.49,213.77 1070.29,217.08 1071.09,220.34 1071.9,223.49 1072.7,226.48 1073.5,229.26 1074.31,231.76 1075.11,234.03 1075.91,236.21 1076.72,238.26 1077.52,240.19 1078.32,241.96 1079.13,243.56 1079.93,244.96 1080.73,246.18 1081.54,247.31 1082.34,248.37 1083.14,249.37 1083.94,250.29 1084.75,251.14 1085.55,251.94 1086.35,252.66 1087.16,253.33 1087.96,253.94 1088.76,254.51 1089.57,255.06 1090.37,255.59 1091.17,256.09 1091.98,256.55 1092.78,256.97 1093.58,257.34 1094.39,257.66 1095.19,257.92 1095.99,258.12 1096.8,258.32 1097.6,258.5 1098.4,258.68 1099.21,258.85 1100.01,259 1100.81,259.14 1101.62,259.26 1102.42,259.36 1103.22,259.43 1104.03,259.48 1104.83,259.51 1105.63,259.51 1106.44,259.5 1107.24,259.48 1108.04,259.45 1108.85,259.41 1109.65,259.37 1110.45,259.33 1111.26,259.27 1112.06,259.21 1112.86,259.15 1113.66,259.09 1114.47,259.02 1115.27,258.95 1116.07,258.88 1116.88,258.8 1117.68,258.73 1118.48,258.66 1119.29,258.59 1120.09,258.51 1120.89,258.44 1121.7,258.36 1122.5,258.27 1123.3,258.18 1124.11,258.08 1124.91,257.99 1125.71,257.88 1126.52,257.78 1127.32,257.67 1128.12,257.56 1128.93,257.44 1129.73,257.32 1130.53,257.2 1131.34,257.08 1132.14,256.96 1132.94,256.83 1133.75,256.7 1134.55,256.57 1135.35,256.44 1136.16,256.3 1136.96,256.16 1137.76,256.01 1138.57,255.85 1139.37,255.69 1140.17,255.53 1140.98,255.36 1141.78,255.18 1142.58,255 1143.38,254.82 1144.19,254.6 1144.99,254.34 1145.79,254.05 1146.6,253.74 1147.4,253.42 1148.2,253.11 1149.01,252.82 1149.81,252.55 1150.61,252.32 1151.42,252.15 1152.22,252.04 1153.02,252 1153.83,252.04 1154.63,252.14 1155.43,252.28 1156.24,252.46 1157.04,252.68 1157.84,252.93 1158.65,253.2 1159.45,253.48 1160.25,253.76 1161.06,254.06 1161.86,254.44 1162.66,254.89 1163.47,255.39 1164.27,255.94 1165.07,256.5 1165.88,257.06 1166.68,257.61 1167.48,258.13 1168.29,258.59 1169.09,259.07 1169.89,259.59 1170.7,260.11 1171.5,260.59 1172.3,260.99 1173.11,261.27 1173.91,261.39 1174.71,261.34 1175.51,261.18 1176.32,260.92 1177.12,260.61 1177.92,260.24 1178.73,259.85 1179.53,259.46 1180.33,259.08 1181.14,258.75 1181.94,258.47 1182.74,258.18 1183.55,257.88 1184.35,257.57 1185.15,257.25 1185.96,256.94 1186.76,256.65 1187.56,256.39 1188.37,256.16 1189.17,255.97 1189.97,255.84 1190.78,255.77 1191.58,255.76 1192.38,255.8 1193.19,255.89 1193.99,256.01 1194.79,256.15 1195.6,256.32 1196.4,256.51 1197.2,256.71 1198.01,256.92 1198.81,257.14 1199.61,257.35 1200.42,257.55 1201.22,257.74 1202.02,257.96 1202.83,258.21 1203.63,258.47 1204.43,258.75 1205.23,259.02 1206.04,259.3 1206.84,259.57 1207.64,259.82 1208.45,260.04 1209.25,260.24 1210.05,260.4 1210.86,260.53 1211.66,260.65 1212.46,260.77 1213.27,260.89 1214.07,261.01 1214.87,261.13 1215.68,261.24 1216.48,261.34 1217.28,261.45 1218.09,261.55 1218.89,261.64 1219.69,261.74 1220.5,261.82 1221.3,261.9 1222.1,261.98 1222.91,262.04 1223.71,262.11 1224.51,262.16 1225.32,262.21 1226.12,262.25 1226.92,262.28 1227.73,262.3 1228.53,262.32 1229.33,262.32 1230.14,262.32 1230.94,262.32 1231.74,262.32 1232.55,262.32 1233.35,262.32 1234.15,262.32 1234.95,262.32 1235.76,262.32 1236.56,262.32 1237.36,262.32 1238.17,262.32 1238.97,262.32 1239.77,262.32 1240.58,262.32 1241.38,262.32 1242.18,262.32 1242.99,262.32 1243.79,262.32 1244.59,262.32 1245.4,262.32 1246.2,262.32 1247,262.32 1247.81,262.32 1248.61,262.32" fill="none" stroke="#0c8a3a" stroke-width="2.5" stroke-linejoin="round" stroke-linecap="butt" stroke-dasharray="4.8 3.2" />
<polyline points="928.12,51.2 928.92,55.52 929.72,59.89 930.53,64.04 931.33,67.75 932.13,71.28 932.93,74.62 933.74,77.69 934.54,80.4 935.34,82.74 936.15,84.84 936.95,86.76 937.75,88.55 938.56,90.24 939.36,91.9 940.16,93.55 940.97,95.21 941.77,96.75 942.57,98.19 943.38,99.61 944.18,101.07 944.98,102.64 945.79,104.39 946.59,106.4 947.39,108.73 948.2,111.34 949,114.19 949.8,117.23 950.61,120.41 951.41,123.69 952.21,127.02 953.02,130.63 953.82,134.52 954.62,138.6 955.43,142.76 956.23,146.9 957.03,150.92 957.84,154.7 958.64,158.41 959.44,162.14 960.25,165.83 961.05,169.4 961.85,172.78 962.66,175.88 963.46,178.64 964.26,181.14 965.06,183.56 965.87,185.89 966.67,188.1 967.47,190.19 968.28,192.12 969.08,193.89 969.88,195.47 970.69,196.86 971.49,198.04 972.29,199.15 973.1,200.22 973.9,201.24 974.7,202.21 975.51,203.11 976.31,203.95 977.11,204.7 977.92,205.38 978.72,205.96 979.52,206.44 980.33,206.82 981.13,207.09 981.93,207.34 982.74,207.58 983.54,207.81 984.34,208.02 985.15,208.21 985.95,208.38 986.75,208.53 987.56,208.65 988.36,208.74 989.16,208.81 989.97,208.84 990.77,208.84 991.57,208.83 992.38,208.82 993.18,208.8 993.98,208.78 994.78,208.75 995.59,208.72 996.39,208.68 997.19,208.64 998,208.59 998.8,208.54 999.6,208.48 1000.41,208.4 1001.21,208.2 1002.01,207.91 1002.82,207.53 1003.62,207.08 1004.42,206.58 1005.23,206.04 1006.03,205.48 1006.83,204.91 1007.64,204.35 1008.44,203.82 1009.24,203.32 1010.05,202.86 1010.85,202.41 1011.65,201.96 1012.46,201.52 1013.26,201.06 1014.06,200.61 1014.87,200.15 1015.67,199.68 1016.47,199.19 1017.28,198.7 1018.08,198.19 1018.88,197.66 1019.69,197.11 1020.49,196.55 1021.29,195.97 1022.1,195.37 1022.9,194.76 1023.7,194.13 1024.5,193.49 1025.31,192.84 1026.11,192.17 1026.91,191.5 1027.72,190.81 1028.52,190.12 1029.32,189.41 1030.13,188.69 1030.93,187.96 1031.73,187.21 1032.54,186.45 1033.34,185.68 1034.14,184.88 1034.95,184.08 1035.75,183.25 1036.55,182.41 1037.36,181.54 1038.16,180.66 1038.96,179.74 1039.77,178.78 1040.57,177.77 1041.37,176.74 1042.18,175.68 1042.98,174.61 1043.78,173.53 1044.59,172.46 1045.39,171.4 1046.19,170.36 1047,169.35 1047.8,168.38 1048.6,167.32 1049.41,166.16 1050.21,164.96 1051.01,163.8 1051.82,162.75 1052.62,161.88 1053.42,161.27 1054.22,160.99 1055.03,161.09 1055.83,161.5 1056.63,162.15 1057.44,162.94 1058.24,163.82 1059.04,164.99 1059.85,166.63 1060.65,168.61 1061.45,170.79 1062.26,173.03 1063.06,175.19 1063.86,177.39 1064.67,179.74 1065.47,182.18 1066.27,184.66 1067.08,187.12 1067.88,189.51 1068.68,191.77 1069.49,193.93 1070.29,196.08 1071.09,198.22 1071.9,200.32 1072.7,202.36 1073.5,204.34 1074.31,206.25 1075.11,208.05 1075.91,209.74 1076.72,211.32 1077.52,212.88 1078.32,214.42 1079.13,215.92 1079.93,217.36 1080.73,218.71 1081.54,219.96 1082.34,221.08 1083.14,222.04 1083.94,222.82 1084.75,223.48 1085.55,224.13 1086.35,224.75 1087.16,225.32 1087.96,225.81 1088.76,226.21 1089.57,226.5 1090.37,226.65 1091.17,226.66 1091.98,226.6 1092.78,226.5 1093.58,226.35 1094.39,226.17 1095.19,225.97 1095.99,225.75 1096.8,225.53 1097.6,225.31 1098.4,225.06 1099.21,224.75 1100.01,224.41 1100.81,224.03 1101.62,223.64 1102.42,223.24 1103.22,222.84 1104.03,222.46 1104.83,222.09 1105.63,221.76 1106.44,221.44 1107.24,221.12 1108.04,220.82 1108.85,220.51 1109.65,220.21 1110.45,219.91 1111.26,219.61 1112.06,219.3 1112.86,218.98 1113.66,218.65 1114.47,218.31 1115.27,217.95 1116.07,217.53 1116.88,217.08 1117.68,216.61 1118.48,216.13 1119.29,215.65 1120.09,215.19 1120.89,214.75 1121.7,214.36 1122.5,214.02 1123.3,213.75 1124.11,213.55 1124.91,213.42 1125.71,213.3 1126.52,213.18 1127.32,213.07 1128.12,212.97 1128.93,212.88 1129.73,212.8 1130.53,212.73 1131.34,212.67 1132.14,212.63 1132.94,212.6 1133.75,212.59 1134.55,212.61 1135.35,212.67 1136.16,212.76 1136.96,212.88 1137.76,213.01 1138.57,213.15 1139.37,213.29 1140.17,213.43 1140.98,213.54 1141.78,213.64 1142.58,213.7 1143.38,213.72 1144.19,213.67 1144.99,213.55 1145.79,213.38 1146.6,213.19 1147.4,212.99 1148.2,212.81 1149.01,212.67 1149.81,212.6 1150.61,212.63 1151.42,212.82 1152.22,213.14 1153.02,213.56 1153.83,214.06 1154.63,214.6 1155.43,215.15 1156.24,215.72 1157.04,216.41 1157.84,217.23 1158.65,218.13 1159.45,219.11 1160.25,220.12 1161.06,221.14 1161.86,222.14 1162.66,223.1 1163.47,224.07 1164.27,225.09 1165.07,226.13 1165.88,227.18 1166.68,228.22 1167.48,229.24 1168.29,230.23 1169.09,231.16 1169.89,232.03 1170.7,232.85 1171.5,233.73 1172.3,234.64 1173.11,235.52 1173.91,236.34 1174.71,237.03 1175.51,237.55 1176.32,237.86 1177.12,237.93 1177.92,237.93 1178.73,237.93 1179.53,237.93 1180.33,237.93 1181.14,237.93 1181.94,237.93 1182.74,237.93 1183.55,237.93 1184.35,238.11 1185.15,238.61 1185.96,239.36 1186.76,240.29 1187.56,241.32 1188.37,242.39 1189.17,243.41 1189.97,244.43 1190.78,245.59 1191.58,246.86 1192.38,248.19 1193.19,249.55 1193.99,250.89 1194.79,252.17 1195.6,253.35 1196.4,254.41 1197.2,255.46 1198.01,256.5 1198.81,257.5 1199.61,258.46 1200.42,259.36 1201.22,260.17 1202.02,260.88 1202.83,261.48 1203.63,262.01 1204.43,262.51 1205.23,262.98 1206.04,263.41 1206.84,263.81 1207.64,264.17 1208.45,264.5 1209.25,264.8 1210.05,265.06 1210.86,265.28 1211.66,265.5 1212.46,265.69 1213.27,265.88 1214.07,266.05 1214.87,266.21 1215.68,266.37 1216.48,266.51 1217.28,266.64 1218.09,266.76 1218.89,266.88 1219.69,266.99 1220.5,267.09 1221.3,267.18 1222.1,267.27 1222.91,267.35 1223.71,267.42 1224.51,267.49 1225.32,267.56 1226.12,267.63 1226.92,267.7 1227.73,267.77 1228.53,267.85 1229.33,267.94 1230.14,268.03 1230.94,268.14 1231.74,268.26 1232.55,268.38 1233.35,268.51 1234.15,268.63 1234.95,268.76 1235.76,268.88 1236.56,268.99 1237.36,269.1 1238.17,269.19 1238.97,269.26 1239.77,269.33 1240.58,269.38 1241.38,269.44 1242.18,269.49 1242.99,269.53 1243.79,269.58 1244.59,269.62 1245.4,269.66 1246.2,269.7 1247,269.74 1247.81,269.79 1248.61,269.83" fill="none" stroke="#e4007f" stroke-width="2.7" stroke-linejoin="round" stroke-linecap="butt" />
</g>
<line x1="1159.5" y1="35.7" x2="1195.6" y2="35.7" stroke="#111111" stroke-width="2.5" stroke-dasharray="6.8 4.8"/>
<text class="se" x="1197.6" y="40.4" font-size="14" font-weight="bold" text-anchor="start" fill="#000" >Hb</text>
<line x1="1159.5" y1="54.75" x2="1195.6" y2="54.75" stroke="#ee1c25" stroke-width="2.5" stroke-dasharray="6.8 4.8"/>
<text class="se" x="1197.6" y="59.45" font-size="14" font-weight="bold" text-anchor="start" fill="#000" >TRF</text>
<line x1="1159.5" y1="73.8" x2="1195.6" y2="73.8" stroke="#3848c0" stroke-width="2.5" stroke-dasharray="6.8 4.8"/>
<text class="se" x="1197.6" y="78.5" font-size="14" font-weight="bold" text-anchor="start" fill="#000" >Dox</text>
<line x1="1159.5" y1="92.85" x2="1195.6" y2="92.85" stroke="#0c8a3a" stroke-width="2.5" stroke-dasharray="6.8 4.8"/>
<text class="se" x="1197.6" y="97.55" font-size="14" font-weight="bold" text-anchor="start" fill="#000" >PpIX</text>
<line x1="1159.5" y1="111.9" x2="1195.6" y2="111.9" stroke="#e4007f" stroke-width="2.7"/>
<text class="se" x="1197.6" y="116.6" font-size="14" font-weight="bold" text-anchor="start" fill="#000" >DP-TH</text>
<rect x="927.6" y="13.8" width="321.8" height="268.2" fill="none" stroke="#000" stroke-width="2.4"/>
<text class="se" x="895.3" y="142.8" font-size="14.7" font-weight="bold" text-anchor="middle" fill="#000" transform="rotate(-90 895.3 142.8)" >Absorbance (a.u)</text>
<text class="se" x="1088" y="316.3" font-size="15" font-weight="bold" text-anchor="middle" fill="#000" >Wavelength (nm)</text>
</g>
<g id="panelD">
<text class="sa" transform="translate(24.2 371.4) scale(0.79 1)" font-size="18.4" font-weight="bold" text-anchor="start" fill="#000" stroke="#000" stroke-width="0.4">(D)</text>
<line x1="79.2" y1="623" x2="83.4" y2="623" stroke="#000" stroke-width="1.7" />
<text class="se" x="76" y="626.4" font-size="10.2" font-weight="bold" text-anchor="end" fill="#000" >0</text>
<line x1="79.2" y1="596.26" x2="83.4" y2="596.26" stroke="#000" stroke-width="1.7" />
<text class="se" x="76" y="599.66" font-size="10.2" font-weight="bold" text-anchor="end" fill="#000" >1</text>
<line x1="79.2" y1="569.52" x2="83.4" y2="569.52" stroke="#000" stroke-width="1.7" />
<text class="se" x="76" y="572.92" font-size="10.2" font-weight="bold" text-anchor="end" fill="#000" >2</text>
<line x1="79.2" y1="542.78" x2="83.4" y2="542.78" stroke="#000" stroke-width="1.7" />
<text class="se" x="76" y="546.18" font-size="10.2" font-weight="bold" text-anchor="end" fill="#000" >3</text>
<line x1="79.2" y1="516.04" x2="83.4" y2="516.04" stroke="#000" stroke-width="1.7" />
<text class="se" x="76" y="519.44" font-size="10.2" font-weight="bold" text-anchor="end" fill="#000" >4</text>
<line x1="79.2" y1="489.3" x2="83.4" y2="489.3" stroke="#000" stroke-width="1.7" />
<text class="se" x="76" y="492.7" font-size="10.2" font-weight="bold" text-anchor="end" fill="#000" >5</text>
<line x1="79.2" y1="462.56" x2="83.4" y2="462.56" stroke="#000" stroke-width="1.7" />
<text class="se" x="76" y="465.96" font-size="10.2" font-weight="bold" text-anchor="end" fill="#000" >6</text>
<line x1="79.2" y1="435.82" x2="83.4" y2="435.82" stroke="#000" stroke-width="1.7" />
<text class="se" x="76" y="439.22" font-size="10.2" font-weight="bold" text-anchor="end" fill="#000" >7</text>
<line x1="79.2" y1="409.08" x2="83.4" y2="409.08" stroke="#000" stroke-width="1.7" />
<text class="se" x="76" y="412.48" font-size="10.2" font-weight="bold" text-anchor="end" fill="#000" >8</text>
<line x1="79.2" y1="382.34" x2="83.4" y2="382.34" stroke="#000" stroke-width="1.7" />
<text class="se" x="76" y="385.74" font-size="10.2" font-weight="bold" text-anchor="end" fill="#000" >9</text>
<line x1="79.2" y1="355.6" x2="83.4" y2="355.6" stroke="#000" stroke-width="1.7" />
<text class="se" x="76" y="359" font-size="10.2" font-weight="bold" text-anchor="end" fill="#000" >10</text>
<line x1="111.3" y1="590.91" x2="111.3" y2="596.26" stroke="#ee1c25" stroke-width="1.3" />
<line x1="108.6" y1="590.91" x2="114" y2="590.91" stroke="#ee1c25" stroke-width="1.6" />
<rect x="92.1" y="596.26" width="38.4" height="26.74" fill="#ee1c25" stroke="#b01418" stroke-width="1" />
<text class="se" x="111.3" y="637.8" font-size="10.8" font-weight="bold" text-anchor="middle" fill="#000" >Cys</text>
<line x1="175.7" y1="391.97" x2="175.7" y2="410.95" stroke="#ee1c25" stroke-width="1.3" />
<line x1="173" y1="391.97" x2="178.4" y2="391.97" stroke="#ee1c25" stroke-width="1.6" />
<rect x="156.5" y="410.95" width="38.4" height="212.05" fill="#ee1c25" stroke="#b01418" stroke-width="1" />
<text class="se" x="175.7" y="637.8" font-size="10.8" font-weight="bold" text-anchor="middle" fill="#000" >TRF</text>
<line x1="239.7" y1="528.34" x2="239.7" y2="545.99" stroke="#ee1c25" stroke-width="1.3" />
<line x1="237" y1="528.34" x2="242.4" y2="528.34" stroke="#ee1c25" stroke-width="1.6" />
<rect x="220.5" y="545.99" width="38.4" height="77.01" fill="#ee1c25" stroke="#b01418" stroke-width="1" />
<text class="se" x="239.7" y="637.8" font-size="10.8" font-weight="bold" text-anchor="middle" fill="#000" >TRF+GSH</text>
<line x1="303.8" y1="522.46" x2="303.8" y2="529.41" stroke="#ee1c25" stroke-width="1.3" />
<line x1="301.1" y1="522.46" x2="306.5" y2="522.46" stroke="#ee1c25" stroke-width="1.6" />
<rect x="284.6" y="529.41" width="38.4" height="93.59" fill="#ee1c25" stroke="#b01418" stroke-width="1" />
<text class="se" x="303.8" y="637.8" font-size="10.8" font-weight="bold" text-anchor="middle" fill="#000" >Hb</text>
<line x1="367.8" y1="553.74" x2="367.8" y2="564.71" stroke="#ee1c25" stroke-width="1.3" />
<line x1="365.1" y1="553.74" x2="370.5" y2="553.74" stroke="#ee1c25" stroke-width="1.6" />
<rect x="348.6" y="564.71" width="38.4" height="58.29" fill="#ee1c25" stroke="#b01418" stroke-width="1" />
<text class="se" x="367.8" y="637.8" font-size="10.8" font-weight="bold" text-anchor="middle" fill="#000" >TH</text>
<line x1="173.8" y1="384" x2="235.4" y2="384" stroke="#000" stroke-width="2.5" />
<text class="se" x="204.3" y="380" font-size="19" font-weight="bold" text-anchor="middle" fill="#000" >*</text>
<line x1="241.3" y1="499.6" x2="371.1" y2="499.6" stroke="#000" stroke-width="2.5" />
<text class="se" x="292.8" y="497.2" font-size="19" font-weight="bold" text-anchor="middle" fill="#000" >*</text>
<text class="se" x="318" y="497.2" font-size="19" font-weight="bold" text-anchor="middle" fill="#000" >*</text>
<rect x="334.4" y="362.4" width="32.6" height="16.8" fill="#ee1c25" stroke="#b01418" stroke-width="1" />
<text class="se" x="370.8" y="375.6" font-size="13.8" font-weight="bold" text-anchor="start" fill="#000" >-SH</text>
<rect x="79.2" y="355.6" width="320.6" height="267.4" fill="none" stroke="#000" stroke-width="2.2"/>
<text class="se" x="60.2" y="490" font-size="15" font-weight="bold" text-anchor="middle" fill="#000" transform="rotate(-90 60.2 490)" >Relative Free Thiol Concentation</text>
</g>
<g id="panelE">
<text class="sa" transform="translate(448.8 370) scale(0.79 1)" font-size="18.4" font-weight="bold" text-anchor="start" fill="#000" stroke="#000" stroke-width="0.4">(E)</text>
<line x1="502.9" y1="607" x2="507.5" y2="607" stroke="#000" stroke-width="1.8" />
<text class="se" x="499.5" y="610.5" font-size="10.6" font-weight="bold" text-anchor="end" fill="#000" >0</text>
<line x1="502.9" y1="575.63" x2="507.5" y2="575.63" stroke="#000" stroke-width="1.8" />
<text class="se" x="499.5" y="579.13" font-size="10.6" font-weight="bold" text-anchor="end" fill="#000" >1</text>
<line x1="502.9" y1="544.26" x2="507.5" y2="544.26" stroke="#000" stroke-width="1.8" />
<text class="se" x="499.5" y="547.76" font-size="10.6" font-weight="bold" text-anchor="end" fill="#000" >2</text>
<line x1="502.9" y1="512.89" x2="507.5" y2="512.89" stroke="#000" stroke-width="1.8" />
<text class="se" x="499.5" y="516.39" font-size="10.6" font-weight="bold" text-anchor="end" fill="#000" >3</text>
<line x1="502.9" y1="481.52" x2="507.5" y2="481.52" stroke="#000" stroke-width="1.8" />
<text class="se" x="499.5" y="485.02" font-size="10.6" font-weight="bold" text-anchor="end" fill="#000" >4</text>
<line x1="502.9" y1="450.15" x2="507.5" y2="450.15" stroke="#000" stroke-width="1.8" />
<text class="se" x="499.5" y="453.65" font-size="10.6" font-weight="bold" text-anchor="end" fill="#000" >5</text>
<line x1="502.9" y1="418.78" x2="507.5" y2="418.78" stroke="#000" stroke-width="1.8" />
<text class="se" x="499.5" y="422.28" font-size="10.6" font-weight="bold" text-anchor="end" fill="#000" >6</text>
<line x1="502.9" y1="387.41" x2="507.5" y2="387.41" stroke="#000" stroke-width="1.8" />
<text class="se" x="499.5" y="390.91" font-size="10.6" font-weight="bold" text-anchor="end" fill="#000" >7</text>
<line x1="502.9" y1="356.04" x2="507.5" y2="356.04" stroke="#000" stroke-width="1.8" />
<text class="se" x="499.5" y="359.54" font-size="10.6" font-weight="bold" text-anchor="end" fill="#000" >8</text>
<line x1="525.6" y1="622.8" x2="525.6" y2="618.4" stroke="#000" stroke-width="1.8" />
<text class="se" x="525.6" y="635.6" font-size="11" font-weight="bold" text-anchor="middle" fill="#000" >0</text>
<line x1="571.28" y1="622.8" x2="571.28" y2="618.4" stroke="#000" stroke-width="1.8" />
<text class="se" x="571.28" y="635.6" font-size="11" font-weight="bold" text-anchor="middle" fill="#000" >20</text>
<line x1="616.97" y1="622.8" x2="616.97" y2="618.4" stroke="#000" stroke-width="1.8" />
<text class="se" x="616.97" y="635.6" font-size="11" font-weight="bold" text-anchor="middle" fill="#000" >40</text>
<line x1="662.65" y1="622.8" x2="662.65" y2="618.4" stroke="#000" stroke-width="1.8" />
<text class="se" x="662.65" y="635.6" font-size="11" font-weight="bold" text-anchor="middle" fill="#000" >60</text>
<line x1="708.34" y1="622.8" x2="708.34" y2="618.4" stroke="#000" stroke-width="1.8" />
<text class="se" x="708.34" y="635.6" font-size="11" font-weight="bold" text-anchor="middle" fill="#000" >80</text>
<line x1="754.02" y1="622.8" x2="754.02" y2="618.4" stroke="#000" stroke-width="1.8" />
<text class="se" x="754.02" y="635.6" font-size="11" font-weight="bold" text-anchor="middle" fill="#000" >100</text>
<line x1="799.7" y1="622.8" x2="799.7" y2="618.4" stroke="#000" stroke-width="1.8" />
<text class="se" x="799.7" y="635.6" font-size="11" font-weight="bold" text-anchor="middle" fill="#000" >120</text>
<polyline points="525.6,607 527.88,561.51 537.02,541.12 548.44,523.87 559.86,522.93 594.13,521.67 628.39,520.73 662.65,521.05 696.91,520.42 731.18,521.67 765.44,520.73 799.7,522.93" fill="none" stroke="#ee1c25" stroke-width="2.6" stroke-linejoin="round" stroke-linecap="butt" stroke-dasharray="7 4" />
<circle cx="525.6" cy="607" r="3.3" fill="#ee1c25"/>
<circle cx="527.88" cy="561.51" r="3.3" fill="#ee1c25"/>
<circle cx="537.02" cy="541.12" r="3.3" fill="#ee1c25"/>
<circle cx="548.44" cy="523.87" r="3.3" fill="#ee1c25"/>
<circle cx="559.86" cy="522.93" r="3.3" fill="#ee1c25"/>
<circle cx="594.13" cy="521.67" r="3.3" fill="#ee1c25"/>
<circle cx="628.39" cy="520.73" r="3.3" fill="#ee1c25"/>
<circle cx="662.65" cy="521.05" r="3.3" fill="#ee1c25"/>
<circle cx="696.91" cy="520.42" r="3.3" fill="#ee1c25"/>
<circle cx="731.18" cy="521.67" r="3.3" fill="#ee1c25"/>
<circle cx="765.44" cy="520.73" r="3.3" fill="#ee1c25"/>
<circle cx="799.7" cy="522.93" r="3.3" fill="#ee1c25"/>
<polyline points="525.6,607 527.88,548.97 537.02,517.6 548.44,489.36 559.86,473.68 594.13,448.58 628.39,440.74 662.65,443.25 696.91,441.68 731.18,439.17 765.44,439.8 799.7,441.37" fill="none" stroke="#ee1c25" stroke-width="2.6" stroke-linejoin="round" stroke-linecap="butt" />
<rect x="522.7" y="604.1" width="5.8" height="5.8" fill="#ee1c25" stroke="none" stroke-width="1" />
<rect x="524.98" y="546.07" width="5.8" height="5.8" fill="#ee1c25" stroke="none" stroke-width="1" />
<rect x="534.12" y="514.7" width="5.8" height="5.8" fill="#ee1c25" stroke="none" stroke-width="1" />
<rect x="545.54" y="486.46" width="5.8" height="5.8" fill="#ee1c25" stroke="none" stroke-width="1" />
<rect x="556.96" y="470.78" width="5.8" height="5.8" fill="#ee1c25" stroke="none" stroke-width="1" />
<rect x="591.23" y="445.68" width="5.8" height="5.8" fill="#ee1c25" stroke="none" stroke-width="1" />
<rect x="625.49" y="437.84" width="5.8" height="5.8" fill="#ee1c25" stroke="none" stroke-width="1" />
<rect x="659.75" y="440.35" width="5.8" height="5.8" fill="#ee1c25" stroke="none" stroke-width="1" />
<rect x="694.01" y="438.78" width="5.8" height="5.8" fill="#ee1c25" stroke="none" stroke-width="1" />
<rect x="728.28" y="436.27" width="5.8" height="5.8" fill="#ee1c25" stroke="none" stroke-width="1" />
<rect x="762.54" y="436.9" width="5.8" height="5.8" fill="#ee1c25" stroke="none" stroke-width="1" />
<rect x="796.8" y="438.47" width="5.8" height="5.8" fill="#ee1c25" stroke="none" stroke-width="1" />
<polyline points="525.6,607 527.88,602.29 537.02,600.73 548.44,600.1 559.86,600.1 594.13,600.1 628.39,600.1 662.65,600.41 696.91,600.1 731.18,600.1 765.44,600.1 799.7,600.41" fill="none" stroke="#000000" stroke-width="2.6" stroke-linejoin="round" stroke-linecap="butt" stroke-dasharray="7 4" />
<polygon points="525.6,603.2 529.4,607 525.6,610.8 521.8,607" fill="#000000"/>
<polygon points="527.88,598.49 531.68,602.29 527.88,606.09 524.08,602.29" fill="#000000"/>
<polygon points="537.02,596.93 540.82,600.73 537.02,604.53 533.22,600.73" fill="#000000"/>
<polygon points="548.44,596.3 552.24,600.1 548.44,603.9 544.64,600.1" fill="#000000"/>
<polygon points="559.86,596.3 563.66,600.1 559.86,603.9 556.06,600.1" fill="#000000"/>
<polygon points="594.13,596.3 597.93,600.1 594.13,603.9 590.33,600.1" fill="#000000"/>
<polygon points="628.39,596.3 632.19,600.1 628.39,603.9 624.59,600.1" fill="#000000"/>
<polygon points="662.65,596.61 666.45,600.41 662.65,604.21 658.85,600.41" fill="#000000"/>
<polygon points="696.91,596.3 700.71,600.1 696.91,603.9 693.12,600.1" fill="#000000"/>
<polygon points="731.18,596.3 734.98,600.1 731.18,603.9 727.38,600.1" fill="#000000"/>
<polygon points="765.44,596.3 769.24,600.1 765.44,603.9 761.64,600.1" fill="#000000"/>
<polygon points="799.7,596.61 803.5,600.41 799.7,604.21 795.9,600.41" fill="#000000"/>
<polyline points="525.6,607 527.88,600.73 537.02,599.16 548.44,597.59 559.86,596.02 594.13,593.82 628.39,591.94 662.65,591.32 696.91,591.32 731.18,591 765.44,590.69 799.7,590.69" fill="none" stroke="#000000" stroke-width="2.6" stroke-linejoin="round" stroke-linecap="butt" />
<polygon points="525.6,603.4 522,609.88 529.2,609.88" fill="#000000"/>
<polygon points="527.88,597.13 524.28,603.61 531.48,603.61" fill="#000000"/>
<polygon points="537.02,595.56 533.42,602.04 540.62,602.04" fill="#000000"/>
<polygon points="548.44,593.99 544.84,600.47 552.04,600.47" fill="#000000"/>
<polygon points="559.86,592.42 556.26,598.9 563.46,598.9" fill="#000000"/>
<polygon points="594.13,590.22 590.53,596.7 597.73,596.7" fill="#000000"/>
<polygon points="628.39,588.34 624.79,594.82 631.99,594.82" fill="#000000"/>
<polygon points="662.65,587.72 659.05,594.2 666.25,594.2" fill="#000000"/>
<polygon points="696.91,587.72 693.31,594.2 700.51,594.2" fill="#000000"/>
<polygon points="731.18,587.4 727.58,593.88 734.78,593.88" fill="#000000"/>
<polygon points="765.44,587.09 761.84,593.57 769.04,593.57" fill="#000000"/>
<polygon points="799.7,587.09 796.1,593.57 803.3,593.57" fill="#000000"/>
<line x1="523.5" y1="371.5" x2="559" y2="371.5" stroke="#ee1c25" stroke-width="2.6"/>
<rect x="538.3" y="368.6" width="5.8" height="5.8" fill="#ee1c25" stroke="none" stroke-width="1" />
<text class="se" x="561.2" y="376.3" font-size="14.5" font-weight="bold" text-anchor="start" fill="#000" >ODP-TH-h</text>
<line x1="523.5" y1="391.3" x2="559" y2="391.3" stroke="#ee1c25" stroke-width="2.6" stroke-dasharray="4.6 3.2"/>
<circle cx="541.2" cy="391.3" r="3.3" fill="#ee1c25"/>
<text class="se" x="561.2" y="396.1" font-size="14.5" font-weight="bold" fill="#000">HbO<tspan font-size="9" dy="4">2</tspan><tspan dy="-4">-h</tspan></text>
<line x1="523.5" y1="413.1" x2="559" y2="413.1" stroke="#000000" stroke-width="2.6"/>
<polygon points="541.2,409.5 537.6,415.98 544.8,415.98" fill="#000000"/>
<text class="se" x="561.2" y="417.9" font-size="14.5" font-weight="bold" text-anchor="start" fill="#000" >ODP-TH</text>
<line x1="523.5" y1="432.1" x2="559" y2="432.1" stroke="#000000" stroke-width="2.6" stroke-dasharray="4.6 3.2"/>
<polygon points="541.2,428.3 545,432.1 541.2,435.9 537.4,432.1" fill="#000000"/>
<text class="se" x="561.2" y="436.9" font-size="14.5" font-weight="bold" fill="#000">HbO<tspan font-size="9" dy="4">2</tspan><tspan dy="-4"></tspan></text>
<rect x="502.9" y="355.8" width="320.7" height="267" fill="none" stroke="#000" stroke-width="2.4"/>
<text class="se" x="486.5" y="489.8" font-size="14.7" font-weight="bold" text-anchor="middle" fill="#000" transform="rotate(-90 486.5 489.8)">O<tspan font-size="9" dy="3.6">2</tspan><tspan dy="-3.6"> release (mg/L)</tspan></text>
<text class="se" x="662.8" y="657.4" font-size="14.6" font-weight="bold" text-anchor="middle" fill="#000" >Time (min)</text>
</g>
<g id="panelF">
<text class="sa" transform="translate(877.2 371.4) scale(0.79 1)" font-size="18.4" font-weight="bold" text-anchor="start" fill="#000" stroke="#000" stroke-width="0.4">(F)</text>
<line x1="927.4" y1="623.4" x2="931.8" y2="623.4" stroke="#000" stroke-width="1.8" />
<text class="se" x="923.6" y="626.9" font-size="10.8" font-weight="bold" text-anchor="end" fill="#000" >0</text>
<line x1="927.4" y1="569.92" x2="931.8" y2="569.92" stroke="#000" stroke-width="1.8" />
<text class="se" x="923.6" y="573.42" font-size="10.8" font-weight="bold" text-anchor="end" fill="#000" >20</text>
<line x1="927.4" y1="516.44" x2="931.8" y2="516.44" stroke="#000" stroke-width="1.8" />
<text class="se" x="923.6" y="519.94" font-size="10.8" font-weight="bold" text-anchor="end" fill="#000" >40</text>
<line x1="927.4" y1="462.96" x2="931.8" y2="462.96" stroke="#000" stroke-width="1.8" />
<text class="se" x="923.6" y="466.46" font-size="10.8" font-weight="bold" text-anchor="end" fill="#000" >60</text>
<line x1="927.4" y1="409.48" x2="931.8" y2="409.48" stroke="#000" stroke-width="1.8" />
<text class="se" x="923.6" y="412.98" font-size="10.8" font-weight="bold" text-anchor="end" fill="#000" >80</text>
<line x1="927.4" y1="356" x2="931.8" y2="356" stroke="#000" stroke-width="1.8" />
<text class="se" x="923.6" y="359.5" font-size="10.8" font-weight="bold" text-anchor="end" fill="#000" >100</text>
<line x1="928.8" y1="623.4" x2="928.8" y2="619" stroke="#000" stroke-width="1.8" />
<text class="se" x="928.8" y="635.2" font-size="10.8" font-weight="bold" text-anchor="middle" fill="#000" >0</text>
<line x1="968.72" y1="623.4" x2="968.72" y2="619" stroke="#000" stroke-width="1.8" />
<text class="se" x="968.72" y="635.2" font-size="10.8" font-weight="bold" text-anchor="middle" fill="#000" >5</text>
<line x1="1008.65" y1="623.4" x2="1008.65" y2="619" stroke="#000" stroke-width="1.8" />
<text class="se" x="1008.65" y="635.2" font-size="10.8" font-weight="bold" text-anchor="middle" fill="#000" >10</text>
<line x1="1048.58" y1="623.4" x2="1048.58" y2="619" stroke="#000" stroke-width="1.8" />
<text class="se" x="1048.58" y="635.2" font-size="10.8" font-weight="bold" text-anchor="middle" fill="#000" >15</text>
<line x1="1088.5" y1="623.4" x2="1088.5" y2="619" stroke="#000" stroke-width="1.8" />
<text class="se" x="1088.5" y="635.2" font-size="10.8" font-weight="bold" text-anchor="middle" fill="#000" >20</text>
<line x1="1128.42" y1="623.4" x2="1128.42" y2="619" stroke="#000" stroke-width="1.8" />
<text class="se" x="1128.42" y="635.2" font-size="10.8" font-weight="bold" text-anchor="middle" fill="#000" >25</text>
<line x1="1168.35" y1="623.4" x2="1168.35" y2="619" stroke="#000" stroke-width="1.8" />
<text class="se" x="1168.35" y="635.2" font-size="10.8" font-weight="bold" text-anchor="middle" fill="#000" >30</text>
<line x1="1208.28" y1="623.4" x2="1208.28" y2="619" stroke="#000" stroke-width="1.8" />
<text class="se" x="1208.28" y="635.2" font-size="10.8" font-weight="bold" text-anchor="middle" fill="#000" >35</text>
<line x1="1248.2" y1="623.4" x2="1248.2" y2="619" stroke="#000" stroke-width="1.8" />
<text class="se" x="1248.2" y="635.2" font-size="10.8" font-weight="bold" text-anchor="middle" fill="#000" >40</text>
<line x1="932.79" y1="583.29" x2="932.79" y2="588.64" stroke="#111111" stroke-width="1.6" />
<line x1="930.39" y1="583.29" x2="935.19" y2="583.29" stroke="#111111" stroke-width="1.5" />
<line x1="936.78" y1="579.28" x2="936.78" y2="583.29" stroke="#111111" stroke-width="1.6" />
<line x1="934.38" y1="579.28" x2="939.18" y2="579.28" stroke="#111111" stroke-width="1.5" />
<line x1="944.77" y1="540.51" x2="944.77" y2="545.85" stroke="#111111" stroke-width="1.6" />
<line x1="942.37" y1="540.51" x2="947.17" y2="540.51" stroke="#111111" stroke-width="1.5" />
<line x1="952.75" y1="501.74" x2="952.75" y2="511.09" stroke="#111111" stroke-width="1.6" />
<line x1="950.36" y1="501.74" x2="955.15" y2="501.74" stroke="#111111" stroke-width="1.5" />
<line x1="960.74" y1="483.02" x2="960.74" y2="487.03" stroke="#111111" stroke-width="1.6" />
<line x1="958.34" y1="483.02" x2="963.14" y2="483.02" stroke="#111111" stroke-width="1.5" />
<line x1="976.71" y1="441.57" x2="976.71" y2="450.93" stroke="#111111" stroke-width="1.6" />
<line x1="974.31" y1="441.57" x2="979.11" y2="441.57" stroke="#111111" stroke-width="1.5" />
<line x1="992.68" y1="418.84" x2="992.68" y2="429.53" stroke="#111111" stroke-width="1.6" />
<line x1="990.28" y1="418.84" x2="995.08" y2="418.84" stroke="#111111" stroke-width="1.5" />
<line x1="1024.62" y1="402.8" x2="1024.62" y2="413.49" stroke="#111111" stroke-width="1.6" />
<line x1="1022.22" y1="402.8" x2="1027.02" y2="402.8" stroke="#111111" stroke-width="1.5" />
<line x1="1072.53" y1="392.1" x2="1072.53" y2="402.8" stroke="#111111" stroke-width="1.6" />
<line x1="1070.13" y1="392.1" x2="1074.93" y2="392.1" stroke="#111111" stroke-width="1.5" />
<line x1="1120.44" y1="392.1" x2="1120.44" y2="401.46" stroke="#111111" stroke-width="1.6" />
<line x1="1118.04" y1="392.1" x2="1122.84" y2="392.1" stroke="#111111" stroke-width="1.5" />
<line x1="1216.26" y1="392.1" x2="1216.26" y2="400.12" stroke="#111111" stroke-width="1.6" />
<line x1="1213.86" y1="392.1" x2="1218.66" y2="392.1" stroke="#111111" stroke-width="1.5" />
<polyline points="928.8,623.4 932.79,588.64 936.78,583.29 944.77,545.85 952.75,511.09 960.74,487.03 976.71,450.93 992.68,429.53 1024.62,413.49 1072.53,402.8 1120.44,401.46 1216.26,400.12" fill="none" stroke="#111111" stroke-width="2.5" stroke-linejoin="round" stroke-linecap="butt" />
<rect x="926.1" y="620.7" width="5.4" height="5.4" fill="#111111" stroke="none" stroke-width="1" />
<rect x="930.09" y="585.94" width="5.4" height="5.4" fill="#111111" stroke="none" stroke-width="1" />
<rect x="934.08" y="580.59" width="5.4" height="5.4" fill="#111111" stroke="none" stroke-width="1" />
<rect x="942.07" y="543.15" width="5.4" height="5.4" fill="#111111" stroke="none" stroke-width="1" />
<rect x="950.05" y="508.39" width="5.4" height="5.4" fill="#111111" stroke="none" stroke-width="1" />
<rect x="958.04" y="484.33" width="5.4" height="5.4" fill="#111111" stroke="none" stroke-width="1" />
<rect x="974.01" y="448.23" width="5.4" height="5.4" fill="#111111" stroke="none" stroke-width="1" />
<rect x="989.98" y="426.83" width="5.4" height="5.4" fill="#111111" stroke="none" stroke-width="1" />
<rect x="1021.92" y="410.79" width="5.4" height="5.4" fill="#111111" stroke="none" stroke-width="1" />
<rect x="1069.83" y="400.1" width="5.4" height="5.4" fill="#111111" stroke="none" stroke-width="1" />
<rect x="1117.74" y="398.76" width="5.4" height="5.4" fill="#111111" stroke="none" stroke-width="1" />
<rect x="1213.56" y="397.42" width="5.4" height="5.4" fill="#111111" stroke="none" stroke-width="1" />
<line x1="932.79" y1="592.65" x2="932.79" y2="596.66" stroke="#ee1c25" stroke-width="1.6" />
<line x1="930.39" y1="592.65" x2="935.19" y2="592.65" stroke="#ee1c25" stroke-width="1.5" />
<line x1="936.78" y1="581.95" x2="936.78" y2="585.96" stroke="#ee1c25" stroke-width="1.6" />
<line x1="934.38" y1="581.95" x2="939.18" y2="581.95" stroke="#ee1c25" stroke-width="1.5" />
<line x1="944.77" y1="553.88" x2="944.77" y2="559.22" stroke="#ee1c25" stroke-width="1.6" />
<line x1="942.37" y1="553.88" x2="947.17" y2="553.88" stroke="#ee1c25" stroke-width="1.5" />
<line x1="952.75" y1="532.49" x2="952.75" y2="537.83" stroke="#ee1c25" stroke-width="1.6" />
<line x1="950.36" y1="532.49" x2="955.15" y2="532.49" stroke="#ee1c25" stroke-width="1.5" />
<line x1="960.74" y1="511.09" x2="960.74" y2="517.78" stroke="#ee1c25" stroke-width="1.6" />
<line x1="958.34" y1="511.09" x2="963.14" y2="511.09" stroke="#ee1c25" stroke-width="1.5" />
<line x1="976.71" y1="480.34" x2="976.71" y2="487.03" stroke="#ee1c25" stroke-width="1.6" />
<line x1="974.31" y1="480.34" x2="979.11" y2="480.34" stroke="#ee1c25" stroke-width="1.5" />
<line x1="992.68" y1="449.59" x2="992.68" y2="461.62" stroke="#ee1c25" stroke-width="1.6" />
<line x1="990.28" y1="449.59" x2="995.08" y2="449.59" stroke="#ee1c25" stroke-width="1.5" />
<line x1="1024.62" y1="433.55" x2="1024.62" y2="440.23" stroke="#ee1c25" stroke-width="1.6" />
<line x1="1022.22" y1="433.55" x2="1027.02" y2="433.55" stroke="#ee1c25" stroke-width="1.5" />
<line x1="1072.53" y1="409.48" x2="1072.53" y2="416.16" stroke="#ee1c25" stroke-width="1.6" />
<line x1="1070.13" y1="409.48" x2="1074.93" y2="409.48" stroke="#ee1c25" stroke-width="1.5" />
<line x1="1120.44" y1="406.81" x2="1120.44" y2="409.48" stroke="#ee1c25" stroke-width="1.6" />
<line x1="1118.04" y1="406.81" x2="1122.84" y2="406.81" stroke="#ee1c25" stroke-width="1.5" />
<line x1="1216.26" y1="405.47" x2="1216.26" y2="408.14" stroke="#ee1c25" stroke-width="1.6" />
<line x1="1213.86" y1="405.47" x2="1218.66" y2="405.47" stroke="#ee1c25" stroke-width="1.5" />
<polyline points="928.8,623.4 932.79,596.66 936.78,585.96 944.77,559.22 952.75,537.83 960.74,517.78 976.71,487.03 992.68,461.62 1024.62,440.23 1072.53,416.16 1120.44,409.48 1216.26,408.14" fill="none" stroke="#ee1c25" stroke-width="2.5" stroke-linejoin="round" stroke-linecap="butt" />
<rect x="926.1" y="620.7" width="5.4" height="5.4" fill="#ee1c25" stroke="none" stroke-width="1" />
<rect x="930.09" y="593.96" width="5.4" height="5.4" fill="#ee1c25" stroke="none" stroke-width="1" />
<rect x="934.08" y="583.26" width="5.4" height="5.4" fill="#ee1c25" stroke="none" stroke-width="1" />
<rect x="942.07" y="556.52" width="5.4" height="5.4" fill="#ee1c25" stroke="none" stroke-width="1" />
<rect x="950.05" y="535.13" width="5.4" height="5.4" fill="#ee1c25" stroke="none" stroke-width="1" />
<rect x="958.04" y="515.08" width="5.4" height="5.4" fill="#ee1c25" stroke="none" stroke-width="1" />
<rect x="974.01" y="484.33" width="5.4" height="5.4" fill="#ee1c25" stroke="none" stroke-width="1" />
<rect x="989.98" y="458.92" width="5.4" height="5.4" fill="#ee1c25" stroke="none" stroke-width="1" />
<rect x="1021.92" y="437.53" width="5.4" height="5.4" fill="#ee1c25" stroke="none" stroke-width="1" />
<rect x="1069.83" y="413.46" width="5.4" height="5.4" fill="#ee1c25" stroke="none" stroke-width="1" />
<rect x="1117.74" y="406.78" width="5.4" height="5.4" fill="#ee1c25" stroke="none" stroke-width="1" />
<rect x="1213.56" y="405.44" width="5.4" height="5.4" fill="#ee1c25" stroke="none" stroke-width="1" />
<line x1="1173.4" y1="365.7" x2="1206.5" y2="365.7" stroke="#111111" stroke-width="2" />
<rect x="1187.3" y="363" width="5.4" height="5.4" fill="#111111" stroke="none" stroke-width="1" />
<text class="se" x="1210.8" y="370.5" font-size="14.2" font-weight="bold" text-anchor="start" fill="#000" >Dox</text>
<line x1="1173.4" y1="384.7" x2="1206.5" y2="384.7" stroke="#ee1c25" stroke-width="2" />
<rect x="1187.3" y="382" width="5.4" height="5.4" fill="#ee1c25" stroke="none" stroke-width="1" />
<text class="se" x="1210.8" y="389.5" font-size="14.2" font-weight="bold" text-anchor="start" fill="#000" >PpIX</text>
<rect x="927.4" y="356" width="320.8" height="267.4" fill="none" stroke="#000" stroke-width="2.4"/>
<text class="se" x="903.5" y="489" font-size="14.4" font-weight="bold" text-anchor="middle" fill="#000" transform="rotate(-90 903.5 489)" >Drug Release (%)</text>
<text class="se" x="1088" y="657.5" font-size="14.4" font-weight="bold" text-anchor="middle" fill="#000" >Time (h)</text>
</g>
<g id="panelG">
<text class="sa" x="31.3" y="685" font-size="16" font-weight="normal" text-anchor="start" fill="#000" stroke="#000" stroke-width="0.5">(G)</text>
<line x1="77.1" y1="902.6" x2="82.1" y2="902.6" stroke="#000" stroke-width="1.8" />
<text class="sa" x="74.9" y="907.2" font-size="10.8" font-weight="bold" text-anchor="end" fill="#000" >0</text>
<line x1="77.1" y1="869.2" x2="82.1" y2="869.2" stroke="#000" stroke-width="1.8" />
<text class="sa" x="74.9" y="873.8" font-size="10.8" font-weight="bold" text-anchor="end" fill="#000" >500</text>
<line x1="77.1" y1="835.8" x2="82.1" y2="835.8" stroke="#000" stroke-width="1.8" />
<text class="sa" x="74.9" y="840.4" font-size="10.8" font-weight="bold" text-anchor="end" fill="#000" >1000</text>
<line x1="77.1" y1="802.4" x2="82.1" y2="802.4" stroke="#000" stroke-width="1.8" />
<text class="sa" x="74.9" y="807" font-size="10.8" font-weight="bold" text-anchor="end" fill="#000" >1500</text>
<line x1="77.1" y1="769" x2="82.1" y2="769" stroke="#000" stroke-width="1.8" />
<text class="sa" x="74.9" y="773.6" font-size="10.8" font-weight="bold" text-anchor="end" fill="#000" >2000</text>
<line x1="77.1" y1="735.6" x2="82.1" y2="735.6" stroke="#000" stroke-width="1.8" />
<text class="sa" x="74.9" y="740.2" font-size="10.8" font-weight="bold" text-anchor="end" fill="#000" >2500</text>
<line x1="77.1" y1="702.2" x2="82.1" y2="702.2" stroke="#000" stroke-width="1.8" />
<text class="sa" x="74.9" y="706.8" font-size="10.8" font-weight="bold" text-anchor="end" fill="#000" >3000</text>
<line x1="125.4" y1="902.6" x2="125.4" y2="907.6" stroke="#000" stroke-width="1.8" />
<text class="sa" x="125.4" y="920.8" font-size="10.6" font-weight="bold" text-anchor="middle" fill="#000" >500</text>
<line x1="197.8" y1="902.6" x2="197.8" y2="907.6" stroke="#000" stroke-width="1.8" />
<text class="sa" x="197.8" y="920.8" font-size="10.6" font-weight="bold" text-anchor="middle" fill="#000" >550</text>
<line x1="270.2" y1="902.6" x2="270.2" y2="907.6" stroke="#000" stroke-width="1.8" />
<text class="sa" x="270.2" y="920.8" font-size="10.6" font-weight="bold" text-anchor="middle" fill="#000" >600</text>
<line x1="342.6" y1="902.6" x2="342.6" y2="907.6" stroke="#000" stroke-width="1.8" />
<text class="sa" x="342.6" y="920.8" font-size="10.6" font-weight="bold" text-anchor="middle" fill="#000" >650</text>
<line x1="415" y1="902.6" x2="415" y2="907.6" stroke="#000" stroke-width="1.8" />
<text class="sa" x="418.5" y="920.8" font-size="10.6" font-weight="bold" text-anchor="middle" fill="#000" >700</text>
<clipPath id="clipG"><rect x="82.1" y="702.2" width="333" height="201.4"/></clipPath><g clip-path="url(#clipG)">
<polyline points="81.96,901.13 83.25,901.14 84.53,901.15 85.82,901.17 87.1,901.18 88.39,901.19 89.68,901.2 90.96,901.21 92.25,901.22 93.53,901.23 94.82,901.24 96.1,901.25 97.39,901.26 98.68,901.27 99.96,901.28 101.25,901.29 102.53,901.3 103.82,901.31 105.11,901.32 106.39,901.33 107.68,901.34 108.96,901.34 110.25,901.35 111.53,901.36 112.82,901.37 114.11,901.38 115.39,901.39 116.68,901.39 117.96,901.4 119.25,901.41 120.54,901.42 121.82,901.43 123.11,901.43 124.39,901.44 125.68,901.45 126.97,901.45 128.25,901.46 129.54,901.46 130.82,901.47 132.11,901.47 133.39,901.47 134.68,901.47 135.97,901.47 137.25,901.47 138.54,901.46 139.82,901.46 141.11,901.45 142.4,901.44 143.68,901.43 144.97,901.4 146.25,901.37 147.54,901.33 148.83,901.29 150.11,901.23 151.4,901.17 152.68,901.1 153.97,901.02 155.25,900.93 156.54,900.84 157.83,900.73 159.11,900.61 160.4,900.47 161.68,900.32 162.97,900.15 164.26,899.97 165.54,899.75 166.83,899.51 168.11,899.25 169.4,898.97 170.68,898.64 171.97,898.25 173.26,897.85 174.54,897.44 175.83,896.98 177.11,896.48 178.4,895.97 179.69,895.44 180.97,894.85 182.26,894.28 183.54,893.73 184.83,893.11 186.12,892.46 187.4,891.8 188.69,891.02 189.97,890.11 191.26,889.12 192.54,888.03 193.83,886.77 195.12,885.47 196.4,884.38 197.69,883.51 198.97,882.59 200.26,881.73 201.55,881.14 202.83,880.64 204.12,880.3 205.4,880.12 206.69,879.95 207.98,879.93 209.26,879.97 210.55,879.98 211.83,880.09 213.12,880.26 214.4,880.42 215.69,880.6 216.98,880.76 218.26,880.88 219.55,881.1 220.83,881.29 222.12,881.39 223.41,881.57 224.69,881.86 225.98,882.07 227.26,882.19 228.55,882.33 229.83,882.46 231.12,882.61 232.41,882.79 233.69,882.98 234.98,883.2 236.26,883.31 237.55,883.36 238.84,883.5 240.12,883.69 241.41,883.9 242.69,884.14 243.98,884.35 245.27,884.53 246.55,884.75 247.84,885 249.12,885.33 250.41,885.69 251.69,885.95 252.98,886.22 254.27,886.63 255.55,887.12 256.84,887.58 258.12,887.98 259.41,888.39 260.7,888.81 261.98,889.24 263.27,889.68 264.55,890.16 265.84,890.68 267.13,891.16 268.41,891.63 269.7,892.17 270.98,892.75 272.27,893.28 273.55,893.79 274.84,894.3 276.13,894.77 277.41,895.22 278.7,895.67 279.98,896.09 281.27,896.45 282.56,896.81 283.84,897.15 285.13,897.45 286.41,897.7 287.7,897.95 288.98,898.2 290.27,898.42 291.56,898.63 292.84,898.83 294.13,899.02 295.41,899.2 296.7,899.36 297.99,899.51 299.27,899.65 300.56,899.78 301.84,899.91 303.13,900.02 304.42,900.12 305.7,900.22 306.99,900.32 308.27,900.4 309.56,900.48 310.84,900.55 312.13,900.61 313.42,900.68 314.7,900.73 315.99,900.79 317.27,900.83 318.56,900.88 319.85,900.93 321.13,900.97 322.42,901.02 323.7,901.05 324.99,901.09 326.28,901.13 327.56,901.16 328.85,901.19 330.13,901.23 331.42,901.25 332.7,901.28 333.99,901.31 335.28,901.34 336.56,901.36 337.85,901.39 339.13,901.41 340.42,901.43 341.71,901.45 342.99,901.47 344.28,901.49 345.56,901.51 346.85,901.53 348.13,901.54 349.42,901.56 350.71,901.57 351.99,901.58 353.28,901.6 354.56,901.61 355.85,901.62 357.14,901.63 358.42,901.64 359.71,901.66 360.99,901.67 362.28,901.68 363.57,901.69 364.85,901.69 366.14,901.7 367.42,901.71 368.71,901.72 369.99,901.73 371.28,901.74 372.57,901.74 373.85,901.75 375.14,901.76 376.42,901.76 377.71,901.77 379,901.77 380.28,901.78 381.57,901.78 382.85,901.79 384.14,901.79 385.43,901.8 386.71,901.8 388,901.8 389.28,901.81 390.57,901.81 391.85,901.81 393.14,901.82 394.43,901.82 395.71,901.82 397,901.83 398.28,901.83 399.57,901.83 400.86,901.84 402.14,901.84 403.43,901.84 404.71,901.85 406,901.85 407.28,901.85 408.57,901.85 409.86,901.86 411.14,901.86 412.43,901.86 413.71,901.87 415,901.87" fill="none" stroke="#7a7a96" stroke-width="1.55" stroke-linejoin="round" stroke-linecap="butt" />
<polyline points="81.96,900.88 83.25,900.89 84.53,900.91 85.82,900.92 87.1,900.93 88.39,900.95 89.68,900.96 90.96,900.97 92.25,900.99 93.53,901 94.82,901.01 96.1,901.02 97.39,901.04 98.68,901.05 99.96,901.06 101.25,901.07 102.53,901.08 103.82,901.09 105.11,901.1 106.39,901.12 107.68,901.13 108.96,901.14 110.25,901.15 111.53,901.16 112.82,901.17 114.11,901.18 115.39,901.19 116.68,901.2 117.96,901.21 119.25,901.22 120.54,901.23 121.82,901.24 123.11,901.24 124.39,901.25 125.68,901.26 126.97,901.27 128.25,901.27 129.54,901.28 130.82,901.28 132.11,901.28 133.39,901.29 134.68,901.28 135.97,901.28 137.25,901.28 138.54,901.27 139.82,901.27 141.11,901.26 142.4,901.25 143.68,901.22 144.97,901.19 146.25,901.15 147.54,901.1 148.83,901.04 150.11,900.96 151.4,900.88 152.68,900.79 153.97,900.69 155.25,900.57 156.54,900.43 157.83,900.29 159.11,900.12 160.4,899.94 161.68,899.75 162.97,899.53 164.26,899.28 165.54,898.99 166.83,898.68 168.11,898.33 169.4,897.94 170.68,897.49 171.97,896.99 173.26,896.47 174.54,895.92 175.83,895.29 177.11,894.61 178.4,893.94 179.69,893.24 180.97,892.49 182.26,891.74 183.54,890.98 184.83,890.17 186.12,889.3 187.4,888.32 188.69,887.28 189.97,886.14 191.26,884.79 192.54,883.28 193.83,881.73 195.12,880.1 196.4,878.58 197.69,877.27 198.97,876.06 200.26,875.06 201.55,874.33 202.83,873.65 204.12,873.16 205.4,872.93 206.69,872.65 207.98,872.52 209.26,872.64 210.55,872.72 211.83,872.82 213.12,873.01 214.4,873.2 215.69,873.46 216.98,873.69 218.26,873.88 219.55,874.2 220.83,874.49 222.12,874.59 223.41,874.77 224.69,875.13 225.98,875.4 227.26,875.57 228.55,875.79 229.83,875.92 231.12,876.08 232.41,876.38 233.69,876.64 234.98,876.86 236.26,877.03 237.55,877.16 238.84,877.36 240.12,877.62 241.41,877.88 242.69,878.16 243.98,878.42 245.27,878.61 246.55,878.95 247.84,879.36 249.12,879.7 250.41,880.09 251.69,880.52 252.98,881 254.27,881.55 255.55,882.1 256.84,882.69 258.12,883.33 259.41,883.94 260.7,884.52 261.98,885.09 263.27,885.59 264.55,886.17 265.84,886.9 267.13,887.55 268.41,888.17 269.7,888.9 270.98,889.65 272.27,890.34 273.55,891.04 274.84,891.75 276.13,892.39 277.41,892.96 278.7,893.55 279.98,894.13 281.27,894.63 282.56,895.08 283.84,895.51 285.13,895.91 286.41,896.26 287.7,896.58 288.98,896.89 290.27,897.18 291.56,897.46 292.84,897.72 294.13,897.99 295.41,898.23 296.7,898.44 297.99,898.64 299.27,898.82 300.56,899 301.84,899.17 303.13,899.32 304.42,899.46 305.7,899.59 306.99,899.71 308.27,899.83 309.56,899.93 310.84,900.02 312.13,900.1 313.42,900.18 314.7,900.26 315.99,900.33 317.27,900.4 318.56,900.46 319.85,900.53 321.13,900.58 322.42,900.64 323.7,900.69 324.99,900.74 326.28,900.79 327.56,900.83 328.85,900.87 330.13,900.91 331.42,900.95 332.7,900.99 333.99,901.03 335.28,901.06 336.56,901.1 337.85,901.13 339.13,901.16 340.42,901.19 341.71,901.22 342.99,901.24 344.28,901.27 345.56,901.29 346.85,901.32 348.13,901.34 349.42,901.36 350.71,901.37 351.99,901.39 353.28,901.41 354.56,901.43 355.85,901.45 357.14,901.46 358.42,901.47 359.71,901.49 360.99,901.5 362.28,901.51 363.57,901.53 364.85,901.54 366.14,901.55 367.42,901.56 368.71,901.57 369.99,901.58 371.28,901.59 372.57,901.6 373.85,901.61 375.14,901.62 376.42,901.63 377.71,901.64 379,901.64 380.28,901.65 381.57,901.66 382.85,901.66 384.14,901.67 385.43,901.67 386.71,901.68 388,901.68 389.28,901.69 390.57,901.69 391.85,901.7 393.14,901.7 394.43,901.71 395.71,901.71 397,901.72 398.28,901.72 399.57,901.72 400.86,901.73 402.14,901.73 403.43,901.74 404.71,901.74 406,901.74 407.28,901.75 408.57,901.75 409.86,901.75 411.14,901.76 412.43,901.76 413.71,901.77 415,901.77" fill="none" stroke="#c9a04e" stroke-width="1.55" stroke-linejoin="round" stroke-linecap="butt" />
<polyline points="81.96,900.62 83.25,900.64 84.53,900.66 85.82,900.67 87.1,900.69 88.39,900.7 89.68,900.72 90.96,900.74 92.25,900.75 93.53,900.77 94.82,900.78 96.1,900.8 97.39,900.81 98.68,900.82 99.96,900.84 101.25,900.85 102.53,900.86 103.82,900.88 105.11,900.89 106.39,900.9 107.68,900.92 108.96,900.93 110.25,900.94 111.53,900.95 112.82,900.97 114.11,900.98 115.39,900.99 116.68,901 117.96,901.01 119.25,901.02 120.54,901.03 121.82,901.05 123.11,901.06 124.39,901.07 125.68,901.08 126.97,901.08 128.25,901.09 129.54,901.09 130.82,901.09 132.11,901.09 133.39,901.09 134.68,901.09 135.97,901.08 137.25,901.07 138.54,901.06 139.82,901.04 141.11,901.03 142.4,901 143.68,900.96 144.97,900.91 146.25,900.83 147.54,900.74 148.83,900.63 150.11,900.51 151.4,900.37 152.68,900.21 153.97,900.03 155.25,899.84 156.54,899.61 157.83,899.36 159.11,899.08 160.4,898.78 161.68,898.45 162.97,898.09 164.26,897.67 165.54,897.18 166.83,896.66 168.11,896.09 169.4,895.44 170.68,894.69 171.97,893.85 173.26,892.99 174.54,892.1 175.83,891.05 177.11,889.91 178.4,888.78 179.69,887.57 180.97,886.28 182.26,885.03 183.54,883.77 184.83,882.46 186.12,881.04 187.4,879.47 188.69,877.74 189.97,875.79 191.26,873.62 192.54,871.12 193.83,868.28 195.12,865.58 196.4,863.25 197.69,861.19 198.97,859.15 200.26,857.35 201.55,856.07 202.83,854.96 204.12,854.13 205.4,853.56 206.69,853.09 207.98,853.06 209.26,853.22 210.55,853.31 211.83,853.59 213.12,853.99 214.4,854.39 215.69,854.81 216.98,855.11 218.26,855.44 219.55,855.94 220.83,856.3 222.12,856.55 223.41,856.92 224.69,857.42 225.98,857.92 227.26,858.23 228.55,858.45 229.83,858.76 231.12,859.18 232.41,859.61 233.69,859.92 234.98,860.27 236.26,860.66 237.55,860.91 238.84,861.2 240.12,861.48 241.41,861.92 242.69,862.55 243.98,862.95 245.27,863.31 246.55,863.88 247.84,864.41 249.12,864.93 250.41,865.72 251.69,866.53 252.98,867.25 254.27,868.08 255.55,869.04 256.84,870.08 258.12,871.03 259.41,871.91 260.7,872.93 261.98,874.03 263.27,874.95 264.55,875.86 265.84,877.03 267.13,878.15 268.41,879.17 269.7,880.29 270.98,881.55 272.27,882.81 273.55,883.91 274.84,884.98 276.13,886.03 277.41,887.05 278.7,888.09 279.98,888.99 281.27,889.77 282.56,890.52 283.84,891.28 285.13,891.97 286.41,892.52 287.7,893.05 288.98,893.59 290.27,894.08 291.56,894.53 292.84,894.97 294.13,895.4 295.41,895.81 296.7,896.18 297.99,896.5 299.27,896.78 300.56,897.08 301.84,897.36 303.13,897.6 304.42,897.83 305.7,898.05 306.99,898.26 308.27,898.43 309.56,898.59 310.84,898.76 312.13,898.91 313.42,899.03 314.7,899.15 315.99,899.28 317.27,899.39 318.56,899.5 319.85,899.6 321.13,899.7 322.42,899.79 323.7,899.88 324.99,899.96 326.28,900.04 327.56,900.11 328.85,900.18 330.13,900.25 331.42,900.31 332.7,900.37 333.99,900.43 335.28,900.49 336.56,900.55 337.85,900.6 339.13,900.65 340.42,900.7 341.71,900.75 342.99,900.79 344.28,900.83 345.56,900.87 346.85,900.91 348.13,900.94 349.42,900.97 350.71,901 351.99,901.03 353.28,901.06 354.56,901.09 355.85,901.11 357.14,901.14 358.42,901.17 359.71,901.19 360.99,901.21 362.28,901.23 363.57,901.25 364.85,901.27 366.14,901.29 367.42,901.31 368.71,901.33 369.99,901.35 371.28,901.36 372.57,901.38 373.85,901.39 375.14,901.41 376.42,901.42 377.71,901.43 379,901.44 380.28,901.45 381.57,901.46 382.85,901.47 384.14,901.48 385.43,901.49 386.71,901.5 388,901.51 389.28,901.52 390.57,901.52 391.85,901.53 393.14,901.54 394.43,901.54 395.71,901.55 397,901.56 398.28,901.57 399.57,901.57 400.86,901.58 402.14,901.58 403.43,901.59 404.71,901.6 406,901.6 407.28,901.61 408.57,901.62 409.86,901.62 411.14,901.63 412.43,901.63 413.71,901.64 415,901.64" fill="none" stroke="#ee1c25" stroke-width="1.55" stroke-linejoin="round" stroke-linecap="butt" />
<polyline points="81.96,900.37 83.25,900.39 84.53,900.41 85.82,900.43 87.1,900.44 88.39,900.46 89.68,900.48 90.96,900.5 92.25,900.52 93.53,900.53 94.82,900.55 96.1,900.57 97.39,900.58 98.68,900.6 99.96,900.62 101.25,900.63 102.53,900.65 103.82,900.66 105.11,900.68 106.39,900.69 107.68,900.71 108.96,900.72 110.25,900.74 111.53,900.75 112.82,900.76 114.11,900.78 115.39,900.79 116.68,900.8 117.96,900.82 119.25,900.83 120.54,900.84 121.82,900.86 123.11,900.87 124.39,900.88 125.68,900.89 126.97,900.9 128.25,900.91 129.54,900.91 130.82,900.91 132.11,900.91 133.39,900.91 134.68,900.9 135.97,900.89 137.25,900.88 138.54,900.86 139.82,900.85 141.11,900.83 142.4,900.79 143.68,900.75 144.97,900.68 146.25,900.6 147.54,900.49 148.83,900.36 150.11,900.22 151.4,900.06 152.68,899.87 153.97,899.66 155.25,899.43 156.54,899.17 157.83,898.88 159.11,898.56 160.4,898.2 161.68,897.8 162.97,897.37 164.26,896.88 165.54,896.3 166.83,895.68 168.11,895.04 169.4,894.29 170.68,893.39 171.97,892.4 173.26,891.39 174.54,890.33 175.83,889.13 177.11,887.78 178.4,886.39 179.69,884.92 180.97,883.38 182.26,881.89 183.54,880.37 184.83,878.74 186.12,877.02 187.4,875.09 188.69,872.91 189.97,870.51 191.26,867.95 192.54,865.18 193.83,861.99 195.12,858.68 196.4,855.84 197.69,853.46 198.97,851.14 200.26,849.16 201.55,847.71 202.83,846.29 204.12,845.16 205.4,844.5 206.69,843.98 207.98,843.77 209.26,843.82 210.55,844.13 211.83,844.53 213.12,844.81 214.4,845.23 215.69,845.8 216.98,846.15 218.26,846.47 219.55,847.05 220.83,847.44 222.12,847.58 223.41,848.04 224.69,848.8 225.98,849.4 227.26,849.79 228.55,850.15 229.83,850.5 231.12,851.04 232.41,851.65 233.69,852.03 234.98,852.46 236.26,852.84 237.55,853.1 238.84,853.32 240.12,853.69 241.41,854.38 242.69,855.02 243.98,855.58 245.27,856.19 246.55,856.72 247.84,857.2 249.12,857.95 250.41,858.85 251.69,859.6 252.98,860.34 254.27,861.31 255.55,862.46 256.84,863.58 258.12,864.61 259.41,865.66 260.7,866.84 261.98,868.1 263.27,869.19 264.55,870.32 265.84,871.73 267.13,873.08 268.41,874.29 269.7,875.61 270.98,877.04 272.27,878.47 273.55,879.82 274.84,881.14 276.13,882.36 277.41,883.45 278.7,884.63 279.98,885.77 281.27,886.73 282.56,887.67 283.84,888.57 285.13,889.35 286.41,890.02 287.7,890.69 288.98,891.38 290.27,891.98 291.56,892.51 292.84,893.05 294.13,893.57 295.41,894.09 296.7,894.56 297.99,894.97 299.27,895.34 300.56,895.69 301.84,896.03 303.13,896.33 304.42,896.61 305.7,896.89 306.99,897.15 308.27,897.37 309.56,897.56 310.84,897.77 312.13,897.96 313.42,898.12 314.7,898.28 315.99,898.44 317.27,898.58 318.56,898.72 319.85,898.85 321.13,898.98 322.42,899.1 323.7,899.21 324.99,899.32 326.28,899.43 327.56,899.52 328.85,899.61 330.13,899.7 331.42,899.79 332.7,899.87 333.99,899.95 335.28,900.02 336.56,900.1 337.85,900.17 339.13,900.23 340.42,900.29 341.71,900.35 342.99,900.42 344.28,900.47 345.56,900.52 346.85,900.57 348.13,900.61 349.42,900.65 350.71,900.69 351.99,900.73 353.28,900.77 354.56,900.8 355.85,900.83 357.14,900.87 358.42,900.9 359.71,900.93 360.99,900.96 362.28,900.99 363.57,901.01 364.85,901.04 366.14,901.06 367.42,901.09 368.71,901.12 369.99,901.14 371.28,901.16 372.57,901.18 373.85,901.2 375.14,901.22 376.42,901.24 377.71,901.25 379,901.27 380.28,901.28 381.57,901.3 382.85,901.31 384.14,901.32 385.43,901.34 386.71,901.35 388,901.36 389.28,901.37 390.57,901.38 391.85,901.39 393.14,901.4 394.43,901.41 395.71,901.42 397,901.42 398.28,901.43 399.57,901.44 400.86,901.45 402.14,901.46 403.43,901.47 404.71,901.47 406,901.48 407.28,901.49 408.57,901.5 409.86,901.51 411.14,901.51 412.43,901.52 413.71,901.53 415,901.54" fill="none" stroke="#1a9a3a" stroke-width="1.55" stroke-linejoin="round" stroke-linecap="butt" />
<polyline points="81.96,900.12 83.25,900.14 84.53,900.16 85.82,900.18 87.1,900.2 88.39,900.22 89.68,900.24 90.96,900.26 92.25,900.28 93.53,900.3 94.82,900.32 96.1,900.34 97.39,900.36 98.68,900.38 99.96,900.4 101.25,900.41 102.53,900.43 103.82,900.45 105.11,900.46 106.39,900.48 107.68,900.5 108.96,900.51 110.25,900.53 111.53,900.55 112.82,900.56 114.11,900.58 115.39,900.59 116.68,900.61 117.96,900.62 119.25,900.64 120.54,900.65 121.82,900.67 123.11,900.68 124.39,900.69 125.68,900.7 126.97,900.71 128.25,900.72 129.54,900.73 130.82,900.73 132.11,900.73 133.39,900.72 134.68,900.72 135.97,900.71 137.25,900.69 138.54,900.68 139.82,900.66 141.11,900.63 142.4,900.6 143.68,900.55 144.97,900.48 146.25,900.38 147.54,900.26 148.83,900.12 150.11,899.96 151.4,899.78 152.68,899.58 153.97,899.34 155.25,899.08 156.54,898.8 157.83,898.47 159.11,898.11 160.4,897.72 161.68,897.3 162.97,896.82 164.26,896.25 165.54,895.62 166.83,894.95 168.11,894.25 169.4,893.42 170.68,892.41 171.97,891.31 173.26,890.19 174.54,888.99 175.83,887.62 177.11,886.1 178.4,884.54 179.69,882.86 180.97,881.11 182.26,879.41 183.54,877.68 184.83,875.83 186.12,873.78 187.4,871.57 188.69,869.31 189.97,866.7 191.26,863.64 192.54,860.33 193.83,856.83 195.12,853.37 196.4,850.09 197.69,847.09 198.97,844.49 200.26,842.46 201.55,840.91 202.83,839.36 204.12,838.04 205.4,837.24 206.69,836.76 207.98,836.6 209.26,836.6 210.55,836.69 211.83,836.91 213.12,837.19 214.4,837.55 215.69,838.24 216.98,838.89 218.26,839.2 219.55,839.72 220.83,840.41 222.12,840.73 223.41,841.07 224.69,841.82 225.98,842.64 227.26,843.31 228.55,843.77 229.83,844.04 231.12,844.29 232.41,844.78 233.69,845.43 234.98,846.01 236.26,846.55 237.55,847.05 238.84,847.39 240.12,847.78 241.41,848.33 242.69,848.86 243.98,849.38 245.27,850.01 246.55,850.69 247.84,851.43 249.12,852.19 250.41,852.99 251.69,853.9 252.98,854.75 254.27,855.73 255.55,857.09 256.84,858.47 258.12,859.72 259.41,860.92 260.7,862.18 261.98,863.54 263.27,864.77 264.55,866.13 265.84,867.64 267.13,868.98 268.41,870.31 269.7,871.72 270.98,873.24 272.27,874.82 273.55,876.33 274.84,877.75 276.13,879.11 277.41,880.46 278.7,881.77 279.98,883 281.27,884.17 282.56,885.27 283.84,886.28 285.13,887.19 286.41,887.98 287.7,888.71 288.98,889.46 290.27,890.17 291.56,890.79 292.84,891.4 294.13,892.03 295.41,892.6 296.7,893.12 297.99,893.62 299.27,894.06 300.56,894.49 301.84,894.89 303.13,895.23 304.42,895.57 305.7,895.87 306.99,896.16 308.27,896.44 309.56,896.69 310.84,896.92 312.13,897.13 313.42,897.33 314.7,897.53 315.99,897.7 317.27,897.87 318.56,898.04 319.85,898.2 321.13,898.34 322.42,898.49 323.7,898.63 324.99,898.76 326.28,898.88 327.56,898.99 328.85,899.09 330.13,899.21 331.42,899.32 332.7,899.42 333.99,899.52 335.28,899.61 336.56,899.7 337.85,899.77 339.13,899.85 340.42,899.92 341.71,900 342.99,900.07 344.28,900.14 345.56,900.2 346.85,900.26 348.13,900.31 349.42,900.36 350.71,900.4 351.99,900.45 353.28,900.5 354.56,900.54 355.85,900.58 357.14,900.62 358.42,900.66 359.71,900.7 360.99,900.73 362.28,900.76 363.57,900.8 364.85,900.83 366.14,900.86 367.42,900.89 368.71,900.92 369.99,900.95 371.28,900.97 372.57,901 373.85,901.02 375.14,901.05 376.42,901.07 377.71,901.09 379,901.11 380.28,901.13 381.57,901.14 382.85,901.16 384.14,901.18 385.43,901.19 386.71,901.2 388,901.22 389.28,901.23 390.57,901.24 391.85,901.25 393.14,901.26 394.43,901.27 395.71,901.29 397,901.3 398.28,901.31 399.57,901.32 400.86,901.33 402.14,901.34 403.43,901.35 404.71,901.36 406,901.37 407.28,901.38 408.57,901.39 409.86,901.4 411.14,901.41 412.43,901.42 413.71,901.43 415,901.43" fill="none" stroke="#c8d428" stroke-width="1.55" stroke-linejoin="round" stroke-linecap="butt" />
<polyline points="81.96,899.86 83.25,899.89 84.53,899.91 85.82,899.93 87.1,899.96 88.39,899.98 89.68,900 90.96,900.03 92.25,900.05 93.53,900.07 94.82,900.09 96.1,900.11 97.39,900.13 98.68,900.15 99.96,900.17 101.25,900.19 102.53,900.21 103.82,900.23 105.11,900.25 106.39,900.27 107.68,900.29 108.96,900.31 110.25,900.33 111.53,900.34 112.82,900.36 114.11,900.38 115.39,900.39 116.68,900.41 117.96,900.43 119.25,900.44 120.54,900.46 121.82,900.48 123.11,900.49 124.39,900.51 125.68,900.52 126.97,900.53 128.25,900.54 129.54,900.54 130.82,900.55 132.11,900.54 133.39,900.54 134.68,900.53 135.97,900.52 137.25,900.51 138.54,900.49 139.82,900.47 141.11,900.44 142.4,900.4 143.68,900.35 144.97,900.27 146.25,900.17 147.54,900.04 148.83,899.89 150.11,899.71 151.4,899.51 152.68,899.29 153.97,899.04 155.25,898.76 156.54,898.45 157.83,898.09 159.11,897.71 160.4,897.29 161.68,896.82 162.97,896.28 164.26,895.67 165.54,894.98 166.83,894.26 168.11,893.47 169.4,892.55 170.68,891.49 171.97,890.35 173.26,889.15 174.54,887.85 175.83,886.32 177.11,884.6 178.4,882.85 179.69,881.04 180.97,879.09 182.26,877.1 183.54,875.11 184.83,873.07 186.12,870.77 187.4,868.24 188.69,865.65 189.97,862.82 191.26,859.64 192.54,856.21 193.83,852.46 195.12,848.57 196.4,844.92 197.69,841.83 198.97,839.15 200.26,836.83 201.55,834.82 202.83,832.86 204.12,831.62 205.4,831.09 206.69,830.51 207.98,830.01 209.26,829.72 210.55,829.75 211.83,830.26 213.12,830.82 214.4,831.41 215.69,832.07 216.98,832.47 218.26,832.84 219.55,833.53 220.83,834.33 222.12,834.73 223.41,835.11 224.69,835.88 225.98,836.54 227.26,837.09 228.55,837.68 229.83,838.01 231.12,838.55 232.41,839.24 233.69,839.62 234.98,840.21 236.26,840.93 237.55,841.44 238.84,841.83 240.12,842.2 241.41,842.77 242.69,843.53 243.98,844.24 245.27,844.88 246.55,845.47 247.84,846.17 249.12,847.1 250.41,847.95 251.69,848.7 252.98,849.59 254.27,850.81 255.55,852.35 256.84,853.91 258.12,855.28 259.41,856.52 260.7,857.8 261.98,859.16 263.27,860.45 264.55,862.01 265.84,863.74 267.13,865.15 268.41,866.56 269.7,868.22 270.98,869.99 272.27,871.69 273.55,873.21 274.84,874.73 276.13,876.28 277.41,877.71 278.7,879.12 279.98,880.48 281.27,881.73 282.56,882.87 283.84,884.01 285.13,885.09 286.41,885.99 287.7,886.83 288.98,887.67 290.27,888.43 291.56,889.14 292.84,889.82 294.13,890.51 295.41,891.16 296.7,891.75 297.99,892.29 299.27,892.8 300.56,893.29 301.84,893.74 303.13,894.14 304.42,894.49 305.7,894.84 306.99,895.18 308.27,895.5 309.56,895.8 310.84,896.07 312.13,896.32 313.42,896.55 314.7,896.77 315.99,896.97 317.27,897.16 318.56,897.37 319.85,897.56 321.13,897.72 322.42,897.88 323.7,898.04 324.99,898.19 326.28,898.33 327.56,898.47 328.85,898.61 330.13,898.74 331.42,898.87 332.7,898.97 333.99,899.08 335.28,899.19 336.56,899.3 337.85,899.39 339.13,899.47 340.42,899.55 341.71,899.64 342.99,899.73 344.28,899.82 345.56,899.89 346.85,899.95 348.13,900.01 349.42,900.07 350.71,900.12 351.99,900.17 353.28,900.23 354.56,900.28 355.85,900.33 357.14,900.37 358.42,900.42 359.71,900.46 360.99,900.5 362.28,900.55 363.57,900.59 364.85,900.62 366.14,900.66 367.42,900.7 368.71,900.73 369.99,900.76 371.28,900.79 372.57,900.82 373.85,900.85 375.14,900.88 376.42,900.9 377.71,900.93 379,900.95 380.28,900.97 381.57,900.99 382.85,901.01 384.14,901.03 385.43,901.04 386.71,901.06 388,901.08 389.28,901.09 390.57,901.11 391.85,901.12 393.14,901.13 394.43,901.15 395.71,901.16 397,901.17 398.28,901.18 399.57,901.2 400.86,901.21 402.14,901.22 403.43,901.23 404.71,901.24 406,901.25 407.28,901.26 408.57,901.28 409.86,901.29 411.14,901.3 412.43,901.31 413.71,901.32 415,901.33" fill="none" stroke="#86b4ea" stroke-width="1.55" stroke-linejoin="round" stroke-linecap="butt" />
<polyline points="81.96,896.64 83.25,896.71 84.53,896.78 85.82,896.85 87.1,896.92 88.39,896.98 89.68,897.05 90.96,897.11 92.25,897.18 93.53,897.24 94.82,897.3 96.1,897.36 97.39,897.42 98.68,897.48 99.96,897.54 101.25,897.6 102.53,897.66 103.82,897.71 105.11,897.77 106.39,897.82 107.68,897.87 108.96,897.93 110.25,897.98 111.53,898.03 112.82,898.08 114.11,898.13 115.39,898.18 116.68,898.23 117.96,898.27 119.25,898.32 120.54,898.37 121.82,898.41 123.11,898.46 124.39,898.5 125.68,898.54 126.97,898.58 128.25,898.61 129.54,898.65 130.82,898.67 132.11,898.7 133.39,898.72 134.68,898.73 135.97,898.75 137.25,898.75 138.54,898.76 139.82,898.76 141.11,898.75 142.4,898.74 143.68,898.7 144.97,898.64 146.25,898.55 147.54,898.43 148.83,898.29 150.11,898.12 151.4,897.93 152.68,897.71 153.97,897.46 155.25,897.18 156.54,896.87 157.83,896.51 159.11,896.1 160.4,895.66 161.68,895.18 162.97,894.64 164.26,894.02 165.54,893.32 166.83,892.54 168.11,891.7 169.4,890.76 170.68,889.66 171.97,888.44 173.26,887.14 174.54,885.77 175.83,884.18 177.11,882.35 178.4,880.47 179.69,878.42 180.97,876.16 182.26,873.94 183.54,871.78 184.83,869.5 186.12,867.01 187.4,864.26 188.69,861.35 189.97,858.28 191.26,854.9 192.54,851.15 193.83,846.88 195.12,842.7 196.4,839.22 197.69,836.1 198.97,832.81 200.26,829.96 201.55,827.96 202.83,826.33 204.12,825.14 205.4,824.02 206.69,822.97 207.98,822.63 209.26,822.45 210.55,822.32 211.83,822.63 213.12,823.15 214.4,823.91 215.69,824.78 216.98,825.29 218.26,825.69 219.55,826.35 220.83,827 222.12,827.46 223.41,828.04 224.69,828.93 225.98,829.66 227.26,830.08 228.55,830.73 229.83,831.42 231.12,832.08 232.41,832.69 233.69,833.18 234.98,834 236.26,834.78 237.55,835.1 238.84,835.47 240.12,835.99 241.41,836.62 242.69,837.35 243.98,837.94 245.27,838.65 246.55,839.53 247.84,840.27 249.12,841.05 250.41,842.02 251.69,843.06 252.98,844.19 254.27,845.52 255.55,846.94 256.84,848.28 258.12,849.7 259.41,851.23 260.7,852.72 261.98,854.31 263.27,855.92 264.55,857.48 265.84,859.14 267.13,860.79 268.41,862.47 269.7,864.14 270.98,865.78 272.27,867.56 273.55,869.34 274.84,871.01 276.13,872.67 277.41,874.27 278.7,875.78 279.98,877.33 281.27,878.79 282.56,880.07 283.84,881.31 285.13,882.44 286.41,883.39 287.7,884.33 288.98,885.34 290.27,886.21 291.56,887 292.84,887.8 294.13,888.59 295.41,889.33 296.7,889.99 297.99,890.59 299.27,891.12 300.56,891.66 301.84,892.18 303.13,892.64 304.42,893.08 305.7,893.5 306.99,893.89 308.27,894.25 309.56,894.58 310.84,894.89 312.13,895.17 313.42,895.45 314.7,895.71 315.99,895.96 317.27,896.19 318.56,896.42 319.85,896.62 321.13,896.82 322.42,897.02 323.7,897.21 324.99,897.37 326.28,897.54 327.56,897.7 328.85,897.85 330.13,898 331.42,898.15 332.7,898.29 333.99,898.42 335.28,898.56 336.56,898.69 337.85,898.8 339.13,898.9 340.42,899 341.71,899.1 342.99,899.21 344.28,899.3 345.56,899.38 346.85,899.46 348.13,899.53 349.42,899.6 350.71,899.67 351.99,899.74 353.28,899.81 354.56,899.87 355.85,899.92 357.14,899.98 358.42,900.03 359.71,900.09 360.99,900.14 362.28,900.19 363.57,900.23 364.85,900.28 366.14,900.32 367.42,900.36 368.71,900.4 369.99,900.44 371.28,900.48 372.57,900.52 373.85,900.55 375.14,900.58 376.42,900.62 377.71,900.65 379,900.68 380.28,900.71 381.57,900.73 382.85,900.75 384.14,900.78 385.43,900.8 386.71,900.82 388,900.84 389.28,900.86 390.57,900.88 391.85,900.89 393.14,900.91 394.43,900.93 395.71,900.94 397,900.96 398.28,900.98 399.57,900.99 400.86,901.01 402.14,901.02 403.43,901.04 404.71,901.05 406,901.06 407.28,901.08 408.57,901.09 409.86,901.11 411.14,901.12 412.43,901.14 413.71,901.15 415,901.16" fill="none" stroke="#2a35c0" stroke-width="1.55" stroke-linejoin="round" stroke-linecap="butt" />
<polyline points="81.96,899.35 83.25,899.38 84.53,899.41 85.82,899.44 87.1,899.47 88.39,899.5 89.68,899.52 90.96,899.55 92.25,899.58 93.53,899.61 94.82,899.63 96.1,899.66 97.39,899.68 98.68,899.71 99.96,899.73 101.25,899.76 102.53,899.78 103.82,899.8 105.11,899.83 106.39,899.85 107.68,899.87 108.96,899.89 110.25,899.91 111.53,899.94 112.82,899.96 114.11,899.98 115.39,900 116.68,900.02 117.96,900.04 119.25,900.06 120.54,900.08 121.82,900.1 123.11,900.11 124.39,900.13 125.68,900.15 126.97,900.16 128.25,900.17 129.54,900.18 130.82,900.18 132.11,900.18 133.39,900.17 134.68,900.16 135.97,900.15 137.25,900.13 138.54,900.11 139.82,900.08 141.11,900.05 142.4,900 143.68,899.94 144.97,899.84 146.25,899.71 147.54,899.56 148.83,899.37 150.11,899.16 151.4,898.92 152.68,898.65 153.97,898.35 155.25,898 156.54,897.62 157.83,897.2 159.11,896.72 160.4,896.2 161.68,895.64 162.97,895.01 164.26,894.31 165.54,893.5 166.83,892.59 168.11,891.65 169.4,890.58 170.68,889.3 171.97,887.9 173.26,886.49 174.54,884.97 175.83,883.12 177.11,880.94 178.4,878.63 179.69,876.2 180.97,873.66 182.26,871.08 183.54,868.43 184.83,865.68 186.12,862.78 187.4,859.71 188.69,856.48 189.97,852.8 191.26,848.8 192.54,844.51 193.83,839.88 195.12,835.42 196.4,831.31 197.69,827.54 198.97,824.04 200.26,821.2 201.55,819.12 202.83,816.8 204.12,814.66 205.4,813.55 206.69,812.82 207.98,812.31 209.26,812.08 210.55,811.95 211.83,812 213.12,812.39 214.4,813.07 215.69,813.99 216.98,814.83 218.26,815.42 219.55,816.29 220.83,817.12 222.12,817.49 223.41,817.97 224.69,819.16 225.98,820.47 227.26,821.08 228.55,821.55 229.83,822.07 231.12,822.58 232.41,823.32 233.69,824.13 234.98,824.99 236.26,825.58 237.55,826.07 238.84,826.76 240.12,827.44 241.41,828.21 242.69,828.9 243.98,829.42 245.27,830.1 246.55,831.02 247.84,831.96 249.12,832.91 250.41,833.92 251.69,834.88 252.98,835.86 254.27,837.06 255.55,838.81 256.84,840.77 258.12,842.5 259.41,844.05 260.7,845.51 261.98,847.12 263.27,848.97 264.55,851.04 265.84,853.12 267.13,854.81 268.41,856.36 269.7,858.16 270.98,860.06 272.27,862 273.55,864.01 274.84,865.92 276.13,867.63 277.41,869.41 278.7,871.36 279.98,873.21 281.27,874.83 282.56,876.29 283.84,877.65 285.13,878.94 286.41,880.09 287.7,881.22 288.98,882.38 290.27,883.36 291.56,884.27 292.84,885.21 294.13,886.12 295.41,886.97 296.7,887.75 297.99,888.45 299.27,889.09 300.56,889.74 301.84,890.39 303.13,890.94 304.42,891.46 305.7,891.95 306.99,892.41 308.27,892.81 309.56,893.17 310.84,893.53 312.13,893.89 313.42,894.23 314.7,894.55 315.99,894.83 317.27,895.1 318.56,895.38 319.85,895.64 321.13,895.89 322.42,896.13 323.7,896.34 324.99,896.55 326.28,896.76 327.56,896.96 328.85,897.15 330.13,897.35 331.42,897.54 332.7,897.7 333.99,897.85 335.28,898.02 336.56,898.17 337.85,898.3 339.13,898.43 340.42,898.54 341.71,898.66 342.99,898.78 344.28,898.9 345.56,899 346.85,899.09 348.13,899.18 349.42,899.27 350.71,899.35 351.99,899.43 353.28,899.51 354.56,899.59 355.85,899.65 357.14,899.72 358.42,899.78 359.71,899.84 360.99,899.9 362.28,899.96 363.57,900.02 364.85,900.07 366.14,900.12 367.42,900.17 368.71,900.22 369.99,900.27 371.28,900.32 372.57,900.36 373.85,900.4 375.14,900.44 376.42,900.48 377.71,900.52 379,900.55 380.28,900.58 381.57,900.61 382.85,900.64 384.14,900.67 385.43,900.69 386.71,900.72 388,900.74 389.28,900.76 390.57,900.78 391.85,900.8 393.14,900.82 394.43,900.84 395.71,900.86 397,900.88 398.28,900.9 399.57,900.92 400.86,900.93 402.14,900.95 403.43,900.96 404.71,900.98 406,901 407.28,901.01 408.57,901.03 409.86,901.05 411.14,901.06 412.43,901.08 413.71,901.09 415,901.1" fill="none" stroke="#9a8240" stroke-width="1.55" stroke-linejoin="round" stroke-linecap="butt" />
<polyline points="81.96,899.1 83.25,899.13 84.53,899.16 85.82,899.19 87.1,899.23 88.39,899.26 89.68,899.29 90.96,899.32 92.25,899.34 93.53,899.37 94.82,899.4 96.1,899.43 97.39,899.46 98.68,899.48 99.96,899.51 101.25,899.54 102.53,899.56 103.82,899.59 105.11,899.61 106.39,899.64 107.68,899.66 108.96,899.69 110.25,899.71 111.53,899.73 112.82,899.75 114.11,899.78 115.39,899.8 116.68,899.82 117.96,899.84 119.25,899.86 120.54,899.89 121.82,899.91 123.11,899.93 124.39,899.95 125.68,899.96 126.97,899.98 128.25,899.99 129.54,899.99 130.82,899.99 132.11,899.99 133.39,899.98 134.68,899.97 135.97,899.95 137.25,899.93 138.54,899.9 139.82,899.87 141.11,899.84 142.4,899.78 143.68,899.71 144.97,899.6 146.25,899.46 147.54,899.28 148.83,899.08 150.11,898.84 151.4,898.58 152.68,898.28 153.97,897.93 155.25,897.55 156.54,897.13 157.83,896.65 159.11,896.13 160.4,895.56 161.68,894.91 162.97,894.18 164.26,893.39 165.54,892.51 166.83,891.55 168.11,890.49 169.4,889.27 170.68,887.9 171.97,886.4 173.26,884.78 174.54,883.03 175.83,880.96 177.11,878.57 178.4,875.98 179.69,873.1 180.97,869.99 182.26,866.94 183.54,863.83 184.83,860.56 186.12,857.19 187.4,853.5 188.69,849.49 189.97,845.31 191.26,841.01 192.54,836.33 193.83,831.18 195.12,826.28 196.4,821.77 197.69,817.43 198.97,813.44 200.26,810.28 201.55,807.75 202.83,805.29 204.12,803.33 205.4,801.67 206.69,800.27 207.98,799.67 209.26,799.39 210.55,799.18 211.83,799.34 213.12,799.63 214.4,800.21 215.69,801.32 216.98,802.22 218.26,802.79 219.55,803.68 220.83,804.65 222.12,805.23 223.41,806 224.69,807.12 225.98,808.09 227.26,808.86 228.55,809.59 229.83,810.28 231.12,811.14 232.41,812.14 233.69,812.94 234.98,813.96 236.26,814.88 237.55,815.33 238.84,815.88 240.12,816.56 241.41,817.35 242.69,818.43 243.98,819.48 245.27,820.29 246.55,821.06 247.84,821.86 249.12,822.73 250.41,823.65 251.69,824.73 252.98,826.06 254.27,827.63 255.55,829.46 256.84,831.24 258.12,832.88 259.41,834.79 260.7,836.85 261.98,838.68 263.27,840.37 264.55,842.55 265.84,845.04 267.13,846.99 268.41,848.7 269.7,850.74 270.98,852.99 272.27,855.11 273.55,857.13 274.84,859.25 276.13,861.23 277.41,863.17 278.7,865.32 279.98,867.42 281.27,869.24 282.56,870.94 283.84,872.63 285.13,874.2 286.41,875.64 287.7,876.96 288.98,878.22 290.27,879.37 291.56,880.47 292.84,881.58 294.13,882.66 295.41,883.71 296.7,884.68 297.99,885.51 299.27,886.23 300.56,887 301.84,887.77 303.13,888.43 304.42,889.04 305.7,889.63 306.99,890.18 308.27,890.67 309.56,891.15 310.84,891.62 312.13,892.05 313.42,892.43 314.7,892.81 315.99,893.18 317.27,893.52 318.56,893.85 319.85,894.16 321.13,894.47 322.42,894.78 323.7,895.04 324.99,895.31 326.28,895.56 327.56,895.79 328.85,896.04 330.13,896.28 331.42,896.51 332.7,896.72 333.99,896.91 335.28,897.1 336.56,897.29 337.85,897.47 339.13,897.63 340.42,897.78 341.71,897.93 342.99,898.08 344.28,898.22 345.56,898.35 346.85,898.46 348.13,898.57 349.42,898.68 350.71,898.77 351.99,898.87 353.28,898.98 354.56,899.07 355.85,899.16 357.14,899.24 358.42,899.31 359.71,899.39 360.99,899.47 362.28,899.54 363.57,899.61 364.85,899.67 366.14,899.74 367.42,899.8 368.71,899.87 369.99,899.93 371.28,899.98 372.57,900.04 373.85,900.09 375.14,900.14 376.42,900.19 377.71,900.24 379,900.28 380.28,900.32 381.57,900.36 382.85,900.4 384.14,900.43 385.43,900.47 386.71,900.5 388,900.53 389.28,900.55 390.57,900.58 391.85,900.6 393.14,900.63 394.43,900.65 395.71,900.68 397,900.7 398.28,900.72 399.57,900.75 400.86,900.77 402.14,900.79 403.43,900.81 404.71,900.83 406,900.84 407.28,900.86 408.57,900.88 409.86,900.9 411.14,900.92 412.43,900.94 413.71,900.96 415,900.98" fill="none" stroke="#22a4b4" stroke-width="1.55" stroke-linejoin="round" stroke-linecap="butt" />
<polyline points="81.96,898.85 83.25,898.88 84.53,898.91 85.82,898.95 87.1,898.98 88.39,899.01 89.68,899.05 90.96,899.08 92.25,899.11 93.53,899.14 94.82,899.17 96.1,899.2 97.39,899.23 98.68,899.26 99.96,899.29 101.25,899.32 102.53,899.34 103.82,899.37 105.11,899.4 106.39,899.43 107.68,899.45 108.96,899.48 110.25,899.5 111.53,899.53 112.82,899.55 114.11,899.58 115.39,899.6 116.68,899.62 117.96,899.65 119.25,899.67 120.54,899.69 121.82,899.72 123.11,899.74 124.39,899.76 125.68,899.78 126.97,899.79 128.25,899.8 129.54,899.81 130.82,899.81 132.11,899.8 133.39,899.79 134.68,899.77 135.97,899.75 137.25,899.73 138.54,899.69 139.82,899.66 141.11,899.61 142.4,899.55 143.68,899.46 144.97,899.34 146.25,899.18 147.54,898.99 148.83,898.76 150.11,898.49 151.4,898.19 152.68,897.86 153.97,897.48 155.25,897.05 156.54,896.57 157.83,896.03 159.11,895.43 160.4,894.79 161.68,894.09 162.97,893.3 164.26,892.4 165.54,891.39 166.83,890.27 168.11,889.1 169.4,887.82 170.68,886.33 171.97,884.65 173.26,882.83 174.54,880.86 175.83,878.51 177.11,875.68 178.4,872.58 179.69,869.16 180.97,865.43 182.26,861.62 183.54,857.84 184.83,854.08 186.12,850.03 187.4,845.61 188.69,841.13 189.97,836.46 191.26,831.43 192.54,826.05 193.83,820.13 195.12,814.37 196.4,809.53 197.69,805.12 198.97,800.86 200.26,797.12 201.55,793.72 202.83,790.54 204.12,788.27 205.4,786.73 206.69,785.2 207.98,784.04 209.26,783.47 210.55,783.14 211.83,783.38 213.12,784.12 214.4,784.64 215.69,785.34 216.98,786.37 218.26,787.38 219.55,788.31 220.83,789.19 222.12,790.15 223.41,791.25 224.69,792.62 225.98,793.69 227.26,794.31 228.55,795.37 229.83,796.42 231.12,797.15 232.41,798.26 233.69,799.23 234.98,800.12 236.26,801.23 237.55,802.04 238.84,802.7 240.12,803.56 241.41,804.52 242.69,805.26 243.98,805.9 245.27,806.93 246.55,807.91 247.84,808.66 249.12,809.87 250.41,811.17 251.69,812.28 252.98,813.56 254.27,815.13 255.55,816.93 256.84,818.9 258.12,821.15 259.41,823.31 260.7,825.37 261.98,827.66 263.27,829.77 264.55,831.94 265.84,834.5 267.13,836.72 268.41,838.69 269.7,840.98 270.98,843.38 272.27,845.62 273.55,847.84 274.84,850.21 276.13,852.55 277.41,854.75 278.7,857.23 279.98,859.79 281.27,861.96 282.56,863.86 283.84,865.82 285.13,867.78 286.41,869.34 287.7,870.83 288.98,872.44 290.27,873.92 291.56,875.29 292.84,876.58 294.13,877.86 295.41,879.11 296.7,880.24 297.99,881.29 299.27,882.27 300.56,883.22 301.84,884.15 303.13,885 304.42,885.76 305.7,886.46 306.99,887.13 308.27,887.76 309.56,888.35 310.84,888.91 312.13,889.41 313.42,889.91 314.7,890.43 315.99,890.87 317.27,891.26 318.56,891.68 319.85,892.07 321.13,892.45 322.42,892.86 323.7,893.21 324.99,893.56 326.28,893.88 327.56,894.18 328.85,894.5 330.13,894.81 331.42,895.12 332.7,895.38 333.99,895.62 335.28,895.86 336.56,896.11 337.85,896.34 339.13,896.54 340.42,896.73 341.71,896.93 342.99,897.12 344.28,897.29 345.56,897.44 346.85,897.58 348.13,897.73 349.42,897.87 350.71,898 351.99,898.13 353.28,898.27 354.56,898.38 355.85,898.48 357.14,898.59 358.42,898.69 359.71,898.79 360.99,898.89 362.28,898.98 363.57,899.08 364.85,899.16 366.14,899.24 367.42,899.32 368.71,899.41 369.99,899.48 371.28,899.55 372.57,899.62 373.85,899.69 375.14,899.76 376.42,899.83 377.71,899.89 379,899.94 380.28,900 381.57,900.05 382.85,900.09 384.14,900.14 385.43,900.18 386.71,900.22 388,900.26 389.28,900.29 390.57,900.33 391.85,900.36 393.14,900.39 394.43,900.42 395.71,900.45 397,900.48 398.28,900.51 399.57,900.54 400.86,900.56 402.14,900.59 403.43,900.61 404.71,900.64 406,900.67 407.28,900.69 408.57,900.72 409.86,900.74 411.14,900.77 412.43,900.79 413.71,900.82 415,900.84" fill="none" stroke="#1fae8c" stroke-width="1.55" stroke-linejoin="round" stroke-linecap="butt" />
<polyline points="81.96,898.59 83.25,898.63 84.53,898.67 85.82,898.7 87.1,898.74 88.39,898.77 89.68,898.81 90.96,898.84 92.25,898.88 93.53,898.91 94.82,898.94 96.1,898.97 97.39,899.01 98.68,899.04 99.96,899.07 101.25,899.1 102.53,899.13 103.82,899.16 105.11,899.19 106.39,899.21 107.68,899.24 108.96,899.27 110.25,899.3 111.53,899.32 112.82,899.35 114.11,899.38 115.39,899.4 116.68,899.43 117.96,899.45 119.25,899.48 120.54,899.5 121.82,899.53 123.11,899.55 124.39,899.57 125.68,899.59 126.97,899.61 128.25,899.62 129.54,899.62 130.82,899.62 132.11,899.61 133.39,899.6 134.68,899.58 135.97,899.56 137.25,899.53 138.54,899.49 139.82,899.45 141.11,899.4 142.4,899.33 143.68,899.24 144.97,899.11 146.25,898.94 147.54,898.72 148.83,898.47 150.11,898.18 151.4,897.86 152.68,897.49 153.97,897.07 155.25,896.6 156.54,896.08 157.83,895.52 159.11,894.87 160.4,894.14 161.68,893.35 162.97,892.49 164.26,891.53 165.54,890.47 166.83,889.29 168.11,888.03 169.4,886.63 170.68,885.02 171.97,883.25 173.26,881.37 174.54,879.21 175.83,876.54 177.11,873.46 178.4,870.03 179.69,866.09 180.97,861.78 182.26,857.39 183.54,853.01 184.83,848.66 186.12,844.08 187.4,839.17 188.69,834.07 189.97,828.7 191.26,822.91 192.54,816.84 193.83,810.89 195.12,805.02 196.4,799.39 197.69,794.44 198.97,789.64 200.26,785.27 201.55,781.87 202.83,778.52 204.12,775.66 205.4,773.62 206.69,771.92 207.98,771.04 209.26,770.66 210.55,770.09 211.83,769.67 213.12,769.91 214.4,770.73 215.69,771.53 216.98,772.1 218.26,773.31 219.55,775.16 220.83,776.36 222.12,776.94 223.41,778.01 224.69,779.52 225.98,780.83 227.26,782.08 228.55,783.34 229.83,784.21 231.12,785.23 232.41,786.54 233.69,787.85 234.98,789.33 236.26,790.3 237.55,790.77 238.84,791.7 240.12,792.68 241.41,793.38 242.69,794.42 243.98,795.35 245.27,796.29 246.55,797.41 247.84,798.18 249.12,799.14 250.41,800.38 251.69,801.65 252.98,802.97 254.27,804.53 255.55,806.78 256.84,809.3 258.12,811.41 259.41,813.17 260.7,815.29 261.98,817.88 263.27,820.23 264.55,822.67 265.84,825.42 267.13,827.88 268.41,830.15 269.7,832.43 270.98,834.86 272.27,837.42 273.55,839.9 274.84,842.48 276.13,845 277.41,847.26 278.7,849.64 279.98,852.31 281.27,854.91 282.56,857.32 283.84,859.8 285.13,862.14 286.41,863.93 287.7,865.5 288.98,867.25 290.27,868.98 291.56,870.58 292.84,872.08 294.13,873.6 295.41,875.07 296.7,876.33 297.99,877.5 299.27,878.63 300.56,879.77 301.84,880.83 303.13,881.72 304.42,882.58 305.7,883.42 306.99,884.23 308.27,884.99 309.56,885.68 310.84,886.37 312.13,886.99 313.42,887.56 314.7,888.13 315.99,888.68 317.27,889.21 318.56,889.74 319.85,890.19 321.13,890.63 322.42,891.09 323.7,891.49 324.99,891.9 326.28,892.32 327.56,892.68 328.85,893.05 330.13,893.44 331.42,893.8 332.7,894.13 333.99,894.43 335.28,894.72 336.56,895.02 337.85,895.29 339.13,895.52 340.42,895.74 341.71,895.98 342.99,896.2 344.28,896.42 345.56,896.62 346.85,896.78 348.13,896.96 349.42,897.13 350.71,897.27 351.99,897.42 353.28,897.6 354.56,897.74 355.85,897.86 357.14,897.99 358.42,898.12 359.71,898.24 360.99,898.35 362.28,898.46 363.57,898.57 364.85,898.67 366.14,898.76 367.42,898.86 368.71,898.96 369.99,899.05 371.28,899.14 372.57,899.23 373.85,899.31 375.14,899.39 376.42,899.48 377.71,899.55 379,899.62 380.28,899.68 381.57,899.74 382.85,899.81 384.14,899.86 385.43,899.91 386.71,899.95 388,900 389.28,900.05 390.57,900.09 391.85,900.13 393.14,900.17 394.43,900.2 395.71,900.24 397,900.28 398.28,900.31 399.57,900.34 400.86,900.37 402.14,900.41 403.43,900.44 404.71,900.47 406,900.5 407.28,900.53 408.57,900.56 409.86,900.59 411.14,900.62 412.43,900.65 413.71,900.68 415,900.7" fill="none" stroke="#8a2aa8" stroke-width="1.55" stroke-linejoin="round" stroke-linecap="butt" />
<polyline points="81.96,898.34 83.25,898.38 84.53,898.42 85.82,898.46 87.1,898.49 88.39,898.53 89.68,898.57 90.96,898.61 92.25,898.64 93.53,898.68 94.82,898.71 96.1,898.75 97.39,898.78 98.68,898.81 99.96,898.85 101.25,898.88 102.53,898.91 103.82,898.94 105.11,898.97 106.39,899 107.68,899.03 108.96,899.06 110.25,899.09 111.53,899.12 112.82,899.15 114.11,899.18 115.39,899.2 116.68,899.23 117.96,899.26 119.25,899.28 120.54,899.31 121.82,899.34 123.11,899.36 124.39,899.38 125.68,899.41 126.97,899.42 128.25,899.43 129.54,899.44 130.82,899.44 132.11,899.43 133.39,899.41 134.68,899.39 135.97,899.36 137.25,899.33 138.54,899.29 139.82,899.25 141.11,899.2 142.4,899.12 143.68,899.02 144.97,898.88 146.25,898.7 147.54,898.48 148.83,898.22 150.11,897.91 151.4,897.57 152.68,897.19 153.97,896.75 155.25,896.24 156.54,895.68 157.83,895.06 159.11,894.38 160.4,893.65 161.68,892.84 162.97,891.94 164.26,890.93 165.54,889.79 166.83,888.57 168.11,887.27 169.4,885.8 170.68,884.09 171.97,882.23 173.26,880.22 174.54,877.94 175.83,875.13 177.11,871.69 178.4,867.84 179.69,863.54 180.97,858.86 182.26,854.15 183.54,849.39 184.83,844.46 186.12,839.25 187.4,833.68 188.69,828.02 189.97,822.25 191.26,816.26 192.54,810.27 193.83,804.19 195.12,797.93 196.4,792.13 197.69,786.97 198.97,781.45 200.26,776.47 201.55,772.93 202.83,769.56 204.12,766.55 205.4,764.27 206.69,762.25 207.98,760.95 209.26,760.02 210.55,759.19 211.83,759.06 213.12,759.41 214.4,760.23 215.69,761.56 216.98,762.59 218.26,763.22 219.55,764.34 220.83,765.79 222.12,766.75 223.41,767.83 224.69,769.6 225.98,771.13 227.26,772.15 228.55,773.61 229.83,775.23 231.12,776.24 232.41,777.08 233.69,778.03 234.98,779.27 236.26,780.67 237.55,781.42 238.84,781.92 240.12,782.82 241.41,783.92 242.69,785.2 243.98,786.35 245.27,787.36 246.55,788.6 247.84,789.67 249.12,790.68 250.41,791.74 251.69,792.91 252.98,794.33 254.27,796 255.55,798.1 256.84,800.59 258.12,803.12 259.41,805.2 260.7,807.47 261.98,810.14 263.27,812.46 264.55,815 265.84,817.91 267.13,820.41 268.41,822.7 269.7,825.28 270.98,827.97 272.27,830.51 273.55,832.97 274.84,835.63 276.13,838.13 277.41,840.64 278.7,843.67 279.98,846.61 281.27,849.3 282.56,851.86 283.84,854.35 285.13,856.86 286.41,858.98 287.7,860.89 288.98,862.97 290.27,864.87 291.56,866.52 292.84,868.18 294.13,869.82 295.41,871.39 296.7,872.84 297.99,874.12 299.27,875.31 300.56,876.63 301.84,877.91 303.13,878.96 304.42,880 305.7,881.01 306.99,881.92 308.27,882.64 309.56,883.33 310.84,884.13 312.13,884.89 313.42,885.55 314.7,886.19 315.99,886.8 317.27,887.35 318.56,887.92 319.85,888.47 321.13,889 322.42,889.54 323.7,890.04 324.99,890.52 326.28,890.98 327.56,891.41 328.85,891.83 330.13,892.23 331.42,892.63 332.7,893.01 333.99,893.35 335.28,893.7 336.56,894.04 337.85,894.35 339.13,894.63 340.42,894.89 341.71,895.16 342.99,895.42 344.28,895.64 345.56,895.85 346.85,896.06 348.13,896.25 349.42,896.45 350.71,896.64 351.99,896.81 353.28,896.99 354.56,897.16 355.85,897.31 357.14,897.46 358.42,897.6 359.71,897.73 360.99,897.85 362.28,897.98 363.57,898.11 364.85,898.23 366.14,898.34 367.42,898.45 368.71,898.57 369.99,898.68 371.28,898.78 372.57,898.87 373.85,898.97 375.14,899.07 376.42,899.16 377.71,899.24 379,899.33 380.28,899.41 381.57,899.48 382.85,899.54 384.14,899.61 385.43,899.66 386.71,899.72 388,899.77 389.28,899.82 390.57,899.87 391.85,899.92 393.14,899.96 394.43,900 395.71,900.05 397,900.09 398.28,900.13 399.57,900.17 400.86,900.2 402.14,900.24 403.43,900.27 404.71,900.31 406,900.34 407.28,900.37 408.57,900.41 409.86,900.44 411.14,900.48 412.43,900.52 413.71,900.55 415,900.57" fill="none" stroke="#b4763a" stroke-width="1.55" stroke-linejoin="round" stroke-linecap="butt" />
<polyline points="81.96,898.08 83.25,898.13 84.53,898.17 85.82,898.21 87.1,898.25 88.39,898.29 89.68,898.33 90.96,898.37 92.25,898.41 93.53,898.44 94.82,898.48 96.1,898.52 97.39,898.55 98.68,898.59 99.96,898.62 101.25,898.66 102.53,898.69 103.82,898.73 105.11,898.76 106.39,898.79 107.68,898.82 108.96,898.86 110.25,898.89 111.53,898.92 112.82,898.95 114.11,898.98 115.39,899.01 116.68,899.03 117.96,899.06 119.25,899.09 120.54,899.12 121.82,899.15 123.11,899.17 124.39,899.2 125.68,899.22 126.97,899.24 128.25,899.25 129.54,899.26 130.82,899.25 132.11,899.25 133.39,899.23 134.68,899.21 135.97,899.18 137.25,899.15 138.54,899.11 139.82,899.06 141.11,899.01 142.4,898.93 143.68,898.83 144.97,898.69 146.25,898.5 147.54,898.27 148.83,898 150.11,897.69 151.4,897.33 152.68,896.94 153.97,896.48 155.25,895.96 156.54,895.4 157.83,894.77 159.11,894.07 160.4,893.32 161.68,892.5 162.97,891.57 164.26,890.54 165.54,889.39 166.83,888.11 168.11,886.73 169.4,885.23 170.68,883.51 171.97,881.57 173.26,879.53 174.54,877.22 175.83,874.32 177.11,870.82 178.4,866.84 179.69,862.25 180.97,857.12 182.26,852.07 183.54,847.12 184.83,841.82 186.12,836.29 187.4,830.62 188.69,824.82 189.97,818.87 191.26,812.91 192.54,806.69 193.83,799.92 195.12,793.26 196.4,787.48 197.69,782.19 198.97,776.63 200.26,771.93 201.55,768.17 202.83,764.14 204.12,760.95 205.4,758.89 206.69,756.9 207.98,755.52 209.26,754.48 210.55,753.12 211.83,752.36 213.12,752.48 214.4,753.37 215.69,754.75 216.98,755.75 218.26,756.79 219.55,758.48 220.83,759.7 222.12,760.56 223.41,762.41 224.69,764.58 225.98,765.89 227.26,766.56 228.55,767.68 229.83,769.05 231.12,770.3 232.41,771.7 233.69,773.08 234.98,774.61 236.26,775.74 237.55,776.22 238.84,776.68 240.12,777.85 241.41,779.51 242.69,780.6 243.98,781.35 245.27,782.19 246.55,783.18 247.84,784.22 249.12,785.46 250.41,787.07 251.69,788.33 252.98,789.16 254.27,790.77 255.55,793.19 256.84,795.45 258.12,797.94 259.41,800.55 260.7,802.91 261.98,805.53 263.27,808.06 264.55,810.92 265.84,814.19 267.13,816.77 268.41,818.75 269.7,821.03 270.98,823.87 272.27,826.5 273.55,828.68 274.84,831.31 276.13,834.28 277.41,837.19 278.7,840.33 279.98,843.33 281.27,845.9 282.56,848.53 283.84,851.35 285.13,853.94 286.41,856.09 287.7,858.14 288.98,860.18 290.27,862.09 291.56,863.96 292.84,865.71 294.13,867.46 295.41,869.26 296.7,870.86 297.99,872.24 299.27,873.51 300.56,874.88 301.84,876.21 303.13,877.32 304.42,878.4 305.7,879.42 306.99,880.32 308.27,881.13 309.56,881.96 310.84,882.83 312.13,883.65 313.42,884.36 314.7,885.01 315.99,885.7 317.27,886.34 318.56,886.92 319.85,887.5 321.13,888.08 322.42,888.63 323.7,889.14 324.99,889.63 326.28,890.09 327.56,890.54 328.85,891.01 330.13,891.48 331.42,891.95 332.7,892.35 333.99,892.72 335.28,893.09 336.56,893.46 337.85,893.76 339.13,894.04 340.42,894.34 341.71,894.64 342.99,894.9 344.28,895.16 345.56,895.4 346.85,895.61 348.13,895.81 349.42,896.02 350.71,896.22 351.99,896.41 353.28,896.6 354.56,896.78 355.85,896.94 357.14,897.09 358.42,897.25 359.71,897.41 360.99,897.55 362.28,897.69 363.57,897.83 364.85,897.94 366.14,898.05 367.42,898.18 368.71,898.32 369.99,898.43 371.28,898.54 372.57,898.64 373.85,898.75 375.14,898.84 376.42,898.94 377.71,899.04 379,899.13 380.28,899.21 381.57,899.28 382.85,899.35 384.14,899.42 385.43,899.49 386.71,899.55 388,899.61 389.28,899.65 390.57,899.71 391.85,899.76 393.14,899.8 394.43,899.85 395.71,899.9 397,899.95 398.28,899.99 399.57,900.03 400.86,900.06 402.14,900.1 403.43,900.14 404.71,900.18 406,900.22 407.28,900.25 408.57,900.29 409.86,900.32 411.14,900.36 412.43,900.4 413.71,900.43 415,900.46" fill="none" stroke="#f28020" stroke-width="1.55" stroke-linejoin="round" stroke-linecap="butt" />
<polyline points="81.96,897.83 83.25,897.88 84.53,897.92 85.82,897.96 87.1,898.01 88.39,898.05 89.68,898.09 90.96,898.13 92.25,898.17 93.53,898.21 94.82,898.25 96.1,898.29 97.39,898.33 98.68,898.37 99.96,898.4 101.25,898.44 102.53,898.48 103.82,898.51 105.11,898.55 106.39,898.58 107.68,898.61 108.96,898.65 110.25,898.68 111.53,898.71 112.82,898.75 114.11,898.78 115.39,898.81 116.68,898.84 117.96,898.87 119.25,898.9 120.54,898.93 121.82,898.96 123.11,898.98 124.39,899.01 125.68,899.03 126.97,899.05 128.25,899.07 129.54,899.07 130.82,899.07 132.11,899.06 133.39,899.04 134.68,899.02 135.97,898.99 137.25,898.96 138.54,898.92 139.82,898.87 141.11,898.81 142.4,898.73 143.68,898.62 144.97,898.47 146.25,898.27 147.54,898.03 148.83,897.75 150.11,897.43 151.4,897.06 152.68,896.64 153.97,896.16 155.25,895.64 156.54,895.06 157.83,894.38 159.11,893.62 160.4,892.83 161.68,891.97 162.97,891.01 164.26,889.95 165.54,888.74 166.83,887.41 168.11,885.99 169.4,884.42 170.68,882.61 171.97,880.63 173.26,878.48 174.54,876.09 175.83,873.06 177.11,869.17 178.4,864.76 179.69,859.86 180.97,854.49 182.26,848.99 183.54,843.5 184.83,837.93 186.12,832.05 187.4,825.84 188.69,819.6 189.97,813.19 191.26,806.55 192.54,799.61 193.83,792.26 195.12,785.53 196.4,779.88 197.69,774.49 198.97,768.88 200.26,763.74 201.55,759.69 202.83,755.75 204.12,752.4 205.4,749.88 206.69,747.17 207.98,745.47 209.26,744.65 210.55,743.49 211.83,742.84 213.12,742.96 214.4,743.4 215.69,744.36 216.98,745.62 218.26,747.14 219.55,748.76 220.83,749.89 222.12,750.68 223.41,752.1 224.69,754.4 225.98,756.57 227.26,757.62 228.55,758.53 229.83,759.73 231.12,761.06 232.41,762.91 233.69,764.69 234.98,766.23 236.26,767.14 237.55,767.48 238.84,768.21 240.12,769.64 241.41,771.32 242.69,772.63 243.98,773.36 245.27,774.03 246.55,774.99 247.84,775.92 249.12,777.07 250.41,778.43 251.69,779.69 252.98,781.23 254.27,782.92 255.55,784.83 256.84,787.42 258.12,790.08 259.41,792.35 260.7,794.81 261.98,797.58 263.27,800.55 264.55,803.85 265.84,806.76 267.13,809.16 268.41,811.8 269.7,814.44 270.98,816.85 272.27,819.39 273.55,822.15 274.84,825.16 276.13,827.99 277.41,830.66 278.7,833.66 279.98,836.85 281.27,840.06 282.56,843.25 283.84,846.21 285.13,848.82 286.41,851.13 287.7,853.48 288.98,855.83 290.27,857.95 291.56,859.96 292.84,861.83 294.13,863.69 295.41,865.55 296.7,867.22 297.99,868.79 299.27,870.25 300.56,871.76 301.84,873.27 303.13,874.49 304.42,875.6 305.7,876.71 306.99,877.79 308.27,878.71 309.56,879.63 310.84,880.63 312.13,881.52 313.42,882.29 314.7,883.04 315.99,883.74 317.27,884.4 318.56,885.1 319.85,885.76 321.13,886.35 322.42,886.97 323.7,887.57 324.99,888.16 326.28,888.72 327.56,889.23 328.85,889.76 330.13,890.28 331.42,890.77 332.7,891.22 333.99,891.63 335.28,892.07 336.56,892.49 337.85,892.84 339.13,893.17 340.42,893.49 341.71,893.79 342.99,894.09 344.28,894.39 345.56,894.65 346.85,894.86 348.13,895.09 349.42,895.34 350.71,895.56 351.99,895.76 353.28,895.97 354.56,896.18 355.85,896.36 357.14,896.55 358.42,896.75 359.71,896.91 360.99,897.06 362.28,897.2 363.57,897.35 364.85,897.48 366.14,897.62 367.42,897.76 368.71,897.91 369.99,898.03 371.28,898.15 372.57,898.27 373.85,898.38 375.14,898.5 376.42,898.62 377.71,898.73 379,898.83 380.28,898.92 381.57,899 382.85,899.09 384.14,899.17 385.43,899.24 386.71,899.3 388,899.37 389.28,899.43 390.57,899.49 391.85,899.54 393.14,899.59 394.43,899.64 395.71,899.7 397,899.75 398.28,899.8 399.57,899.85 400.86,899.89 402.14,899.93 403.43,899.97 404.71,900.01 406,900.06 407.28,900.1 408.57,900.14 409.86,900.18 411.14,900.22 412.43,900.27 413.71,900.3 415,900.33" fill="none" stroke="#111111" stroke-width="1.55" stroke-linejoin="round" stroke-linecap="butt" />
<polyline points="81.96,897.58 83.25,897.62 84.53,897.67 85.82,897.72 87.1,897.76 88.39,897.81 89.68,897.85 90.96,897.89 92.25,897.94 93.53,897.98 94.82,898.02 96.1,898.06 97.39,898.1 98.68,898.14 99.96,898.18 101.25,898.22 102.53,898.26 103.82,898.3 105.11,898.33 106.39,898.37 107.68,898.41 108.96,898.44 110.25,898.48 111.53,898.51 112.82,898.54 114.11,898.58 115.39,898.61 116.68,898.64 117.96,898.67 119.25,898.7 120.54,898.74 121.82,898.77 123.11,898.8 124.39,898.82 125.68,898.85 126.97,898.87 128.25,898.88 129.54,898.89 130.82,898.89 132.11,898.88 133.39,898.87 134.68,898.84 135.97,898.82 137.25,898.78 138.54,898.74 139.82,898.69 141.11,898.63 142.4,898.55 143.68,898.44 144.97,898.29 146.25,898.09 147.54,897.85 148.83,897.57 150.11,897.24 151.4,896.87 152.68,896.45 153.97,895.97 155.25,895.43 156.54,894.83 157.83,894.16 159.11,893.43 160.4,892.64 161.68,891.77 162.97,890.79 164.26,889.68 165.54,888.43 166.83,887.1 168.11,885.7 169.4,884.15 170.68,882.4 171.97,880.41 173.26,878.18 174.54,875.76 175.83,872.74 177.11,868.84 178.4,864.33 179.69,859.2 180.97,853.63 182.26,848.02 183.54,842.36 184.83,836.57 186.12,830.41 187.4,824.08 188.69,817.93 189.97,811.57 191.26,805.09 192.54,798.54 193.83,791.49 195.12,784.49 196.4,778.24 197.69,773.01 198.97,767.52 200.26,761.76 201.55,757.33 202.83,753.12 204.12,749.18 205.4,746.61 206.69,744.51 207.98,743.32 209.26,742.51 210.55,740.8 211.83,739.88 213.12,740.41 214.4,741.27 215.69,742.51 216.98,743.74 218.26,744.47 219.55,745.58 220.83,747.03 222.12,748.27 223.41,749.69 224.69,751.49 225.98,753.29 227.26,755.07 228.55,756.84 229.83,758.22 231.12,759.59 232.41,760.99 233.69,762.11 234.98,763.5 236.26,764.76 237.55,765.58 238.84,766.48 240.12,767.47 241.41,768.55 242.69,769.62 243.98,770.69 245.27,772.03 246.55,773.09 247.84,773.78 249.12,774.89 250.41,776.28 251.69,777.53 252.98,778.83 254.27,780.69 255.55,783.11 256.84,785.51 258.12,787.78 259.41,790.11 260.7,792.85 261.98,795.86 263.27,798.57 264.55,801.51 265.84,804.74 267.13,807.41 268.41,809.85 269.7,812.4 270.98,814.95 272.27,817.53 273.55,820.17 274.84,823.1 276.13,826.11 277.41,829.09 278.7,832.35 279.98,835.61 281.27,838.61 282.56,841.5 283.84,844.41 285.13,847.26 286.41,849.77 287.7,852.2 288.98,854.6 290.27,856.68 291.56,858.56 292.84,860.47 294.13,862.47 295.41,864.37 296.7,866.14 297.99,867.81 299.27,869.26 300.56,870.73 301.84,872.24 303.13,873.55 304.42,874.77 305.7,875.95 306.99,877.05 308.27,877.97 309.56,878.86 310.84,879.83 312.13,880.73 313.42,881.58 314.7,882.43 315.99,883.16 317.27,883.85 318.56,884.57 319.85,885.24 321.13,885.88 322.42,886.54 323.7,887.12 324.99,887.71 326.28,888.29 327.56,888.83 328.85,889.33 330.13,889.84 331.42,890.37 332.7,890.86 333.99,891.29 335.28,891.71 336.56,892.12 337.85,892.51 339.13,892.85 340.42,893.17 341.71,893.49 342.99,893.8 344.28,894.1 345.56,894.37 346.85,894.61 348.13,894.84 349.42,895.09 350.71,895.31 351.99,895.53 353.28,895.76 354.56,895.98 355.85,896.16 357.14,896.34 358.42,896.53 359.71,896.7 360.99,896.84 362.28,897 363.57,897.16 364.85,897.31 366.14,897.44 367.42,897.58 368.71,897.73 369.99,897.87 371.28,897.99 372.57,898.11 373.85,898.24 375.14,898.35 376.42,898.47 377.71,898.59 379,898.69 380.28,898.78 381.57,898.86 382.85,898.95 384.14,899.03 385.43,899.1 386.71,899.18 388,899.24 389.28,899.31 390.57,899.37 391.85,899.43 393.14,899.48 394.43,899.53 395.71,899.59 397,899.64 398.28,899.69 399.57,899.73 400.86,899.78 402.14,899.82 403.43,899.86 404.71,899.9 406,899.95 407.28,899.99 408.57,900.04 409.86,900.08 411.14,900.12 412.43,900.17 413.71,900.2 415,900.23" fill="none" stroke="#38b038" stroke-width="1.55" stroke-linejoin="round" stroke-linecap="butt" />
<polyline points="81.96,897.32 83.25,897.37 84.53,897.42 85.82,897.47 87.1,897.52 88.39,897.57 89.68,897.61 90.96,897.66 92.25,897.7 93.53,897.75 94.82,897.79 96.1,897.83 97.39,897.88 98.68,897.92 99.96,897.96 101.25,898 102.53,898.04 103.82,898.08 105.11,898.12 106.39,898.16 107.68,898.2 108.96,898.23 110.25,898.27 111.53,898.31 112.82,898.34 114.11,898.38 115.39,898.41 116.68,898.45 117.96,898.48 119.25,898.51 120.54,898.54 121.82,898.58 123.11,898.61 124.39,898.64 125.68,898.66 126.97,898.69 128.25,898.7 129.54,898.71 130.82,898.71 132.11,898.7 133.39,898.69 134.68,898.67 135.97,898.64 137.25,898.6 138.54,898.56 139.82,898.51 141.11,898.45 142.4,898.38 143.68,898.27 144.97,898.12 146.25,897.92 147.54,897.68 148.83,897.4 150.11,897.07 151.4,896.7 152.68,896.28 153.97,895.8 155.25,895.25 156.54,894.65 157.83,893.98 159.11,893.22 160.4,892.4 161.68,891.52 162.97,890.53 164.26,889.41 165.54,888.17 166.83,886.86 168.11,885.47 169.4,883.9 170.68,882.04 171.97,880.02 173.26,877.93 174.54,875.48 175.83,872.26 177.11,868.32 178.4,863.9 179.69,858.86 180.97,853.16 182.26,847.25 183.54,841.47 184.83,835.7 186.12,829.52 187.4,823.09 188.69,816.71 189.97,809.95 191.26,803.03 192.54,796.05 193.83,789.03 195.12,782.55 196.4,776.63 197.69,771.07 198.97,765.28 200.26,759.71 201.55,755.43 202.83,751.59 204.12,747.77 205.4,744.51 206.69,742.06 207.98,740.73 209.26,739.82 210.55,738.89 211.83,738.17 213.12,737.67 214.4,738.29 215.69,740.06 216.98,741.45 218.26,742.37 219.55,743.63 220.83,744.94 222.12,746.16 223.41,747.51 224.69,749.29 225.98,751.22 227.26,753.08 228.55,754.63 229.83,755.42 231.12,756.7 232.41,758.57 233.69,760.15 234.98,761.92 236.26,763.35 237.55,763.98 238.84,764.47 240.12,765.47 241.41,766.75 242.69,767.86 243.98,768.93 245.27,770.19 246.55,771.38 247.84,772.06 249.12,772.83 250.41,774 251.69,775.37 252.98,777.07 254.27,778.77 255.55,780.81 256.84,783.38 258.12,785.87 259.41,788.3 260.7,791.04 261.98,794.09 263.27,797.05 264.55,799.91 265.84,802.82 267.13,805.67 268.41,808.33 269.7,810.84 270.98,813.46 272.27,816.27 273.55,818.96 274.84,821.48 276.13,824.19 277.41,827.2 278.7,830.5 279.98,833.94 281.27,837.15 282.56,840.15 283.84,843.31 285.13,846.23 286.41,848.54 287.7,850.79 288.98,853.28 290.27,855.59 291.56,857.66 292.84,859.62 294.13,861.59 295.41,863.51 296.7,865.24 297.99,866.88 299.27,868.46 300.56,870.01 301.84,871.47 303.13,872.8 304.42,874.03 305.7,875.14 306.99,876.24 308.27,877.29 309.56,878.29 310.84,879.27 312.13,880.15 313.42,880.99 314.7,881.84 315.99,882.64 317.27,883.35 318.56,884.05 319.85,884.74 321.13,885.38 322.42,886.06 323.7,886.71 324.99,887.31 326.28,887.84 327.56,888.36 328.85,888.93 330.13,889.5 331.42,890.04 332.7,890.5 333.99,890.93 335.28,891.39 336.56,891.82 337.85,892.21 339.13,892.56 340.42,892.9 341.71,893.24 342.99,893.56 344.28,893.86 345.56,894.13 346.85,894.36 348.13,894.6 349.42,894.85 350.71,895.07 351.99,895.31 353.28,895.57 354.56,895.77 355.85,895.95 357.14,896.15 358.42,896.34 359.71,896.5 360.99,896.66 362.28,896.83 363.57,896.99 364.85,897.14 366.14,897.28 367.42,897.42 368.71,897.57 369.99,897.72 371.28,897.84 372.57,897.96 373.85,898.08 375.14,898.2 376.42,898.33 377.71,898.45 379,898.56 380.28,898.66 381.57,898.74 382.85,898.82 384.14,898.91 385.43,898.98 386.71,899.06 388,899.12 389.28,899.19 390.57,899.25 391.85,899.31 393.14,899.37 394.43,899.43 395.71,899.48 397,899.53 398.28,899.58 399.57,899.62 400.86,899.67 402.14,899.71 403.43,899.76 404.71,899.8 406,899.85 407.28,899.89 408.57,899.94 409.86,899.98 411.14,900.03 412.43,900.07 413.71,900.11 415,900.14" fill="none" stroke="#86d46a" stroke-width="1.55" stroke-linejoin="round" stroke-linecap="butt" />
<polyline points="81.96,897.07 83.25,897.12 84.53,897.17 85.82,897.22 87.1,897.27 88.39,897.32 89.68,897.37 90.96,897.42 92.25,897.47 93.53,897.52 94.82,897.56 96.1,897.61 97.39,897.65 98.68,897.7 99.96,897.74 101.25,897.78 102.53,897.82 103.82,897.87 105.11,897.91 106.39,897.95 107.68,897.99 108.96,898.03 110.25,898.06 111.53,898.1 112.82,898.14 114.11,898.18 115.39,898.21 116.68,898.25 117.96,898.28 119.25,898.32 120.54,898.35 121.82,898.39 123.11,898.42 124.39,898.45 125.68,898.48 126.97,898.5 128.25,898.52 129.54,898.53 130.82,898.53 132.11,898.52 133.39,898.51 134.68,898.48 135.97,898.46 137.25,898.42 138.54,898.38 139.82,898.33 141.11,898.27 142.4,898.19 143.68,898.08 144.97,897.93 146.25,897.72 147.54,897.48 148.83,897.2 150.11,896.86 151.4,896.48 152.68,896.05 153.97,895.56 155.25,895.01 156.54,894.39 157.83,893.69 159.11,892.93 160.4,892.15 161.68,891.27 162.97,890.25 164.26,889.13 165.54,887.89 166.83,886.54 168.11,885.1 169.4,883.5 170.68,881.67 171.97,879.59 173.26,877.31 174.54,874.77 175.83,871.61 177.11,867.61 178.4,862.93 179.69,857.6 180.97,851.68 182.26,845.67 183.54,839.72 184.83,833.6 186.12,827.18 187.4,820.38 188.69,813.62 189.97,806.95 191.26,800.32 192.54,793.54 193.83,786.03 195.12,779.02 196.4,773.03 197.69,767.11 198.97,761.45 200.26,756.61 201.55,752.08 202.83,747.27 204.12,743.37 205.4,740.68 206.69,738.28 207.98,736.12 209.26,734.61 210.55,733.59 211.83,732.96 213.12,732.94 214.4,733.48 215.69,734.43 216.98,735.64 218.26,737.21 219.55,738.79 220.83,740.36 222.12,741.84 223.41,742.92 224.69,744.45 225.98,746.93 227.26,749.17 228.55,750.61 229.83,751.77 231.12,753.01 232.41,754.6 233.69,756.21 234.98,757.77 236.26,758.93 237.55,759.79 238.84,760.83 240.12,761.86 241.41,763.09 242.69,764.29 243.98,765.34 245.27,766.54 246.55,767.56 247.84,768.23 249.12,769.12 250.41,770.56 251.69,772.12 252.98,773.23 254.27,774.39 255.55,776.79 256.84,779.75 258.12,782.29 259.41,784.58 260.7,787.02 261.98,790.3 263.27,793.49 264.55,796.25 265.84,799.36 267.13,802.15 268.41,804.48 269.7,807.02 270.98,809.74 272.27,812.53 273.55,815.31 274.84,818.2 276.13,821.15 277.41,824.19 278.7,827.69 279.98,831.16 281.27,834.23 282.56,837.4 283.84,840.76 285.13,843.64 286.41,845.95 287.7,848.42 288.98,851.04 290.27,853.34 291.56,855.56 292.84,857.61 294.13,859.59 295.41,861.73 296.7,863.67 297.99,865.39 299.27,866.97 300.56,868.56 301.84,870.13 303.13,871.47 304.42,872.68 305.7,873.91 306.99,875.1 308.27,876.11 309.56,877.03 310.84,878.03 312.13,879 313.42,879.85 314.7,880.71 315.99,881.56 317.27,882.37 318.56,883.17 319.85,883.86 321.13,884.53 322.42,885.25 323.7,885.92 324.99,886.52 326.28,887.11 327.56,887.69 328.85,888.23 330.13,888.78 331.42,889.37 332.7,889.88 333.99,890.34 335.28,890.86 336.56,891.32 337.85,891.7 339.13,892.07 340.42,892.44 341.71,892.76 342.99,893.09 344.28,893.41 345.56,893.69 346.85,893.94 348.13,894.21 349.42,894.49 350.71,894.72 351.99,894.93 353.28,895.17 354.56,895.41 355.85,895.62 357.14,895.83 358.42,896.02 359.71,896.2 360.99,896.37 362.28,896.55 363.57,896.73 364.85,896.88 366.14,897.01 367.42,897.16 368.71,897.33 369.99,897.49 371.28,897.61 372.57,897.74 373.85,897.88 375.14,898.01 376.42,898.13 377.71,898.25 379,898.36 380.28,898.47 381.57,898.56 382.85,898.65 384.14,898.74 385.43,898.82 386.71,898.89 388,898.97 389.28,899.03 390.57,899.1 391.85,899.16 393.14,899.22 394.43,899.28 395.71,899.34 397,899.39 398.28,899.45 399.57,899.5 400.86,899.54 402.14,899.59 403.43,899.64 404.71,899.68 406,899.73 407.28,899.77 408.57,899.82 409.86,899.87 411.14,899.92 412.43,899.96 413.71,900 415,900.03" fill="none" stroke="#e4207f" stroke-width="1.55" stroke-linejoin="round" stroke-linecap="butt" />
</g>
<line x1="292.2" y1="821.8" x2="292.2" y2="772" stroke="#000" stroke-width="2.1" />
<polygon points="292.2,766.8 288.9,773.6 295.5,773.6" fill="#000"/>
<line x1="312.5" y1="797.4" x2="337" y2="797.4" stroke="#000" stroke-width="1.7" />
<polygon points="340.4,797.4 335.8,794.9 335.8,799.9" fill="#000"/>
<text class="se" x="305.8" y="801.2" font-size="10.2" font-weight="bold" text-anchor="middle" fill="#000" >0</text>
<text class="se" x="325.8" y="792.2" font-size="10.4" font-weight="bold" text-anchor="middle" fill="#000" >GSH</text>
<text class="se" x="345.4" y="801.2" font-size="10.3" font-weight="bold" text-anchor="start" fill="#000" >20 equiv.</text>
<rect x="82.1" y="702.2" width="333" height="200.4" fill="none" stroke="#000" stroke-width="2.4"/>
<text class="se" x="42.2" y="801.5" font-size="17.2" font-weight="bold" text-anchor="middle" fill="#000" transform="rotate(-90 42.2 801.5)" >F.L. Intensity(a.u.)</text>
<text class="se" x="248.4" y="948.8" font-size="16.6" font-weight="bold" text-anchor="middle" fill="#000" >Wavelength(nm)</text>
</g>
<g id="panelH">
<text class="sa" x="450" y="695.7" font-size="17.2" font-weight="bold" text-anchor="start" fill="#000" >(H)</text>
<line x1="504.8" y1="915.2" x2="510.4" y2="915.2" stroke="#000" stroke-width="2" />
<text class="sa" x="503" y="920" font-size="12.3" font-weight="bold" text-anchor="end" fill="#000" >0</text>
<line x1="504.8" y1="879.73" x2="510.4" y2="879.73" stroke="#000" stroke-width="2" />
<text class="sa" x="503" y="884.53" font-size="12.3" font-weight="bold" text-anchor="end" fill="#000" >500</text>
<line x1="504.8" y1="844.27" x2="510.4" y2="844.27" stroke="#000" stroke-width="2" />
<text class="sa" x="503" y="849.07" font-size="12.3" font-weight="bold" text-anchor="end" fill="#000" >1000</text>
<line x1="504.8" y1="808.8" x2="510.4" y2="808.8" stroke="#000" stroke-width="2" />
<text class="sa" x="503" y="813.6" font-size="12.3" font-weight="bold" text-anchor="end" fill="#000" >1500</text>
<line x1="504.8" y1="773.33" x2="510.4" y2="773.33" stroke="#000" stroke-width="2" />
<text class="sa" x="503" y="778.13" font-size="12.3" font-weight="bold" text-anchor="end" fill="#000" >2000</text>
<line x1="504.8" y1="737.87" x2="510.4" y2="737.87" stroke="#000" stroke-width="2" />
<text class="sa" x="503" y="742.67" font-size="12.3" font-weight="bold" text-anchor="end" fill="#000" >2500</text>
<line x1="504.8" y1="702.4" x2="510.4" y2="702.4" stroke="#000" stroke-width="2" />
<text class="sa" x="503" y="707.2" font-size="12.3" font-weight="bold" text-anchor="end" fill="#000" >3000</text>
<line x1="537.1" y1="915.2" x2="537.1" y2="920.8" stroke="#000" stroke-width="2" />
<text class="sa" x="537.1" y="937" font-size="12.4" font-weight="bold" text-anchor="middle" fill="#000" >6.4</text>
<line x1="589.68" y1="915.2" x2="589.68" y2="920.8" stroke="#000" stroke-width="2" />
<text class="sa" x="589.68" y="937" font-size="12.4" font-weight="bold" text-anchor="middle" fill="#000" >6.8</text>
<line x1="642.26" y1="915.2" x2="642.26" y2="920.8" stroke="#000" stroke-width="2" />
<text class="sa" x="642.26" y="937" font-size="12.4" font-weight="bold" text-anchor="middle" fill="#000" >7.2</text>
<line x1="694.84" y1="915.2" x2="694.84" y2="920.8" stroke="#000" stroke-width="2" />
<text class="sa" x="694.84" y="937" font-size="12.4" font-weight="bold" text-anchor="middle" fill="#000" >7.6</text>
<line x1="747.42" y1="915.2" x2="747.42" y2="920.8" stroke="#000" stroke-width="2" />
<text class="sa" x="747.42" y="937" font-size="12.4" font-weight="bold" text-anchor="middle" fill="#000" >8.0</text>
<line x1="800" y1="915.2" x2="800" y2="920.8" stroke="#000" stroke-width="2" />
<text class="sa" x="800" y="937" font-size="12.4" font-weight="bold" text-anchor="middle" fill="#000" >8.4</text>
<polyline points="537.1,891.79 563.39,891.08 589.68,890.73 615.97,890.73 642.26,890.37 668.55,890.73 694.84,890.73 721.13,890.73 747.42,891.08 773.71,891.44 800,891.79" fill="none" stroke="#555" stroke-width="1" stroke-linejoin="round" stroke-linecap="butt" />
<rect x="532.7" y="887.39" width="8.8" height="9.4" fill="#0a0a0a" stroke="none" stroke-width="1" />
<rect x="558.99" y="886.68" width="8.8" height="9.4" fill="#0a0a0a" stroke="none" stroke-width="1" />
<rect x="585.28" y="886.33" width="8.8" height="9.4" fill="#0a0a0a" stroke="none" stroke-width="1" />
<rect x="611.57" y="886.33" width="8.8" height="9.4" fill="#0a0a0a" stroke="none" stroke-width="1" />
<rect x="637.86" y="885.97" width="8.8" height="9.4" fill="#0a0a0a" stroke="none" stroke-width="1" />
<rect x="664.15" y="886.33" width="8.8" height="9.4" fill="#0a0a0a" stroke="none" stroke-width="1" />
<rect x="690.44" y="886.33" width="8.8" height="9.4" fill="#0a0a0a" stroke="none" stroke-width="1" />
<rect x="716.73" y="886.33" width="8.8" height="9.4" fill="#0a0a0a" stroke="none" stroke-width="1" />
<rect x="743.02" y="886.68" width="8.8" height="9.4" fill="#0a0a0a" stroke="none" stroke-width="1" />
<rect x="769.31" y="887.04" width="8.8" height="9.4" fill="#0a0a0a" stroke="none" stroke-width="1" />
<rect x="795.6" y="887.39" width="8.8" height="9.4" fill="#0a0a0a" stroke="none" stroke-width="1" />
<polyline points="537.1,742.83 563.39,742.12 589.68,744.96 615.97,743.9 642.26,744.61 668.55,745.31 694.84,744.25 721.13,742.83 747.42,742.12 773.71,742.12 800,743.9" fill="none" stroke="#ee1c25" stroke-width="1.1" stroke-linejoin="round" stroke-linecap="butt" />
<circle cx="537.1" cy="742.83" r="4.5" fill="#ee1c25"/>
<circle cx="563.39" cy="742.12" r="4.5" fill="#ee1c25"/>
<circle cx="589.68" cy="744.96" r="4.5" fill="#ee1c25"/>
<circle cx="615.97" cy="743.9" r="4.5" fill="#ee1c25"/>
<circle cx="642.26" cy="744.61" r="4.5" fill="#ee1c25"/>
<circle cx="668.55" cy="745.31" r="4.5" fill="#ee1c25"/>
<circle cx="694.84" cy="744.25" r="4.5" fill="#ee1c25"/>
<circle cx="721.13" cy="742.83" r="4.5" fill="#ee1c25"/>
<circle cx="747.42" cy="742.12" r="4.5" fill="#ee1c25"/>
<circle cx="773.71" cy="742.12" r="4.5" fill="#ee1c25"/>
<circle cx="800" cy="743.9" r="4.5" fill="#ee1c25"/>
<line x1="734.3" y1="711.3" x2="752.3" y2="711.3" stroke="#222" stroke-width="1.3" />
<rect x="739" y="706.9" width="8.4" height="8.8" fill="#0a0a0a" stroke="none" stroke-width="1" />
<line x1="734.3" y1="725.4" x2="752.3" y2="725.4" stroke="#ee1c25" stroke-width="1.3" />
<circle cx="743.2" cy="725.4" r="4.5" fill="#ee1c25"/>
<text class="sa" transform="translate(762 714.9) scale(0.9 1)" font-size="10.2" font-weight="bold" text-anchor="start" fill="#111" stroke="#111" stroke-width="0.4">OD-TH</text>
<text class="sa" transform="translate(762 729) scale(0.9 1)" font-size="10.2" font-weight="bold" text-anchor="start" fill="#111" stroke="#111" stroke-width="0.4">OD-TH+GSH</text>
<path d="M510.4 702.4 V915.2 H826.5 V702.4 Z" fill="none" stroke="#000" stroke-width="2.4"/>
<text class="sa" x="464.4" y="807.5" font-size="19" font-weight="bold" text-anchor="middle" fill="#000" transform="rotate(-90 464.4 807.5)" textLength="172.5" lengthAdjust="spacing">F.L. Intensity(a.u.)</text>
<text class="sa" x="669" y="966.5" font-size="18.6" font-weight="bold" text-anchor="middle" fill="#000" >pH</text>
</g>
<g id="panelI">
<text class="sa" x="880" y="699.6" font-size="17.4" font-weight="bold" text-anchor="start" fill="#000" >(I)</text>
<line x1="939.6" y1="923.7" x2="946.6" y2="923.7" stroke="#000" stroke-width="2" />
<text class="sa" x="936.4" y="929.5" font-size="16.4" font-weight="bold" text-anchor="end" fill="#000" >20</text>
<line x1="939.6" y1="879.48" x2="946.6" y2="879.48" stroke="#000" stroke-width="2" />
<text class="sa" x="936.4" y="885.28" font-size="16.4" font-weight="bold" text-anchor="end" fill="#000" >25</text>
<line x1="939.6" y1="835.26" x2="946.6" y2="835.26" stroke="#000" stroke-width="2" />
<text class="sa" x="936.4" y="841.06" font-size="16.4" font-weight="bold" text-anchor="end" fill="#000" >30</text>
<line x1="939.6" y1="791.04" x2="946.6" y2="791.04" stroke="#000" stroke-width="2" />
<text class="sa" x="936.4" y="796.84" font-size="16.4" font-weight="bold" text-anchor="end" fill="#000" >35</text>
<line x1="939.6" y1="746.82" x2="946.6" y2="746.82" stroke="#000" stroke-width="2" />
<text class="sa" x="936.4" y="752.62" font-size="16.4" font-weight="bold" text-anchor="end" fill="#000" >40</text>
<line x1="939.6" y1="702.6" x2="946.6" y2="702.6" stroke="#000" stroke-width="2" />
<text class="sa" x="936.4" y="708.4" font-size="16.4" font-weight="bold" text-anchor="end" fill="#000" >45</text>
<line x1="972.2" y1="923.7" x2="972.2" y2="930.1" stroke="#000" stroke-width="2" />
<text class="sa" x="972.2" y="948.5" font-size="16.4" font-weight="bold" text-anchor="middle" fill="#000" >1</text>
<line x1="1023.8" y1="923.7" x2="1023.8" y2="930.1" stroke="#000" stroke-width="2" />
<text class="sa" x="1023.8" y="948.5" font-size="16.4" font-weight="bold" text-anchor="middle" fill="#000" >3</text>
<line x1="1075.5" y1="923.7" x2="1075.5" y2="930.1" stroke="#000" stroke-width="2" />
<text class="sa" x="1075.5" y="948.5" font-size="16.4" font-weight="bold" text-anchor="middle" fill="#000" >6</text>
<line x1="1127.1" y1="923.7" x2="1127.1" y2="930.1" stroke="#000" stroke-width="2" />
<text class="sa" x="1127.1" y="948.5" font-size="16.4" font-weight="bold" text-anchor="middle" fill="#000" >9</text>
<line x1="1178.8" y1="923.7" x2="1178.8" y2="930.1" stroke="#000" stroke-width="2" />
<text class="sa" x="1178.8" y="948.5" font-size="16.4" font-weight="bold" text-anchor="middle" fill="#000" >12</text>
<line x1="1230.5" y1="923.7" x2="1230.5" y2="930.1" stroke="#000" stroke-width="2" />
<text class="sa" x="1230.5" y="948.5" font-size="16.4" font-weight="bold" text-anchor="middle" fill="#000" >15</text>
<line x1="972.2" y1="829.95" x2="972.2" y2="847.64" stroke="#e8222a" stroke-width="1.6" />
<line x1="967.2" y1="829.95" x2="977.2" y2="829.95" stroke="#e8222a" stroke-width="1.7" />
<line x1="967.2" y1="847.64" x2="977.2" y2="847.64" stroke="#e8222a" stroke-width="1.7" />
<line x1="1023.8" y1="812.27" x2="1023.8" y2="831.72" stroke="#e8222a" stroke-width="1.6" />
<line x1="1018.8" y1="812.27" x2="1028.8" y2="812.27" stroke="#e8222a" stroke-width="1.7" />
<line x1="1018.8" y1="831.72" x2="1028.8" y2="831.72" stroke="#e8222a" stroke-width="1.7" />
<line x1="1075.5" y1="811.38" x2="1075.5" y2="846.76" stroke="#e8222a" stroke-width="1.6" />
<line x1="1070.5" y1="811.38" x2="1080.5" y2="811.38" stroke="#e8222a" stroke-width="1.7" />
<line x1="1070.5" y1="846.76" x2="1080.5" y2="846.76" stroke="#e8222a" stroke-width="1.7" />
<line x1="1127.1" y1="829.07" x2="1127.1" y2="837.91" stroke="#e8222a" stroke-width="1.6" />
<line x1="1122.1" y1="829.07" x2="1132.1" y2="829.07" stroke="#e8222a" stroke-width="1.7" />
<line x1="1122.1" y1="837.91" x2="1132.1" y2="837.91" stroke="#e8222a" stroke-width="1.7" />
<line x1="1178.8" y1="812.27" x2="1178.8" y2="851.18" stroke="#e8222a" stroke-width="1.6" />
<line x1="1173.8" y1="812.27" x2="1183.8" y2="812.27" stroke="#e8222a" stroke-width="1.7" />
<line x1="1173.8" y1="851.18" x2="1183.8" y2="851.18" stroke="#e8222a" stroke-width="1.7" />
<line x1="1230.5" y1="808.73" x2="1230.5" y2="822.88" stroke="#e8222a" stroke-width="1.6" />
<line x1="1225.5" y1="808.73" x2="1235.5" y2="808.73" stroke="#e8222a" stroke-width="1.7" />
<line x1="1225.5" y1="822.88" x2="1235.5" y2="822.88" stroke="#e8222a" stroke-width="1.7" />
<polyline points="972.2,838.8 1023.8,821.99 1075.5,829.07 1127.1,833.49 1178.8,831.72 1230.5,815.8" fill="none" stroke="#e8222a" stroke-width="1.6" stroke-linejoin="round" stroke-linecap="butt" />
<polygon points="972.2,844.4 967,835.04 977.4,835.04" fill="#e8222a"/>
<polygon points="1023.8,827.59 1018.6,818.23 1029,818.23" fill="#e8222a"/>
<polygon points="1075.5,834.67 1070.3,825.31 1080.7,825.31" fill="#e8222a"/>
<polygon points="1127.1,839.09 1121.9,829.73 1132.3,829.73" fill="#e8222a"/>
<polygon points="1178.8,837.32 1173.6,827.96 1184,827.96" fill="#e8222a"/>
<polygon points="1230.5,821.4 1225.3,812.04 1235.7,812.04" fill="#e8222a"/>
<line x1="972.2" y1="816.69" x2="972.2" y2="841.45" stroke="#2a30b0" stroke-width="1.6" />
<line x1="967.2" y1="816.69" x2="977.2" y2="816.69" stroke="#2a30b0" stroke-width="1.7" />
<line x1="967.2" y1="841.45" x2="977.2" y2="841.45" stroke="#2a30b0" stroke-width="1.7" />
<line x1="1023.8" y1="818.46" x2="1023.8" y2="850.29" stroke="#2a30b0" stroke-width="1.6" />
<line x1="1018.8" y1="818.46" x2="1028.8" y2="818.46" stroke="#2a30b0" stroke-width="1.7" />
<line x1="1018.8" y1="850.29" x2="1028.8" y2="850.29" stroke="#2a30b0" stroke-width="1.7" />
<line x1="1075.5" y1="827.3" x2="1075.5" y2="844.99" stroke="#2a30b0" stroke-width="1.6" />
<line x1="1070.5" y1="827.3" x2="1080.5" y2="827.3" stroke="#2a30b0" stroke-width="1.7" />
<line x1="1070.5" y1="844.99" x2="1080.5" y2="844.99" stroke="#2a30b0" stroke-width="1.7" />
<line x1="1127.1" y1="814.92" x2="1127.1" y2="829.07" stroke="#2a30b0" stroke-width="1.6" />
<line x1="1122.1" y1="814.92" x2="1132.1" y2="814.92" stroke="#2a30b0" stroke-width="1.7" />
<line x1="1122.1" y1="829.07" x2="1132.1" y2="829.07" stroke="#2a30b0" stroke-width="1.7" />
<line x1="1178.8" y1="825.53" x2="1178.8" y2="848.53" stroke="#2a30b0" stroke-width="1.6" />
<line x1="1173.8" y1="825.53" x2="1183.8" y2="825.53" stroke="#2a30b0" stroke-width="1.7" />
<line x1="1173.8" y1="848.53" x2="1183.8" y2="848.53" stroke="#2a30b0" stroke-width="1.7" />
<line x1="1230.5" y1="808.73" x2="1230.5" y2="844.1" stroke="#2a30b0" stroke-width="1.6" />
<line x1="1225.5" y1="808.73" x2="1235.5" y2="808.73" stroke="#2a30b0" stroke-width="1.7" />
<line x1="1225.5" y1="844.1" x2="1235.5" y2="844.1" stroke="#2a30b0" stroke-width="1.7" />
<polyline points="972.2,829.07 1023.8,834.38 1075.5,836.14 1127.1,821.99 1178.8,837.03 1230.5,826.42" fill="none" stroke="#2a30b0" stroke-width="1.6" stroke-linejoin="round" stroke-linecap="butt" />
<polygon points="972.2,823.47 967,832.83 977.4,832.83" fill="#2a30b0"/>
<polygon points="1023.8,828.78 1018.6,838.14 1029,838.14" fill="#2a30b0"/>
<polygon points="1075.5,830.54 1070.3,839.9 1080.7,839.9" fill="#2a30b0"/>
<polygon points="1127.1,816.39 1121.9,825.75 1132.3,825.75" fill="#2a30b0"/>
<polygon points="1178.8,831.43 1173.6,840.79 1184,840.79" fill="#2a30b0"/>
<polygon points="1230.5,820.82 1225.3,830.18 1235.7,830.18" fill="#2a30b0"/>
<line x1="972.2" y1="813.15" x2="972.2" y2="841.45" stroke="#3ab44a" stroke-width="1.6" />
<line x1="967.2" y1="813.15" x2="977.2" y2="813.15" stroke="#3ab44a" stroke-width="1.7" />
<line x1="967.2" y1="841.45" x2="977.2" y2="841.45" stroke="#3ab44a" stroke-width="1.7" />
<line x1="1023.8" y1="814.92" x2="1023.8" y2="853.83" stroke="#3ab44a" stroke-width="1.6" />
<line x1="1018.8" y1="814.92" x2="1028.8" y2="814.92" stroke="#3ab44a" stroke-width="1.7" />
<line x1="1018.8" y1="853.83" x2="1028.8" y2="853.83" stroke="#3ab44a" stroke-width="1.7" />
<line x1="1075.5" y1="831.72" x2="1075.5" y2="845.87" stroke="#3ab44a" stroke-width="1.6" />
<line x1="1070.5" y1="831.72" x2="1080.5" y2="831.72" stroke="#3ab44a" stroke-width="1.7" />
<line x1="1070.5" y1="845.87" x2="1080.5" y2="845.87" stroke="#3ab44a" stroke-width="1.7" />
<line x1="1127.1" y1="829.95" x2="1127.1" y2="838.8" stroke="#3ab44a" stroke-width="1.6" />
<line x1="1122.1" y1="829.95" x2="1132.1" y2="829.95" stroke="#3ab44a" stroke-width="1.7" />
<line x1="1122.1" y1="838.8" x2="1132.1" y2="838.8" stroke="#3ab44a" stroke-width="1.7" />
<line x1="1178.8" y1="814.03" x2="1178.8" y2="844.1" stroke="#3ab44a" stroke-width="1.6" />
<line x1="1173.8" y1="814.03" x2="1183.8" y2="814.03" stroke="#3ab44a" stroke-width="1.7" />
<line x1="1173.8" y1="844.1" x2="1183.8" y2="844.1" stroke="#3ab44a" stroke-width="1.7" />
<line x1="1230.5" y1="827.3" x2="1230.5" y2="852.06" stroke="#3ab44a" stroke-width="1.6" />
<line x1="1225.5" y1="827.3" x2="1235.5" y2="827.3" stroke="#3ab44a" stroke-width="1.7" />
<line x1="1225.5" y1="852.06" x2="1235.5" y2="852.06" stroke="#3ab44a" stroke-width="1.7" />
<polyline points="972.2,827.3 1023.8,834.38 1075.5,838.8 1127.1,834.38 1178.8,829.07 1230.5,839.68" fill="none" stroke="#3ab44a" stroke-width="1.6" stroke-linejoin="round" stroke-linecap="butt" />
<rect x="967.2" y="822.3" width="10" height="10" fill="#3ab44a" stroke="none" stroke-width="1" />
<rect x="1018.8" y="829.38" width="10" height="10" fill="#3ab44a" stroke="none" stroke-width="1" />
<rect x="1070.5" y="833.8" width="10" height="10" fill="#3ab44a" stroke="none" stroke-width="1" />
<rect x="1122.1" y="829.38" width="10" height="10" fill="#3ab44a" stroke="none" stroke-width="1" />
<rect x="1173.8" y="824.07" width="10" height="10" fill="#3ab44a" stroke="none" stroke-width="1" />
<rect x="1225.5" y="834.68" width="10" height="10" fill="#3ab44a" stroke="none" stroke-width="1" />
<line x1="972.2" y1="815.8" x2="972.2" y2="838.8" stroke="#8e8e92" stroke-width="1.6" />
<line x1="967.2" y1="815.8" x2="977.2" y2="815.8" stroke="#8e8e92" stroke-width="1.7" />
<line x1="967.2" y1="838.8" x2="977.2" y2="838.8" stroke="#8e8e92" stroke-width="1.7" />
<line x1="1023.8" y1="812.27" x2="1023.8" y2="833.49" stroke="#8e8e92" stroke-width="1.6" />
<line x1="1018.8" y1="812.27" x2="1028.8" y2="812.27" stroke="#8e8e92" stroke-width="1.7" />
<line x1="1018.8" y1="833.49" x2="1028.8" y2="833.49" stroke="#8e8e92" stroke-width="1.7" />
<line x1="1075.5" y1="816.69" x2="1075.5" y2="830.84" stroke="#8e8e92" stroke-width="1.6" />
<line x1="1070.5" y1="816.69" x2="1080.5" y2="816.69" stroke="#8e8e92" stroke-width="1.7" />
<line x1="1070.5" y1="830.84" x2="1080.5" y2="830.84" stroke="#8e8e92" stroke-width="1.7" />
<line x1="1127.1" y1="831.72" x2="1127.1" y2="840.57" stroke="#8e8e92" stroke-width="1.6" />
<line x1="1122.1" y1="831.72" x2="1132.1" y2="831.72" stroke="#8e8e92" stroke-width="1.7" />
<line x1="1122.1" y1="840.57" x2="1132.1" y2="840.57" stroke="#8e8e92" stroke-width="1.7" />
<line x1="1178.8" y1="831.72" x2="1178.8" y2="849.41" stroke="#8e8e92" stroke-width="1.6" />
<line x1="1173.8" y1="831.72" x2="1183.8" y2="831.72" stroke="#8e8e92" stroke-width="1.7" />
<line x1="1173.8" y1="849.41" x2="1183.8" y2="849.41" stroke="#8e8e92" stroke-width="1.7" />
<line x1="1230.5" y1="821.11" x2="1230.5" y2="833.49" stroke="#8e8e92" stroke-width="1.6" />
<line x1="1225.5" y1="821.11" x2="1235.5" y2="821.11" stroke="#8e8e92" stroke-width="1.7" />
<line x1="1225.5" y1="833.49" x2="1235.5" y2="833.49" stroke="#8e8e92" stroke-width="1.7" />
<polyline points="972.2,827.3 1023.8,822.88 1075.5,823.76 1127.1,836.14 1178.8,840.57 1230.5,827.3" fill="none" stroke="#8e8e92" stroke-width="1.6" stroke-linejoin="round" stroke-linecap="butt" />
<circle cx="972.2" cy="827.3" r="4.8" fill="#8e8e92"/>
<circle cx="1023.8" cy="822.88" r="4.8" fill="#8e8e92"/>
<circle cx="1075.5" cy="823.76" r="4.8" fill="#8e8e92"/>
<circle cx="1127.1" cy="836.14" r="4.8" fill="#8e8e92"/>
<circle cx="1178.8" cy="840.57" r="4.8" fill="#8e8e92"/>
<circle cx="1230.5" cy="827.3" r="4.8" fill="#8e8e92"/>
<line x1="1144.4" y1="713.8" x2="1169" y2="713.8" stroke="#8e8e92" stroke-width="1.5" />
<circle cx="1156.8" cy="713.8" r="4.7" fill="#8e8e92"/>
<text class="sa" x="1183.2" y="719.2" font-size="15.2" font-weight="bold" text-anchor="start" fill="#111" letter-spacing="0.55">TH</text>
<line x1="1144.4" y1="732.2" x2="1169" y2="732.2" stroke="#3ab44a" stroke-width="1.5" />
<rect x="1151.9" y="727.3" width="9.8" height="9.8" fill="#3ab44a" stroke="none" stroke-width="1" />
<text class="sa" x="1183.2" y="737.6" font-size="15.2" font-weight="bold" text-anchor="start" fill="#111" letter-spacing="0.55">D-TH</text>
<line x1="1144.4" y1="750.9" x2="1169" y2="750.9" stroke="#2a30b0" stroke-width="1.5" />
<polygon points="1156.8,745.4 1151.7,754.58 1161.9,754.58" fill="#2a30b0"/>
<text class="sa" x="1183.2" y="756.3" font-size="15.2" font-weight="bold" text-anchor="start" fill="#111" letter-spacing="0.55">P-TH</text>
<line x1="1144.4" y1="769" x2="1169" y2="769" stroke="#e8222a" stroke-width="1.5" />
<polygon points="1156.8,774.5 1151.7,765.32 1161.9,765.32" fill="#e8222a"/>
<text class="sa" x="1183.2" y="774.4" font-size="15.2" font-weight="bold" text-anchor="start" fill="#111" letter-spacing="0.55">ODP-TH</text>
<path d="M946.6 702.6 V923.7 H1257.1 V702.6 Z" fill="none" stroke="#000" stroke-width="2.4"/>
<text class="sa" x="906.2" y="814" font-size="15" font-weight="bold" text-anchor="middle" fill="#000" transform="rotate(-90 906.2 814)" >Hydrodynamic diameter (nm)</text>
<text class="sa" x="1101" y="974.2" font-size="15.2" font-weight="bold" text-anchor="middle" fill="#000" >Day</text>
</g>
</svg>
</body>
</html>
